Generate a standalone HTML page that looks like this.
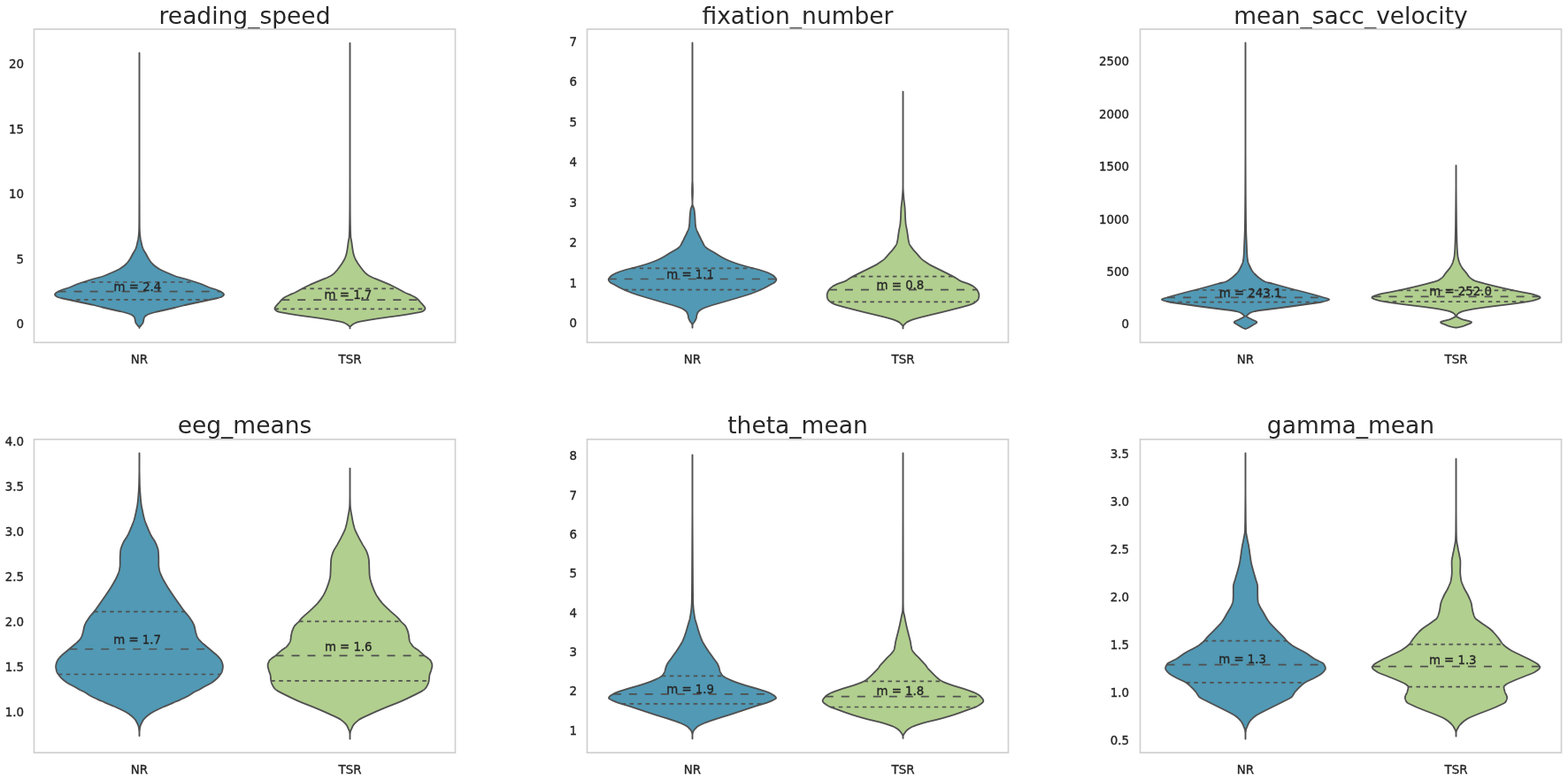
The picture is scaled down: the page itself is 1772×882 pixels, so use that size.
<!DOCTYPE html><html><head><meta charset="utf-8"><title>violins</title><style>html,body{margin:0;padding:0;background:#fff;overflow:hidden;}svg{display:block;}text{font-family:"DejaVu Sans","Liberation Sans",sans-serif;fill:#262626;}text.s{stroke:#262626;stroke-width:0.35px;}</style></head><body>
<svg width="1772" height="882" viewBox="0 0 1772 882">
<rect width="1772" height="882" fill="#fff"/>
<g>
<text x="276.5" y="26.9" text-anchor="middle" font-size="26.5">reading_speed</text>
<text x="27.1" y="371.2" class="s" text-anchor="end" font-size="13.4">0</text>
<text x="27.1" y="297.6" class="s" text-anchor="end" font-size="13.4">5</text>
<text x="27.1" y="224.0" class="s" text-anchor="end" font-size="13.4">10</text>
<text x="27.1" y="150.5" class="s" text-anchor="end" font-size="13.4">15</text>
<text x="27.1" y="76.9" class="s" text-anchor="end" font-size="13.4">20</text>
<text x="157.5" y="411.3" class="s" text-anchor="middle" font-size="13.4">NR</text>
<text x="395.5" y="411.3" class="s" text-anchor="middle" font-size="13.4">TSR</text>
<path d="M157.55,60.00 157.55,60.50 157.55,61.00 157.55,61.50 157.55,62.00 157.55,62.50 157.55,63.00 157.55,63.50 157.55,64.00 157.55,64.50 157.55,65.00 157.55,65.50 157.55,66.00 157.55,66.50 157.55,67.00 157.55,67.50 157.55,68.00 157.55,68.50 157.55,69.00 157.55,69.50 157.55,70.00 157.55,70.50 157.55,71.00 157.55,71.50 157.55,72.00 157.55,72.50 157.55,73.00 157.55,73.50 157.55,74.00 157.55,74.50 157.55,75.00 157.55,75.50 157.55,76.00 157.55,76.50 157.55,77.00 157.55,77.50 157.55,78.00 157.55,78.50 157.55,79.00 157.55,79.50 157.55,80.00 157.55,80.50 157.55,81.00 157.55,81.50 157.55,82.00 157.55,82.50 157.55,83.00 157.55,83.50 157.55,84.00 157.55,84.50 157.55,85.00 157.55,85.50 157.55,86.00 157.55,86.50 157.55,87.00 157.55,87.50 157.55,88.00 157.55,88.50 157.55,89.00 157.55,89.50 157.55,90.00 157.55,90.50 157.55,91.00 157.55,91.50 157.55,92.00 157.55,92.50 157.55,93.00 157.55,93.50 157.55,94.00 157.55,94.50 157.55,95.00 157.55,95.50 157.55,96.00 157.55,96.50 157.55,97.00 157.55,97.50 157.55,98.00 157.55,98.50 157.55,99.00 157.55,99.50 157.55,100.00 157.55,100.50 157.55,101.00 157.55,101.50 157.55,102.00 157.55,102.50 157.55,103.00 157.55,103.50 157.55,104.00 157.55,104.50 157.55,105.00 157.55,105.50 157.55,106.00 157.55,106.50 157.55,107.00 157.55,107.50 157.55,108.00 157.55,108.50 157.55,109.00 157.55,109.50 157.55,110.00 157.55,110.50 157.55,111.00 157.55,111.50 157.55,112.00 157.55,112.50 157.55,113.00 157.55,113.50 157.55,114.00 157.55,114.50 157.55,115.00 157.55,115.50 157.55,116.00 157.55,116.50 157.55,117.00 157.55,117.50 157.55,118.00 157.55,118.50 157.55,119.00 157.55,119.50 157.55,120.00 157.55,120.50 157.55,121.00 157.55,121.50 157.55,122.00 157.55,122.50 157.55,123.00 157.55,123.50 157.55,124.00 157.55,124.50 157.55,125.00 157.55,125.50 157.55,126.00 157.55,126.50 157.55,127.00 157.55,127.50 157.55,128.00 157.55,128.50 157.55,129.00 157.55,129.50 157.55,130.00 157.55,130.50 157.55,131.00 157.55,131.50 157.55,132.00 157.55,132.50 157.55,133.00 157.55,133.50 157.55,134.00 157.55,134.50 157.55,135.00 157.55,135.50 157.55,136.00 157.55,136.50 157.55,137.00 157.55,137.50 157.55,138.00 157.55,138.50 157.55,139.00 157.55,139.50 157.55,140.00 157.55,140.50 157.55,141.00 157.55,141.50 157.55,142.00 157.55,142.50 157.55,143.00 157.55,143.50 157.55,144.00 157.55,144.50 157.55,145.00 157.55,145.50 157.55,146.00 157.55,146.50 157.55,147.00 157.55,147.50 157.55,148.00 157.55,148.50 157.55,149.00 157.55,149.50 157.55,150.00 157.55,150.50 157.55,151.00 157.55,151.50 157.55,152.00 157.55,152.50 157.55,153.00 157.55,153.50 157.55,154.00 157.55,154.50 157.55,155.00 157.55,155.50 157.55,156.00 157.55,156.50 157.55,157.00 157.55,157.50 157.55,158.00 157.55,158.50 157.55,159.00 157.55,159.50 157.55,160.00 157.55,160.50 157.55,161.00 157.55,161.50 157.55,162.00 157.55,162.50 157.55,163.00 157.55,163.50 157.55,164.00 157.55,164.50 157.55,165.00 157.55,165.50 157.55,166.00 157.55,166.50 157.55,167.00 157.55,167.50 157.55,168.00 157.55,168.50 157.55,169.00 157.55,169.50 157.55,170.00 157.55,170.50 157.55,171.00 157.55,171.50 157.55,172.00 157.55,172.50 157.55,173.00 157.55,173.50 157.55,174.00 157.55,174.50 157.55,175.00 157.55,175.50 157.55,176.00 157.55,176.50 157.55,177.00 157.55,177.50 157.55,178.00 157.55,178.50 157.55,179.00 157.55,179.50 157.55,180.00 157.55,180.50 157.55,181.00 157.55,181.50 157.55,182.00 157.55,182.50 157.55,183.00 157.55,183.50 157.55,184.00 157.55,184.50 157.55,185.00 157.55,185.50 157.55,186.00 157.55,186.50 157.55,187.00 157.55,187.50 157.55,188.00 157.55,188.50 157.55,189.00 157.55,189.50 157.55,190.00 157.55,190.50 157.55,191.00 157.55,191.50 157.55,192.00 157.55,192.50 157.55,193.00 157.55,193.50 157.55,194.00 157.55,194.50 157.55,195.00 157.55,195.50 157.55,196.00 157.55,196.50 157.55,197.00 157.55,197.50 157.55,198.00 157.55,198.50 157.55,199.00 157.55,199.50 157.55,200.00 157.55,200.50 157.55,201.00 157.55,201.50 157.55,202.00 157.55,202.50 157.55,203.00 157.55,203.50 157.55,204.00 157.55,204.50 157.55,205.00 157.55,205.50 157.55,206.00 157.55,206.50 157.56,207.00 157.56,207.50 157.56,208.00 157.56,208.50 157.56,209.00 157.56,209.50 157.56,210.00 157.57,210.50 157.57,211.00 157.57,211.50 157.57,212.00 157.57,212.50 157.57,213.00 157.57,213.50 157.57,214.00 157.58,214.50 157.58,215.00 157.58,215.50 157.58,216.00 157.58,216.50 157.58,217.00 157.58,217.50 157.59,218.00 157.59,218.50 157.59,219.00 157.59,219.50 157.59,220.00 157.59,220.50 157.59,221.00 157.60,221.50 157.60,222.00 157.60,222.50 157.60,223.00 157.60,223.50 157.60,224.00 157.60,224.50 157.61,225.00 157.61,225.50 157.61,226.00 157.61,226.50 157.61,227.00 157.61,227.50 157.61,228.00 157.62,228.50 157.62,229.00 157.62,229.50 157.62,230.00 157.62,230.50 157.62,231.00 157.62,231.50 157.63,232.00 157.63,232.50 157.63,233.00 157.63,233.50 157.63,234.00 157.63,234.50 157.63,235.00 157.64,235.50 157.64,236.00 157.64,236.50 157.64,237.00 157.64,237.50 157.64,238.00 157.65,238.50 157.65,239.00 157.65,239.50 157.65,240.00 157.65,240.50 157.65,241.00 157.65,241.50 157.66,242.00 157.66,242.50 157.66,243.00 157.66,243.50 157.66,244.00 157.66,244.50 157.67,245.00 157.67,245.50 157.67,246.00 157.67,246.50 157.67,247.00 157.68,247.50 157.68,248.00 157.68,248.50 157.68,249.00 157.69,249.50 157.69,250.00 157.69,250.50 157.70,251.00 157.70,251.50 157.70,252.00 157.71,252.50 157.71,253.00 157.72,253.50 157.72,254.00 157.72,254.50 157.73,255.00 157.73,255.50 157.74,256.00 157.74,256.50 157.75,257.00 157.76,257.50 157.77,258.00 157.78,258.50 157.80,259.00 157.82,259.50 157.84,260.00 157.86,260.50 157.89,261.00 157.92,261.50 157.95,262.00 157.98,262.50 158.01,263.00 158.04,263.50 158.09,264.00 158.14,264.50 158.19,265.00 158.24,265.50 158.29,266.00 158.34,266.50 158.39,267.00 158.44,267.50 158.50,268.00 158.56,268.50 158.63,269.00 158.70,269.50 158.78,270.00 158.86,270.50 158.96,271.00 159.06,271.50 159.18,272.00 159.30,272.50 159.43,273.00 159.54,273.50 159.64,274.00 159.74,274.50 159.85,275.00 159.96,275.50 160.07,276.00 160.19,276.50 160.31,277.00 160.44,277.50 160.58,278.00 160.73,278.50 160.88,279.00 161.05,279.50 161.22,280.00 161.40,280.50 161.58,281.00 161.78,281.50 162.00,282.00 162.25,282.50 162.52,283.00 162.80,283.50 163.10,284.00 163.40,284.50 163.71,285.00 164.02,285.50 164.32,286.00 164.62,286.50 164.90,287.00 165.17,287.50 165.44,288.00 165.70,288.50 165.95,289.00 166.21,289.50 166.47,290.00 166.73,290.50 167.00,291.00 167.28,291.50 167.57,292.00 167.87,292.50 168.19,293.00 168.52,293.50 168.85,294.00 169.19,294.50 169.55,295.00 169.92,295.50 170.30,296.00 170.70,296.50 171.12,297.00 171.55,297.50 172.01,298.00 172.50,298.50 173.01,299.00 173.56,299.50 174.13,300.00 174.74,300.50 175.38,301.00 176.05,301.50 176.75,302.00 177.47,302.50 178.22,303.00 179.00,303.50 179.80,304.00 180.65,304.50 181.57,305.00 182.54,305.50 183.57,306.00 184.63,306.50 185.74,307.00 186.87,307.50 188.03,308.00 189.19,308.50 190.36,309.00 191.53,309.50 192.69,310.00 193.85,310.50 195.02,311.00 196.24,311.50 197.52,312.00 198.91,312.50 200.45,313.00 202.23,313.50 204.15,314.00 206.13,314.50 208.06,315.00 209.84,315.50 211.52,316.00 213.15,316.50 214.75,317.00 216.32,317.50 217.88,318.00 219.44,318.50 221.02,319.00 222.59,319.50 224.13,320.00 225.61,320.50 227.00,321.00 228.29,321.50 229.49,322.00 230.63,322.50 231.75,323.00 232.87,323.50 234.01,324.00 235.21,324.50 236.50,325.00 237.94,325.50 239.52,326.00 241.14,326.50 242.74,327.00 244.21,327.50 245.50,328.00 246.73,328.50 247.90,329.00 248.98,329.50 249.90,330.00 250.63,330.50 251.31,331.00 251.95,331.50 252.49,332.00 252.86,332.50 253.00,333.00 252.87,333.50 252.53,334.00 252.01,334.50 251.37,335.00 250.65,335.50 249.70,336.00 248.20,336.50 246.28,337.00 244.06,337.50 241.67,338.00 239.23,338.50 236.89,339.00 234.68,339.50 232.41,340.00 230.08,340.50 227.72,341.00 225.34,341.50 223.00,342.00 220.65,342.50 218.27,343.00 215.90,343.50 213.57,344.00 211.31,344.50 209.15,345.00 207.12,345.50 205.17,346.00 203.24,346.50 201.31,347.00 199.32,347.50 197.24,348.00 195.09,348.50 192.90,349.00 190.69,349.50 188.48,350.00 186.30,350.50 184.08,351.00 181.80,351.50 179.54,352.00 177.38,352.50 175.38,353.00 173.61,353.50 171.90,354.00 170.25,354.50 168.73,355.00 167.40,355.50 166.34,356.00 165.54,356.50 164.84,357.00 164.21,357.50 163.69,358.00 163.28,358.50 163.00,359.00 162.82,359.50 162.68,360.00 162.57,360.50 162.47,361.00 162.36,361.50 162.26,362.00 162.16,362.50 162.08,363.00 161.99,363.50 161.89,364.00 161.76,364.50 161.58,365.00 161.31,365.50 160.96,366.00 160.56,366.50 160.17,367.00 159.80,367.50 159.44,368.00 158.93,368.50 158.43,369.00 157.96,369.50 157.61,370.00 157.55,370.50 157.55,370.80 L157.45,370.80 157.45,370.50 157.39,370.00 157.04,369.50 156.57,369.00 156.07,368.50 155.56,368.00 155.20,367.50 154.83,367.00 154.44,366.50 154.04,366.00 153.69,365.50 153.42,365.00 153.24,364.50 153.11,364.00 153.01,363.50 152.92,363.00 152.84,362.50 152.74,362.00 152.64,361.50 152.53,361.00 152.43,360.50 152.32,360.00 152.18,359.50 152.00,359.00 151.72,358.50 151.31,358.00 150.79,357.50 150.16,357.00 149.46,356.50 148.66,356.00 147.60,355.50 146.27,355.00 144.75,354.50 143.10,354.00 141.39,353.50 139.62,353.00 137.62,352.50 135.46,352.00 133.20,351.50 130.92,351.00 128.70,350.50 126.52,350.00 124.31,349.50 122.10,349.00 119.91,348.50 117.76,348.00 115.68,347.50 113.69,347.00 111.76,346.50 109.83,346.00 107.88,345.50 105.85,345.00 103.69,344.50 101.43,344.00 99.10,343.50 96.73,343.00 94.35,342.50 92.00,342.00 89.66,341.50 87.28,341.00 84.92,340.50 82.59,340.00 80.32,339.50 78.11,339.00 75.77,338.50 73.33,338.00 70.94,337.50 68.72,337.00 66.80,336.50 65.30,336.00 64.35,335.50 63.63,335.00 62.99,334.50 62.47,334.00 62.13,333.50 62.00,333.00 62.14,332.50 62.51,332.00 63.05,331.50 63.69,331.00 64.37,330.50 65.10,330.00 66.02,329.50 67.10,329.00 68.27,328.50 69.50,328.00 70.79,327.50 72.26,327.00 73.86,326.50 75.48,326.00 77.06,325.50 78.50,325.00 79.79,324.50 80.99,324.00 82.13,323.50 83.25,323.00 84.37,322.50 85.51,322.00 86.71,321.50 88.00,321.00 89.39,320.50 90.87,320.00 92.41,319.50 93.98,319.00 95.56,318.50 97.12,318.00 98.68,317.50 100.25,317.00 101.85,316.50 103.48,316.00 105.16,315.50 106.94,315.00 108.87,314.50 110.85,314.00 112.77,313.50 114.55,313.00 116.09,312.50 117.48,312.00 118.76,311.50 119.98,311.00 121.15,310.50 122.31,310.00 123.47,309.50 124.64,309.00 125.81,308.50 126.97,308.00 128.13,307.50 129.26,307.00 130.37,306.50 131.43,306.00 132.46,305.50 133.43,305.00 134.35,304.50 135.20,304.00 136.00,303.50 136.78,303.00 137.53,302.50 138.25,302.00 138.95,301.50 139.62,301.00 140.26,300.50 140.87,300.00 141.44,299.50 141.99,299.00 142.50,298.50 142.99,298.00 143.45,297.50 143.88,297.00 144.30,296.50 144.70,296.00 145.08,295.50 145.45,295.00 145.81,294.50 146.15,294.00 146.48,293.50 146.81,293.00 147.13,292.50 147.43,292.00 147.72,291.50 148.00,291.00 148.27,290.50 148.53,290.00 148.79,289.50 149.05,289.00 149.30,288.50 149.56,288.00 149.83,287.50 150.10,287.00 150.38,286.50 150.68,286.00 150.98,285.50 151.29,285.00 151.60,284.50 151.90,284.00 152.20,283.50 152.48,283.00 152.75,282.50 153.00,282.00 153.22,281.50 153.42,281.00 153.60,280.50 153.78,280.00 153.95,279.50 154.12,279.00 154.27,278.50 154.42,278.00 154.56,277.50 154.69,277.00 154.81,276.50 154.93,276.00 155.04,275.50 155.15,275.00 155.26,274.50 155.36,274.00 155.46,273.50 155.57,273.00 155.70,272.50 155.82,272.00 155.94,271.50 156.04,271.00 156.14,270.50 156.22,270.00 156.30,269.50 156.37,269.00 156.44,268.50 156.50,268.00 156.56,267.50 156.61,267.00 156.66,266.50 156.71,266.00 156.76,265.50 156.81,265.00 156.86,264.50 156.91,264.00 156.96,263.50 156.99,263.00 157.02,262.50 157.05,262.00 157.08,261.50 157.11,261.00 157.14,260.50 157.16,260.00 157.18,259.50 157.20,259.00 157.22,258.50 157.23,258.00 157.24,257.50 157.25,257.00 157.26,256.50 157.26,256.00 157.27,255.50 157.27,255.00 157.28,254.50 157.28,254.00 157.28,253.50 157.29,253.00 157.29,252.50 157.30,252.00 157.30,251.50 157.30,251.00 157.31,250.50 157.31,250.00 157.31,249.50 157.32,249.00 157.32,248.50 157.32,248.00 157.32,247.50 157.33,247.00 157.33,246.50 157.33,246.00 157.33,245.50 157.33,245.00 157.34,244.50 157.34,244.00 157.34,243.50 157.34,243.00 157.34,242.50 157.34,242.00 157.35,241.50 157.35,241.00 157.35,240.50 157.35,240.00 157.35,239.50 157.35,239.00 157.35,238.50 157.36,238.00 157.36,237.50 157.36,237.00 157.36,236.50 157.36,236.00 157.36,235.50 157.37,235.00 157.37,234.50 157.37,234.00 157.37,233.50 157.37,233.00 157.37,232.50 157.37,232.00 157.38,231.50 157.38,231.00 157.38,230.50 157.38,230.00 157.38,229.50 157.38,229.00 157.38,228.50 157.39,228.00 157.39,227.50 157.39,227.00 157.39,226.50 157.39,226.00 157.39,225.50 157.39,225.00 157.40,224.50 157.40,224.00 157.40,223.50 157.40,223.00 157.40,222.50 157.40,222.00 157.40,221.50 157.41,221.00 157.41,220.50 157.41,220.00 157.41,219.50 157.41,219.00 157.41,218.50 157.41,218.00 157.42,217.50 157.42,217.00 157.42,216.50 157.42,216.00 157.42,215.50 157.42,215.00 157.42,214.50 157.43,214.00 157.43,213.50 157.43,213.00 157.43,212.50 157.43,212.00 157.43,211.50 157.43,211.00 157.43,210.50 157.44,210.00 157.44,209.50 157.44,209.00 157.44,208.50 157.44,208.00 157.44,207.50 157.44,207.00 157.45,206.50 157.45,206.00 157.45,205.50 157.45,205.00 157.45,204.50 157.45,204.00 157.45,203.50 157.45,203.00 157.45,202.50 157.45,202.00 157.45,201.50 157.45,201.00 157.45,200.50 157.45,200.00 157.45,199.50 157.45,199.00 157.45,198.50 157.45,198.00 157.45,197.50 157.45,197.00 157.45,196.50 157.45,196.00 157.45,195.50 157.45,195.00 157.45,194.50 157.45,194.00 157.45,193.50 157.45,193.00 157.45,192.50 157.45,192.00 157.45,191.50 157.45,191.00 157.45,190.50 157.45,190.00 157.45,189.50 157.45,189.00 157.45,188.50 157.45,188.00 157.45,187.50 157.45,187.00 157.45,186.50 157.45,186.00 157.45,185.50 157.45,185.00 157.45,184.50 157.45,184.00 157.45,183.50 157.45,183.00 157.45,182.50 157.45,182.00 157.45,181.50 157.45,181.00 157.45,180.50 157.45,180.00 157.45,179.50 157.45,179.00 157.45,178.50 157.45,178.00 157.45,177.50 157.45,177.00 157.45,176.50 157.45,176.00 157.45,175.50 157.45,175.00 157.45,174.50 157.45,174.00 157.45,173.50 157.45,173.00 157.45,172.50 157.45,172.00 157.45,171.50 157.45,171.00 157.45,170.50 157.45,170.00 157.45,169.50 157.45,169.00 157.45,168.50 157.45,168.00 157.45,167.50 157.45,167.00 157.45,166.50 157.45,166.00 157.45,165.50 157.45,165.00 157.45,164.50 157.45,164.00 157.45,163.50 157.45,163.00 157.45,162.50 157.45,162.00 157.45,161.50 157.45,161.00 157.45,160.50 157.45,160.00 157.45,159.50 157.45,159.00 157.45,158.50 157.45,158.00 157.45,157.50 157.45,157.00 157.45,156.50 157.45,156.00 157.45,155.50 157.45,155.00 157.45,154.50 157.45,154.00 157.45,153.50 157.45,153.00 157.45,152.50 157.45,152.00 157.45,151.50 157.45,151.00 157.45,150.50 157.45,150.00 157.45,149.50 157.45,149.00 157.45,148.50 157.45,148.00 157.45,147.50 157.45,147.00 157.45,146.50 157.45,146.00 157.45,145.50 157.45,145.00 157.45,144.50 157.45,144.00 157.45,143.50 157.45,143.00 157.45,142.50 157.45,142.00 157.45,141.50 157.45,141.00 157.45,140.50 157.45,140.00 157.45,139.50 157.45,139.00 157.45,138.50 157.45,138.00 157.45,137.50 157.45,137.00 157.45,136.50 157.45,136.00 157.45,135.50 157.45,135.00 157.45,134.50 157.45,134.00 157.45,133.50 157.45,133.00 157.45,132.50 157.45,132.00 157.45,131.50 157.45,131.00 157.45,130.50 157.45,130.00 157.45,129.50 157.45,129.00 157.45,128.50 157.45,128.00 157.45,127.50 157.45,127.00 157.45,126.50 157.45,126.00 157.45,125.50 157.45,125.00 157.45,124.50 157.45,124.00 157.45,123.50 157.45,123.00 157.45,122.50 157.45,122.00 157.45,121.50 157.45,121.00 157.45,120.50 157.45,120.00 157.45,119.50 157.45,119.00 157.45,118.50 157.45,118.00 157.45,117.50 157.45,117.00 157.45,116.50 157.45,116.00 157.45,115.50 157.45,115.00 157.45,114.50 157.45,114.00 157.45,113.50 157.45,113.00 157.45,112.50 157.45,112.00 157.45,111.50 157.45,111.00 157.45,110.50 157.45,110.00 157.45,109.50 157.45,109.00 157.45,108.50 157.45,108.00 157.45,107.50 157.45,107.00 157.45,106.50 157.45,106.00 157.45,105.50 157.45,105.00 157.45,104.50 157.45,104.00 157.45,103.50 157.45,103.00 157.45,102.50 157.45,102.00 157.45,101.50 157.45,101.00 157.45,100.50 157.45,100.00 157.45,99.50 157.45,99.00 157.45,98.50 157.45,98.00 157.45,97.50 157.45,97.00 157.45,96.50 157.45,96.00 157.45,95.50 157.45,95.00 157.45,94.50 157.45,94.00 157.45,93.50 157.45,93.00 157.45,92.50 157.45,92.00 157.45,91.50 157.45,91.00 157.45,90.50 157.45,90.00 157.45,89.50 157.45,89.00 157.45,88.50 157.45,88.00 157.45,87.50 157.45,87.00 157.45,86.50 157.45,86.00 157.45,85.50 157.45,85.00 157.45,84.50 157.45,84.00 157.45,83.50 157.45,83.00 157.45,82.50 157.45,82.00 157.45,81.50 157.45,81.00 157.45,80.50 157.45,80.00 157.45,79.50 157.45,79.00 157.45,78.50 157.45,78.00 157.45,77.50 157.45,77.00 157.45,76.50 157.45,76.00 157.45,75.50 157.45,75.00 157.45,74.50 157.45,74.00 157.45,73.50 157.45,73.00 157.45,72.50 157.45,72.00 157.45,71.50 157.45,71.00 157.45,70.50 157.45,70.00 157.45,69.50 157.45,69.00 157.45,68.50 157.45,68.00 157.45,67.50 157.45,67.00 157.45,66.50 157.45,66.00 157.45,65.50 157.45,65.00 157.45,64.50 157.45,64.00 157.45,63.50 157.45,63.00 157.45,62.50 157.45,62.00 157.45,61.50 157.45,61.00 157.45,60.50 157.45,60.00 Z" fill="#5199b5" stroke="#505050" stroke-width="1.8" stroke-linejoin="round"/>
<line x1="93.98" y1="319.00" x2="221.02" y2="319.00" stroke="#505050" stroke-width="1.7" stroke-dasharray="4.5 4.5"/>
<line x1="65.63" y1="329.70" x2="249.37" y2="329.70" stroke="#505050" stroke-width="1.7" stroke-dasharray="9 9"/>
<line x1="77.19" y1="338.80" x2="237.81" y2="338.80" stroke="#505050" stroke-width="1.7" stroke-dasharray="4.5 4.5"/>
<text x="128.6" y="329.3" class="s" font-size="13.3">m = 2.4</text>
<path d="M395.55,48.70 395.55,49.20 395.55,49.70 395.55,50.20 395.55,50.70 395.55,51.20 395.55,51.70 395.55,52.20 395.55,52.70 395.55,53.20 395.55,53.70 395.55,54.20 395.55,54.70 395.55,55.20 395.55,55.70 395.55,56.20 395.55,56.70 395.55,57.20 395.55,57.70 395.55,58.20 395.55,58.70 395.55,59.20 395.55,59.70 395.55,60.20 395.55,60.70 395.55,61.20 395.55,61.70 395.55,62.20 395.55,62.70 395.55,63.20 395.55,63.70 395.55,64.20 395.55,64.70 395.55,65.20 395.55,65.70 395.55,66.20 395.55,66.70 395.55,67.20 395.55,67.70 395.55,68.20 395.55,68.70 395.55,69.20 395.55,69.70 395.55,70.20 395.55,70.70 395.55,71.20 395.55,71.70 395.55,72.20 395.55,72.70 395.55,73.20 395.55,73.70 395.55,74.20 395.55,74.70 395.55,75.20 395.55,75.70 395.55,76.20 395.55,76.70 395.55,77.20 395.55,77.70 395.55,78.20 395.55,78.70 395.55,79.20 395.55,79.70 395.55,80.20 395.55,80.70 395.55,81.20 395.55,81.70 395.55,82.20 395.55,82.70 395.55,83.20 395.55,83.70 395.55,84.20 395.55,84.70 395.55,85.20 395.55,85.70 395.55,86.20 395.55,86.70 395.55,87.20 395.55,87.70 395.55,88.20 395.55,88.70 395.55,89.20 395.55,89.70 395.55,90.20 395.55,90.70 395.55,91.20 395.55,91.70 395.55,92.20 395.55,92.70 395.55,93.20 395.55,93.70 395.55,94.20 395.55,94.70 395.55,95.20 395.55,95.70 395.55,96.20 395.55,96.70 395.55,97.20 395.55,97.70 395.55,98.20 395.55,98.70 395.55,99.20 395.55,99.70 395.55,100.20 395.55,100.70 395.55,101.20 395.55,101.70 395.55,102.20 395.55,102.70 395.55,103.20 395.55,103.70 395.55,104.20 395.55,104.70 395.55,105.20 395.55,105.70 395.55,106.20 395.55,106.70 395.55,107.20 395.55,107.70 395.55,108.20 395.55,108.70 395.55,109.20 395.55,109.70 395.55,110.20 395.55,110.70 395.55,111.20 395.55,111.70 395.55,112.20 395.55,112.70 395.55,113.20 395.55,113.70 395.55,114.20 395.55,114.70 395.55,115.20 395.55,115.70 395.55,116.20 395.55,116.70 395.55,117.20 395.55,117.70 395.55,118.20 395.55,118.70 395.55,119.20 395.55,119.70 395.55,120.20 395.55,120.70 395.55,121.20 395.55,121.70 395.55,122.20 395.55,122.70 395.55,123.20 395.55,123.70 395.55,124.20 395.55,124.70 395.55,125.20 395.55,125.70 395.55,126.20 395.55,126.70 395.55,127.20 395.55,127.70 395.55,128.20 395.55,128.70 395.55,129.20 395.55,129.70 395.55,130.20 395.55,130.70 395.55,131.20 395.55,131.70 395.55,132.20 395.55,132.70 395.55,133.20 395.55,133.70 395.55,134.20 395.55,134.70 395.55,135.20 395.55,135.70 395.55,136.20 395.55,136.70 395.55,137.20 395.55,137.70 395.55,138.20 395.55,138.70 395.55,139.20 395.55,139.70 395.55,140.20 395.55,140.70 395.55,141.20 395.55,141.70 395.55,142.20 395.55,142.70 395.55,143.20 395.55,143.70 395.55,144.20 395.55,144.70 395.55,145.20 395.55,145.70 395.55,146.20 395.55,146.70 395.55,147.20 395.55,147.70 395.55,148.20 395.55,148.70 395.55,149.20 395.55,149.70 395.55,150.20 395.55,150.70 395.55,151.20 395.55,151.70 395.55,152.20 395.55,152.70 395.55,153.20 395.55,153.70 395.55,154.20 395.55,154.70 395.55,155.20 395.55,155.70 395.55,156.20 395.55,156.70 395.55,157.20 395.55,157.70 395.55,158.20 395.55,158.70 395.55,159.20 395.55,159.70 395.55,160.20 395.55,160.70 395.55,161.20 395.55,161.70 395.55,162.20 395.55,162.70 395.55,163.20 395.55,163.70 395.55,164.20 395.55,164.70 395.55,165.20 395.55,165.70 395.55,166.20 395.55,166.70 395.55,167.20 395.55,167.70 395.55,168.20 395.55,168.70 395.55,169.20 395.55,169.70 395.55,170.20 395.55,170.70 395.55,171.20 395.55,171.70 395.55,172.20 395.55,172.70 395.55,173.20 395.55,173.70 395.55,174.20 395.55,174.70 395.55,175.20 395.55,175.70 395.55,176.20 395.55,176.70 395.55,177.20 395.55,177.70 395.55,178.20 395.55,178.70 395.55,179.20 395.55,179.70 395.55,180.20 395.55,180.70 395.55,181.20 395.55,181.70 395.55,182.20 395.55,182.70 395.55,183.20 395.55,183.70 395.55,184.20 395.55,184.70 395.55,185.20 395.55,185.70 395.55,186.20 395.55,186.70 395.55,187.20 395.55,187.70 395.55,188.20 395.55,188.70 395.55,189.20 395.55,189.70 395.55,190.20 395.55,190.70 395.55,191.20 395.55,191.70 395.55,192.20 395.55,192.70 395.55,193.20 395.55,193.70 395.55,194.20 395.55,194.70 395.55,195.20 395.55,195.70 395.55,196.20 395.55,196.70 395.55,197.20 395.55,197.70 395.55,198.20 395.55,198.70 395.55,199.20 395.55,199.70 395.55,200.20 395.55,200.70 395.56,201.20 395.56,201.70 395.56,202.20 395.56,202.70 395.56,203.20 395.56,203.70 395.56,204.20 395.57,204.70 395.57,205.20 395.57,205.70 395.57,206.20 395.57,206.70 395.57,207.20 395.57,207.70 395.58,208.20 395.58,208.70 395.58,209.20 395.58,209.70 395.58,210.20 395.58,210.70 395.59,211.20 395.59,211.70 395.59,212.20 395.59,212.70 395.59,213.20 395.59,213.70 395.60,214.20 395.60,214.70 395.60,215.20 395.60,215.70 395.60,216.20 395.60,216.70 395.61,217.20 395.61,217.70 395.61,218.20 395.61,218.70 395.61,219.20 395.61,219.70 395.62,220.20 395.62,220.70 395.62,221.20 395.62,221.70 395.62,222.20 395.62,222.70 395.63,223.20 395.63,223.70 395.63,224.20 395.63,224.70 395.63,225.20 395.63,225.70 395.64,226.20 395.64,226.70 395.64,227.20 395.64,227.70 395.64,228.20 395.65,228.70 395.65,229.20 395.65,229.70 395.65,230.20 395.65,230.70 395.65,231.20 395.66,231.70 395.66,232.20 395.66,232.70 395.66,233.20 395.67,233.70 395.67,234.20 395.67,234.70 395.67,235.20 395.68,235.70 395.68,236.20 395.68,236.70 395.69,237.20 395.69,237.70 395.69,238.20 395.70,238.70 395.70,239.20 395.70,239.70 395.71,240.20 395.71,240.70 395.72,241.20 395.72,241.70 395.73,242.20 395.73,242.70 395.74,243.20 395.74,243.70 395.75,244.20 395.75,244.70 395.76,245.20 395.76,245.70 395.77,246.20 395.78,246.70 395.78,247.20 395.79,247.70 395.80,248.20 395.80,248.70 395.81,249.20 395.82,249.70 395.83,250.20 395.83,250.70 395.84,251.20 395.85,251.70 395.86,252.20 395.87,252.70 395.88,253.20 395.89,253.70 395.90,254.20 395.91,254.70 395.92,255.20 395.93,255.70 395.94,256.20 395.95,256.70 395.96,257.20 395.97,257.70 395.98,258.20 395.99,258.70 396.00,259.20 396.02,259.70 396.03,260.20 396.04,260.70 396.06,261.20 396.08,261.70 396.10,262.20 396.12,262.70 396.14,263.20 396.16,263.70 396.18,264.20 396.21,264.70 396.23,265.20 396.25,265.70 396.28,266.20 396.30,266.70 396.32,267.20 396.35,267.70 396.40,268.20 396.46,268.70 396.54,269.20 396.63,269.70 396.72,270.20 396.82,270.70 396.92,271.20 397.01,271.70 397.10,272.20 397.19,272.70 397.27,273.20 397.36,273.70 397.45,274.20 397.52,274.70 397.58,275.20 397.65,275.70 397.71,276.20 397.77,276.70 397.84,277.20 397.91,277.70 397.97,278.20 398.04,278.70 398.11,279.20 398.19,279.70 398.26,280.20 398.33,280.70 398.41,281.20 398.48,281.70 398.56,282.20 398.64,282.70 398.72,283.20 398.81,283.70 398.90,284.20 398.99,284.70 399.09,285.20 399.20,285.70 399.31,286.20 399.43,286.70 399.56,287.20 399.70,287.70 399.84,288.20 399.99,288.70 400.15,289.20 400.32,289.70 400.49,290.20 400.67,290.70 400.86,291.20 401.06,291.70 401.28,292.20 401.52,292.70 401.77,293.20 402.04,293.70 402.32,294.20 402.61,294.70 402.90,295.20 403.20,295.70 403.51,296.20 403.82,296.70 404.12,297.20 404.44,297.70 404.76,298.20 405.10,298.70 405.44,299.20 405.79,299.70 406.15,300.20 406.51,300.70 406.88,301.20 407.25,301.70 407.62,302.20 408.00,302.70 408.38,303.20 408.75,303.70 409.12,304.20 409.50,304.70 409.88,305.20 410.28,305.70 410.68,306.20 411.10,306.70 411.54,307.20 412.01,307.70 412.50,308.20 413.02,308.70 413.59,309.20 414.21,309.70 414.86,310.20 415.56,310.70 416.30,311.20 417.11,311.70 417.98,312.20 418.90,312.70 419.87,313.20 420.88,313.70 421.93,314.20 423.07,314.70 424.28,315.20 425.52,315.70 426.77,316.20 427.98,316.70 429.19,317.20 430.39,317.70 431.60,318.20 432.81,318.70 434.01,319.20 435.20,319.70 436.40,320.20 437.60,320.70 438.80,321.20 439.97,321.70 441.12,322.20 442.22,322.70 443.27,323.20 444.30,323.70 445.31,324.20 446.29,324.70 447.27,325.20 448.23,325.70 449.19,326.20 450.13,326.70 451.05,327.20 451.96,327.70 452.86,328.20 453.76,328.70 454.66,329.20 455.58,329.70 456.53,330.20 457.50,330.70 458.53,331.20 459.63,331.70 460.77,332.20 461.95,332.70 463.13,333.20 464.31,333.70 465.45,334.20 466.55,334.70 467.57,335.20 468.51,335.70 469.35,336.20 470.07,336.70 470.73,337.20 471.33,337.70 471.88,338.20 472.40,338.70 472.89,339.20 473.34,339.70 473.77,340.20 474.19,340.70 474.61,341.20 475.03,341.70 475.48,342.20 475.96,342.70 476.45,343.20 476.94,343.70 477.40,344.20 477.82,344.70 478.22,345.20 478.65,345.70 479.09,346.20 479.51,346.70 479.88,347.20 480.19,347.70 480.40,348.20 480.50,348.70 480.45,349.20 480.24,349.70 479.90,350.20 479.43,350.70 478.84,351.20 478.16,351.70 477.40,352.20 476.05,352.70 473.85,353.20 471.13,353.70 468.25,354.20 465.52,354.70 462.68,355.20 459.66,355.70 456.49,356.20 453.20,356.70 449.67,357.20 445.89,357.70 442.03,358.20 438.25,358.70 434.70,359.20 431.22,359.70 427.80,360.20 424.48,360.70 421.29,361.20 418.28,361.70 415.36,362.20 412.40,362.70 409.53,363.20 406.91,363.70 404.68,364.20 403.00,364.70 401.72,365.20 400.58,365.70 399.59,366.20 398.77,366.70 398.11,367.20 397.61,367.70 397.00,368.20 396.38,368.70 395.89,369.20 395.56,369.70 395.55,370.20 395.55,370.70 395.55,371.20 395.55,371.30 L395.45,371.30 395.45,371.20 395.45,370.70 395.45,370.20 395.44,369.70 395.11,369.20 394.62,368.70 394.00,368.20 393.39,367.70 392.89,367.20 392.23,366.70 391.41,366.20 390.42,365.70 389.28,365.20 388.00,364.70 386.32,364.20 384.09,363.70 381.47,363.20 378.60,362.70 375.64,362.20 372.72,361.70 369.71,361.20 366.52,360.70 363.20,360.20 359.78,359.70 356.30,359.20 352.75,358.70 348.97,358.20 345.11,357.70 341.33,357.20 337.80,356.70 334.51,356.20 331.34,355.70 328.32,355.20 325.48,354.70 322.75,354.20 319.87,353.70 317.15,353.20 314.95,352.70 313.60,352.20 312.84,351.70 312.16,351.20 311.57,350.70 311.10,350.20 310.76,349.70 310.55,349.20 310.50,348.70 310.60,348.20 310.81,347.70 311.12,347.20 311.49,346.70 311.91,346.20 312.35,345.70 312.78,345.20 313.18,344.70 313.60,344.20 314.06,343.70 314.55,343.20 315.04,342.70 315.52,342.20 315.97,341.70 316.39,341.20 316.81,340.70 317.23,340.20 317.66,339.70 318.11,339.20 318.60,338.70 319.12,338.20 319.67,337.70 320.27,337.20 320.93,336.70 321.65,336.20 322.49,335.70 323.43,335.20 324.45,334.70 325.55,334.20 326.69,333.70 327.87,333.20 329.05,332.70 330.23,332.20 331.37,331.70 332.47,331.20 333.50,330.70 334.47,330.20 335.42,329.70 336.34,329.20 337.24,328.70 338.14,328.20 339.04,327.70 339.95,327.20 340.87,326.70 341.81,326.20 342.77,325.70 343.73,325.20 344.71,324.70 345.69,324.20 346.70,323.70 347.73,323.20 348.78,322.70 349.88,322.20 351.03,321.70 352.20,321.20 353.40,320.70 354.60,320.20 355.80,319.70 356.99,319.20 358.19,318.70 359.40,318.20 360.61,317.70 361.81,317.20 363.02,316.70 364.23,316.20 365.48,315.70 366.72,315.20 367.93,314.70 369.07,314.20 370.12,313.70 371.13,313.20 372.10,312.70 373.02,312.20 373.89,311.70 374.70,311.20 375.44,310.70 376.14,310.20 376.79,309.70 377.41,309.20 377.98,308.70 378.50,308.20 378.99,307.70 379.46,307.20 379.90,306.70 380.32,306.20 380.72,305.70 381.12,305.20 381.50,304.70 381.88,304.20 382.25,303.70 382.62,303.20 383.00,302.70 383.38,302.20 383.75,301.70 384.12,301.20 384.49,300.70 384.85,300.20 385.21,299.70 385.56,299.20 385.90,298.70 386.24,298.20 386.56,297.70 386.88,297.20 387.18,296.70 387.49,296.20 387.80,295.70 388.10,295.20 388.39,294.70 388.68,294.20 388.96,293.70 389.23,293.20 389.48,292.70 389.72,292.20 389.94,291.70 390.14,291.20 390.33,290.70 390.51,290.20 390.68,289.70 390.85,289.20 391.01,288.70 391.16,288.20 391.30,287.70 391.44,287.20 391.57,286.70 391.69,286.20 391.80,285.70 391.91,285.20 392.01,284.70 392.10,284.20 392.19,283.70 392.28,283.20 392.36,282.70 392.44,282.20 392.52,281.70 392.59,281.20 392.67,280.70 392.74,280.20 392.81,279.70 392.89,279.20 392.96,278.70 393.03,278.20 393.09,277.70 393.16,277.20 393.23,276.70 393.29,276.20 393.35,275.70 393.42,275.20 393.48,274.70 393.55,274.20 393.64,273.70 393.73,273.20 393.81,272.70 393.90,272.20 393.99,271.70 394.08,271.20 394.18,270.70 394.28,270.20 394.37,269.70 394.46,269.20 394.54,268.70 394.60,268.20 394.65,267.70 394.68,267.20 394.70,266.70 394.72,266.20 394.75,265.70 394.77,265.20 394.79,264.70 394.82,264.20 394.84,263.70 394.86,263.20 394.88,262.70 394.90,262.20 394.92,261.70 394.94,261.20 394.96,260.70 394.97,260.20 394.98,259.70 395.00,259.20 395.01,258.70 395.02,258.20 395.03,257.70 395.04,257.20 395.05,256.70 395.06,256.20 395.07,255.70 395.08,255.20 395.09,254.70 395.10,254.20 395.11,253.70 395.12,253.20 395.13,252.70 395.14,252.20 395.15,251.70 395.16,251.20 395.17,250.70 395.17,250.20 395.18,249.70 395.19,249.20 395.20,248.70 395.20,248.20 395.21,247.70 395.22,247.20 395.22,246.70 395.23,246.20 395.24,245.70 395.24,245.20 395.25,244.70 395.25,244.20 395.26,243.70 395.26,243.20 395.27,242.70 395.27,242.20 395.28,241.70 395.28,241.20 395.29,240.70 395.29,240.20 395.30,239.70 395.30,239.20 395.30,238.70 395.31,238.20 395.31,237.70 395.31,237.20 395.32,236.70 395.32,236.20 395.32,235.70 395.33,235.20 395.33,234.70 395.33,234.20 395.33,233.70 395.34,233.20 395.34,232.70 395.34,232.20 395.34,231.70 395.35,231.20 395.35,230.70 395.35,230.20 395.35,229.70 395.35,229.20 395.35,228.70 395.36,228.20 395.36,227.70 395.36,227.20 395.36,226.70 395.36,226.20 395.37,225.70 395.37,225.20 395.37,224.70 395.37,224.20 395.37,223.70 395.37,223.20 395.38,222.70 395.38,222.20 395.38,221.70 395.38,221.20 395.38,220.70 395.38,220.20 395.39,219.70 395.39,219.20 395.39,218.70 395.39,218.20 395.39,217.70 395.39,217.20 395.40,216.70 395.40,216.20 395.40,215.70 395.40,215.20 395.40,214.70 395.40,214.20 395.41,213.70 395.41,213.20 395.41,212.70 395.41,212.20 395.41,211.70 395.41,211.20 395.42,210.70 395.42,210.20 395.42,209.70 395.42,209.20 395.42,208.70 395.42,208.20 395.43,207.70 395.43,207.20 395.43,206.70 395.43,206.20 395.43,205.70 395.43,205.20 395.43,204.70 395.44,204.20 395.44,203.70 395.44,203.20 395.44,202.70 395.44,202.20 395.44,201.70 395.44,201.20 395.45,200.70 395.45,200.20 395.45,199.70 395.45,199.20 395.45,198.70 395.45,198.20 395.45,197.70 395.45,197.20 395.45,196.70 395.45,196.20 395.45,195.70 395.45,195.20 395.45,194.70 395.45,194.20 395.45,193.70 395.45,193.20 395.45,192.70 395.45,192.20 395.45,191.70 395.45,191.20 395.45,190.70 395.45,190.20 395.45,189.70 395.45,189.20 395.45,188.70 395.45,188.20 395.45,187.70 395.45,187.20 395.45,186.70 395.45,186.20 395.45,185.70 395.45,185.20 395.45,184.70 395.45,184.20 395.45,183.70 395.45,183.20 395.45,182.70 395.45,182.20 395.45,181.70 395.45,181.20 395.45,180.70 395.45,180.20 395.45,179.70 395.45,179.20 395.45,178.70 395.45,178.20 395.45,177.70 395.45,177.20 395.45,176.70 395.45,176.20 395.45,175.70 395.45,175.20 395.45,174.70 395.45,174.20 395.45,173.70 395.45,173.20 395.45,172.70 395.45,172.20 395.45,171.70 395.45,171.20 395.45,170.70 395.45,170.20 395.45,169.70 395.45,169.20 395.45,168.70 395.45,168.20 395.45,167.70 395.45,167.20 395.45,166.70 395.45,166.20 395.45,165.70 395.45,165.20 395.45,164.70 395.45,164.20 395.45,163.70 395.45,163.20 395.45,162.70 395.45,162.20 395.45,161.70 395.45,161.20 395.45,160.70 395.45,160.20 395.45,159.70 395.45,159.20 395.45,158.70 395.45,158.20 395.45,157.70 395.45,157.20 395.45,156.70 395.45,156.20 395.45,155.70 395.45,155.20 395.45,154.70 395.45,154.20 395.45,153.70 395.45,153.20 395.45,152.70 395.45,152.20 395.45,151.70 395.45,151.20 395.45,150.70 395.45,150.20 395.45,149.70 395.45,149.20 395.45,148.70 395.45,148.20 395.45,147.70 395.45,147.20 395.45,146.70 395.45,146.20 395.45,145.70 395.45,145.20 395.45,144.70 395.45,144.20 395.45,143.70 395.45,143.20 395.45,142.70 395.45,142.20 395.45,141.70 395.45,141.20 395.45,140.70 395.45,140.20 395.45,139.70 395.45,139.20 395.45,138.70 395.45,138.20 395.45,137.70 395.45,137.20 395.45,136.70 395.45,136.20 395.45,135.70 395.45,135.20 395.45,134.70 395.45,134.20 395.45,133.70 395.45,133.20 395.45,132.70 395.45,132.20 395.45,131.70 395.45,131.20 395.45,130.70 395.45,130.20 395.45,129.70 395.45,129.20 395.45,128.70 395.45,128.20 395.45,127.70 395.45,127.20 395.45,126.70 395.45,126.20 395.45,125.70 395.45,125.20 395.45,124.70 395.45,124.20 395.45,123.70 395.45,123.20 395.45,122.70 395.45,122.20 395.45,121.70 395.45,121.20 395.45,120.70 395.45,120.20 395.45,119.70 395.45,119.20 395.45,118.70 395.45,118.20 395.45,117.70 395.45,117.20 395.45,116.70 395.45,116.20 395.45,115.70 395.45,115.20 395.45,114.70 395.45,114.20 395.45,113.70 395.45,113.20 395.45,112.70 395.45,112.20 395.45,111.70 395.45,111.20 395.45,110.70 395.45,110.20 395.45,109.70 395.45,109.20 395.45,108.70 395.45,108.20 395.45,107.70 395.45,107.20 395.45,106.70 395.45,106.20 395.45,105.70 395.45,105.20 395.45,104.70 395.45,104.20 395.45,103.70 395.45,103.20 395.45,102.70 395.45,102.20 395.45,101.70 395.45,101.20 395.45,100.70 395.45,100.20 395.45,99.70 395.45,99.20 395.45,98.70 395.45,98.20 395.45,97.70 395.45,97.20 395.45,96.70 395.45,96.20 395.45,95.70 395.45,95.20 395.45,94.70 395.45,94.20 395.45,93.70 395.45,93.20 395.45,92.70 395.45,92.20 395.45,91.70 395.45,91.20 395.45,90.70 395.45,90.20 395.45,89.70 395.45,89.20 395.45,88.70 395.45,88.20 395.45,87.70 395.45,87.20 395.45,86.70 395.45,86.20 395.45,85.70 395.45,85.20 395.45,84.70 395.45,84.20 395.45,83.70 395.45,83.20 395.45,82.70 395.45,82.20 395.45,81.70 395.45,81.20 395.45,80.70 395.45,80.20 395.45,79.70 395.45,79.20 395.45,78.70 395.45,78.20 395.45,77.70 395.45,77.20 395.45,76.70 395.45,76.20 395.45,75.70 395.45,75.20 395.45,74.70 395.45,74.20 395.45,73.70 395.45,73.20 395.45,72.70 395.45,72.20 395.45,71.70 395.45,71.20 395.45,70.70 395.45,70.20 395.45,69.70 395.45,69.20 395.45,68.70 395.45,68.20 395.45,67.70 395.45,67.20 395.45,66.70 395.45,66.20 395.45,65.70 395.45,65.20 395.45,64.70 395.45,64.20 395.45,63.70 395.45,63.20 395.45,62.70 395.45,62.20 395.45,61.70 395.45,61.20 395.45,60.70 395.45,60.20 395.45,59.70 395.45,59.20 395.45,58.70 395.45,58.20 395.45,57.70 395.45,57.20 395.45,56.70 395.45,56.20 395.45,55.70 395.45,55.20 395.45,54.70 395.45,54.20 395.45,53.70 395.45,53.20 395.45,52.70 395.45,52.20 395.45,51.70 395.45,51.20 395.45,50.70 395.45,50.20 395.45,49.70 395.45,49.20 395.45,48.70 Z" fill="#b1cf8e" stroke="#505050" stroke-width="1.8" stroke-linejoin="round"/>
<line x1="341.43" y1="326.40" x2="449.57" y2="326.40" stroke="#505050" stroke-width="1.7" stroke-dasharray="4.5 4.5"/>
<line x1="318.21" y1="339.10" x2="472.79" y2="339.10" stroke="#505050" stroke-width="1.7" stroke-dasharray="9 9"/>
<line x1="310.62" y1="349.40" x2="480.38" y2="349.40" stroke="#505050" stroke-width="1.7" stroke-dasharray="4.5 4.5"/>
<text x="366.6" y="337.9" class="s" font-size="13.3">m = 1.7</text>
<rect x="38.5" y="33.0" width="476.0" height="354.3" fill="none" stroke="#d0d0d0" stroke-width="1.7"/>
</g>
<g>
<text x="901.5" y="26.9" text-anchor="middle" font-size="26.5">fixation_number</text>
<text x="652.1" y="370.1" class="s" text-anchor="end" font-size="13.4">0</text>
<text x="652.1" y="324.7" class="s" text-anchor="end" font-size="13.4">1</text>
<text x="652.1" y="279.2" class="s" text-anchor="end" font-size="13.4">2</text>
<text x="652.1" y="233.8" class="s" text-anchor="end" font-size="13.4">3</text>
<text x="652.1" y="188.3" class="s" text-anchor="end" font-size="13.4">4</text>
<text x="652.1" y="142.9" class="s" text-anchor="end" font-size="13.4">5</text>
<text x="652.1" y="97.4" class="s" text-anchor="end" font-size="13.4">6</text>
<text x="652.1" y="52.0" class="s" text-anchor="end" font-size="13.4">7</text>
<text x="782.5" y="411.3" class="s" text-anchor="middle" font-size="13.4">NR</text>
<text x="1020.5" y="411.3" class="s" text-anchor="middle" font-size="13.4">TSR</text>
<path d="M782.55,48.50 782.55,49.00 782.55,49.50 782.55,50.00 782.55,50.50 782.55,51.00 782.55,51.50 782.55,52.00 782.55,52.50 782.55,53.00 782.55,53.50 782.55,54.00 782.55,54.50 782.55,55.00 782.55,55.50 782.55,56.00 782.55,56.50 782.55,57.00 782.55,57.50 782.55,58.00 782.55,58.50 782.55,59.00 782.55,59.50 782.55,60.00 782.55,60.50 782.55,61.00 782.55,61.50 782.55,62.00 782.55,62.50 782.55,63.00 782.55,63.50 782.55,64.00 782.55,64.50 782.55,65.00 782.55,65.50 782.55,66.00 782.55,66.50 782.55,67.00 782.55,67.50 782.55,68.00 782.55,68.50 782.55,69.00 782.55,69.50 782.55,70.00 782.55,70.50 782.55,71.00 782.55,71.50 782.55,72.00 782.55,72.50 782.55,73.00 782.55,73.50 782.55,74.00 782.55,74.50 782.55,75.00 782.55,75.50 782.55,76.00 782.55,76.50 782.55,77.00 782.55,77.50 782.55,78.00 782.55,78.50 782.55,79.00 782.55,79.50 782.55,80.00 782.55,80.50 782.55,81.00 782.55,81.50 782.55,82.00 782.55,82.50 782.55,83.00 782.55,83.50 782.55,84.00 782.55,84.50 782.55,85.00 782.55,85.50 782.55,86.00 782.55,86.50 782.55,87.00 782.55,87.50 782.55,88.00 782.55,88.50 782.55,89.00 782.55,89.50 782.55,90.00 782.55,90.50 782.55,91.00 782.55,91.50 782.55,92.00 782.55,92.50 782.55,93.00 782.55,93.50 782.55,94.00 782.55,94.50 782.55,95.00 782.55,95.50 782.55,96.00 782.55,96.50 782.55,97.00 782.55,97.50 782.55,98.00 782.55,98.50 782.55,99.00 782.55,99.50 782.55,100.00 782.55,100.50 782.55,101.00 782.55,101.50 782.55,102.00 782.55,102.50 782.55,103.00 782.55,103.50 782.55,104.00 782.55,104.50 782.55,105.00 782.55,105.50 782.55,106.00 782.55,106.50 782.55,107.00 782.55,107.50 782.55,108.00 782.55,108.50 782.55,109.00 782.55,109.50 782.55,110.00 782.55,110.50 782.55,111.00 782.55,111.50 782.55,112.00 782.55,112.50 782.55,113.00 782.55,113.50 782.55,114.00 782.55,114.50 782.55,115.00 782.55,115.50 782.55,116.00 782.55,116.50 782.55,117.00 782.55,117.50 782.55,118.00 782.55,118.50 782.55,119.00 782.55,119.50 782.55,120.00 782.55,120.50 782.55,121.00 782.55,121.50 782.55,122.00 782.55,122.50 782.55,123.00 782.55,123.50 782.55,124.00 782.55,124.50 782.55,125.00 782.55,125.50 782.55,126.00 782.55,126.50 782.55,127.00 782.55,127.50 782.55,128.00 782.55,128.50 782.55,129.00 782.55,129.50 782.55,130.00 782.55,130.50 782.55,131.00 782.55,131.50 782.55,132.00 782.55,132.50 782.55,133.00 782.55,133.50 782.55,134.00 782.55,134.50 782.55,135.00 782.55,135.50 782.55,136.00 782.55,136.50 782.55,137.00 782.55,137.50 782.55,138.00 782.55,138.50 782.55,139.00 782.55,139.50 782.55,140.00 782.55,140.50 782.55,141.00 782.55,141.50 782.55,142.00 782.55,142.50 782.55,143.00 782.55,143.50 782.55,144.00 782.55,144.50 782.55,145.00 782.55,145.50 782.55,146.00 782.55,146.50 782.55,147.00 782.55,147.50 782.55,148.00 782.55,148.50 782.55,149.00 782.55,149.50 782.55,150.00 782.55,150.50 782.55,151.00 782.55,151.50 782.55,152.00 782.55,152.50 782.55,153.00 782.55,153.50 782.55,154.00 782.55,154.50 782.55,155.00 782.55,155.50 782.55,156.00 782.55,156.50 782.55,157.00 782.55,157.50 782.55,158.00 782.55,158.50 782.55,159.00 782.55,159.50 782.55,160.00 782.55,160.50 782.55,161.00 782.55,161.50 782.55,162.00 782.55,162.50 782.55,163.00 782.55,163.50 782.55,164.00 782.55,164.50 782.55,165.00 782.55,165.50 782.55,166.00 782.55,166.50 782.55,167.00 782.55,167.50 782.55,168.00 782.55,168.50 782.55,169.00 782.55,169.50 782.55,170.00 782.55,170.50 782.55,171.00 782.55,171.50 782.55,172.00 782.55,172.50 782.55,173.00 782.55,173.50 782.55,174.00 782.55,174.50 782.55,175.00 782.55,175.50 782.55,176.00 782.55,176.50 782.55,177.00 782.55,177.50 782.55,178.00 782.55,178.50 782.55,179.00 782.55,179.50 782.55,180.00 782.55,180.50 782.55,181.00 782.55,181.50 782.55,182.00 782.55,182.50 782.55,183.00 782.55,183.50 782.55,184.00 782.55,184.50 782.55,185.00 782.55,185.50 782.55,186.00 782.55,186.50 782.55,187.00 782.55,187.50 782.55,188.00 782.55,188.50 782.55,189.00 782.55,189.50 782.55,190.00 782.55,190.50 782.55,191.00 782.55,191.50 782.55,192.00 782.55,192.50 782.55,193.00 782.55,193.50 782.55,194.00 782.55,194.50 782.55,195.00 782.55,195.50 782.55,196.00 782.55,196.50 782.55,197.00 782.55,197.50 782.55,198.00 782.55,198.50 782.55,199.00 782.55,199.50 782.55,200.00 782.55,200.50 782.55,201.00 782.55,201.50 782.55,202.00 782.55,202.50 782.55,203.00 782.55,203.50 782.55,204.00 782.55,204.50 782.58,205.00 782.62,205.50 782.65,206.00 782.68,206.50 782.71,207.00 782.73,207.50 782.75,208.00 782.77,208.50 782.78,209.00 782.80,209.50 782.82,210.00 782.84,210.50 782.85,211.00 782.87,211.50 782.88,212.00 782.90,212.50 782.91,213.00 782.92,213.50 782.93,214.00 782.94,214.50 782.95,215.00 782.95,215.50 782.95,216.00 782.95,216.50 782.95,217.00 782.94,217.50 782.93,218.00 782.92,218.50 782.91,219.00 782.90,219.50 782.88,220.00 782.87,220.50 782.85,221.00 782.84,221.50 782.82,222.00 782.80,222.50 782.78,223.00 782.77,223.50 782.75,224.00 782.73,224.50 782.70,225.00 782.67,225.50 782.64,226.00 782.61,226.50 782.57,227.00 782.55,227.50 782.55,228.00 782.55,228.50 782.55,229.00 782.55,229.50 782.55,230.00 782.55,230.50 782.55,231.00 782.62,231.50 782.74,232.00 782.88,232.50 783.03,233.00 783.26,233.50 783.49,234.00 783.72,234.50 783.93,235.00 784.12,235.50 784.28,236.00 784.40,236.50 784.50,237.00 784.58,237.50 784.65,238.00 784.71,238.50 784.78,239.00 784.84,239.50 784.90,240.00 784.95,240.50 785.01,241.00 785.06,241.50 785.11,242.00 785.16,242.50 785.20,243.00 785.25,243.50 785.29,244.00 785.33,244.50 785.37,245.00 785.41,245.50 785.44,246.00 785.47,246.50 785.50,247.00 785.52,247.50 785.55,248.00 785.57,248.50 785.59,249.00 785.61,249.50 785.63,250.00 785.65,250.50 785.67,251.00 785.70,251.50 785.72,252.00 785.75,252.50 785.79,253.00 785.82,253.50 785.86,254.00 785.91,254.50 785.97,255.00 786.05,255.50 786.14,256.00 786.24,256.50 786.36,257.00 786.49,257.50 786.62,258.00 786.76,258.50 786.90,259.00 787.06,259.50 787.24,260.00 787.43,260.50 787.65,261.00 787.87,261.50 788.10,262.00 788.34,262.50 788.57,263.00 788.80,263.50 789.03,264.00 789.27,264.50 789.51,265.00 789.75,265.50 790.00,266.00 790.25,266.50 790.50,267.00 790.75,267.50 791.00,268.00 791.25,268.50 791.49,269.00 791.73,269.50 791.98,270.00 792.23,270.50 792.47,271.00 792.73,271.50 792.98,272.00 793.25,272.50 793.51,273.00 793.76,273.50 794.01,274.00 794.25,274.50 794.50,275.00 794.75,275.50 795.01,276.00 795.29,276.50 795.58,277.00 795.89,277.50 796.23,278.00 796.60,278.50 797.00,279.00 797.48,279.50 798.07,280.00 798.73,280.50 799.43,281.00 800.14,281.50 800.91,282.00 801.73,282.50 802.59,283.00 803.48,283.50 804.39,284.00 805.30,284.50 806.19,285.00 807.06,285.50 807.89,286.00 808.70,286.50 809.49,287.00 810.26,287.50 811.04,288.00 811.82,288.50 812.61,289.00 813.42,289.50 814.25,290.00 815.12,290.50 816.02,291.00 816.95,291.50 817.90,292.00 818.88,292.50 819.89,293.00 820.93,293.50 822.02,294.00 823.16,294.50 824.35,295.00 825.59,295.50 826.88,296.00 828.22,296.50 829.60,297.00 831.03,297.50 832.50,298.00 834.03,298.50 835.63,299.00 837.30,299.50 839.02,300.00 840.77,300.50 842.55,301.00 844.34,301.50 846.18,302.00 848.11,302.50 850.10,303.00 852.11,303.50 854.09,304.00 856.00,304.50 857.80,305.00 859.45,305.50 861.04,306.00 862.60,306.50 864.10,307.00 865.53,307.50 866.87,308.00 868.10,308.50 869.20,309.00 870.22,309.50 871.19,310.00 872.10,310.50 872.93,311.00 873.66,311.50 874.29,312.00 874.81,312.50 875.32,313.00 875.81,313.50 876.27,314.00 876.67,314.50 876.98,315.00 877.20,315.50 877.30,316.00 877.26,316.50 877.09,317.00 876.83,317.50 876.50,318.00 876.13,318.50 875.72,319.00 875.13,319.50 874.36,320.00 873.46,320.50 872.49,321.00 871.51,321.50 870.56,322.00 869.68,322.50 868.80,323.00 867.92,323.50 867.02,324.00 866.11,324.50 865.17,325.00 864.20,325.50 863.20,326.00 862.17,326.50 861.11,327.00 860.03,327.50 858.92,328.00 857.77,328.50 856.60,329.00 855.40,329.50 854.16,330.00 852.88,330.50 851.57,331.00 850.23,331.50 848.84,332.00 847.41,332.50 845.92,333.00 844.36,333.50 842.75,334.00 841.11,334.50 839.45,335.00 837.79,335.50 836.14,336.00 834.47,336.50 832.79,337.00 831.09,337.50 829.39,338.00 827.68,338.50 825.98,339.00 824.28,339.50 822.58,340.00 820.87,340.50 819.16,341.00 817.46,341.50 815.75,342.00 814.04,342.50 812.32,343.00 810.55,343.50 808.76,344.00 807.00,344.50 805.28,345.00 803.64,345.50 802.10,346.00 800.62,346.50 799.15,347.00 797.72,347.50 796.37,348.00 795.13,348.50 794.04,349.00 793.13,349.50 792.31,350.00 791.54,350.50 790.84,351.00 790.21,351.50 789.66,352.00 789.22,352.50 788.87,353.00 788.58,353.50 788.31,354.00 788.08,354.50 787.88,355.00 787.70,355.50 787.55,356.00 787.43,356.50 787.33,357.00 787.26,357.50 787.19,358.00 787.12,358.50 787.03,359.00 786.92,359.50 786.78,360.00 786.59,360.50 786.36,361.00 786.10,361.50 785.84,362.00 785.56,362.50 785.30,363.00 785.02,363.50 784.72,364.00 784.35,364.50 783.89,365.00 783.48,365.50 783.12,366.00 782.92,366.50 782.76,367.00 782.61,367.50 782.55,368.00 782.55,368.50 782.55,369.00 782.55,369.50 782.55,370.00 782.55,370.50 L782.45,370.50 782.45,370.00 782.45,369.50 782.45,369.00 782.45,368.50 782.45,368.00 782.39,367.50 782.24,367.00 782.08,366.50 781.88,366.00 781.52,365.50 781.11,365.00 780.65,364.50 780.28,364.00 779.98,363.50 779.70,363.00 779.44,362.50 779.16,362.00 778.90,361.50 778.64,361.00 778.41,360.50 778.22,360.00 778.08,359.50 777.97,359.00 777.88,358.50 777.81,358.00 777.74,357.50 777.67,357.00 777.57,356.50 777.45,356.00 777.30,355.50 777.12,355.00 776.92,354.50 776.69,354.00 776.42,353.50 776.13,353.00 775.78,352.50 775.34,352.00 774.79,351.50 774.16,351.00 773.46,350.50 772.69,350.00 771.87,349.50 770.96,349.00 769.87,348.50 768.63,348.00 767.28,347.50 765.85,347.00 764.38,346.50 762.90,346.00 761.36,345.50 759.72,345.00 758.00,344.50 756.24,344.00 754.45,343.50 752.68,343.00 750.96,342.50 749.25,342.00 747.54,341.50 745.84,341.00 744.13,340.50 742.42,340.00 740.72,339.50 739.02,339.00 737.32,338.50 735.61,338.00 733.91,337.50 732.21,337.00 730.53,336.50 728.86,336.00 727.21,335.50 725.55,335.00 723.89,334.50 722.25,334.00 720.64,333.50 719.08,333.00 717.59,332.50 716.16,332.00 714.77,331.50 713.43,331.00 712.12,330.50 710.84,330.00 709.60,329.50 708.40,329.00 707.23,328.50 706.08,328.00 704.97,327.50 703.89,327.00 702.83,326.50 701.80,326.00 700.80,325.50 699.83,325.00 698.89,324.50 697.98,324.00 697.08,323.50 696.20,323.00 695.32,322.50 694.44,322.00 693.49,321.50 692.51,321.00 691.54,320.50 690.64,320.00 689.87,319.50 689.28,319.00 688.87,318.50 688.50,318.00 688.17,317.50 687.91,317.00 687.74,316.50 687.70,316.00 687.80,315.50 688.02,315.00 688.33,314.50 688.73,314.00 689.19,313.50 689.68,313.00 690.19,312.50 690.71,312.00 691.34,311.50 692.07,311.00 692.90,310.50 693.81,310.00 694.78,309.50 695.80,309.00 696.90,308.50 698.13,308.00 699.47,307.50 700.90,307.00 702.40,306.50 703.96,306.00 705.55,305.50 707.20,305.00 709.00,304.50 710.91,304.00 712.89,303.50 714.90,303.00 716.89,302.50 718.82,302.00 720.66,301.50 722.45,301.00 724.23,300.50 725.98,300.00 727.70,299.50 729.37,299.00 730.97,298.50 732.50,298.00 733.97,297.50 735.40,297.00 736.78,296.50 738.12,296.00 739.41,295.50 740.65,295.00 741.84,294.50 742.98,294.00 744.07,293.50 745.11,293.00 746.12,292.50 747.10,292.00 748.05,291.50 748.98,291.00 749.88,290.50 750.75,290.00 751.58,289.50 752.39,289.00 753.18,288.50 753.96,288.00 754.74,287.50 755.51,287.00 756.30,286.50 757.11,286.00 757.94,285.50 758.81,285.00 759.70,284.50 760.61,284.00 761.52,283.50 762.41,283.00 763.27,282.50 764.09,282.00 764.86,281.50 765.57,281.00 766.27,280.50 766.93,280.00 767.52,279.50 768.00,279.00 768.40,278.50 768.77,278.00 769.11,277.50 769.42,277.00 769.71,276.50 769.99,276.00 770.25,275.50 770.50,275.00 770.75,274.50 770.99,274.00 771.24,273.50 771.49,273.00 771.75,272.50 772.02,272.00 772.27,271.50 772.53,271.00 772.77,270.50 773.02,270.00 773.27,269.50 773.51,269.00 773.75,268.50 774.00,268.00 774.25,267.50 774.50,267.00 774.75,266.50 775.00,266.00 775.25,265.50 775.49,265.00 775.73,264.50 775.97,264.00 776.20,263.50 776.43,263.00 776.66,262.50 776.90,262.00 777.13,261.50 777.35,261.00 777.57,260.50 777.76,260.00 777.94,259.50 778.10,259.00 778.24,258.50 778.38,258.00 778.51,257.50 778.64,257.00 778.76,256.50 778.86,256.00 778.95,255.50 779.03,255.00 779.09,254.50 779.14,254.00 779.18,253.50 779.21,253.00 779.25,252.50 779.28,252.00 779.30,251.50 779.33,251.00 779.35,250.50 779.37,250.00 779.39,249.50 779.41,249.00 779.43,248.50 779.45,248.00 779.48,247.50 779.50,247.00 779.53,246.50 779.56,246.00 779.59,245.50 779.63,245.00 779.67,244.50 779.71,244.00 779.75,243.50 779.80,243.00 779.84,242.50 779.89,242.00 779.94,241.50 779.99,241.00 780.05,240.50 780.10,240.00 780.16,239.50 780.22,239.00 780.29,238.50 780.35,238.00 780.42,237.50 780.50,237.00 780.60,236.50 780.72,236.00 780.88,235.50 781.07,235.00 781.28,234.50 781.51,234.00 781.74,233.50 781.97,233.00 782.12,232.50 782.26,232.00 782.38,231.50 782.45,231.00 782.45,230.50 782.45,230.00 782.45,229.50 782.45,229.00 782.45,228.50 782.45,228.00 782.45,227.50 782.43,227.00 782.39,226.50 782.36,226.00 782.33,225.50 782.30,225.00 782.27,224.50 782.25,224.00 782.23,223.50 782.22,223.00 782.20,222.50 782.18,222.00 782.16,221.50 782.15,221.00 782.13,220.50 782.12,220.00 782.10,219.50 782.09,219.00 782.08,218.50 782.07,218.00 782.06,217.50 782.05,217.00 782.05,216.50 782.05,216.00 782.05,215.50 782.05,215.00 782.06,214.50 782.07,214.00 782.08,213.50 782.09,213.00 782.10,212.50 782.12,212.00 782.13,211.50 782.15,211.00 782.16,210.50 782.18,210.00 782.20,209.50 782.22,209.00 782.23,208.50 782.25,208.00 782.27,207.50 782.29,207.00 782.32,206.50 782.35,206.00 782.38,205.50 782.42,205.00 782.45,204.50 782.45,204.00 782.45,203.50 782.45,203.00 782.45,202.50 782.45,202.00 782.45,201.50 782.45,201.00 782.45,200.50 782.45,200.00 782.45,199.50 782.45,199.00 782.45,198.50 782.45,198.00 782.45,197.50 782.45,197.00 782.45,196.50 782.45,196.00 782.45,195.50 782.45,195.00 782.45,194.50 782.45,194.00 782.45,193.50 782.45,193.00 782.45,192.50 782.45,192.00 782.45,191.50 782.45,191.00 782.45,190.50 782.45,190.00 782.45,189.50 782.45,189.00 782.45,188.50 782.45,188.00 782.45,187.50 782.45,187.00 782.45,186.50 782.45,186.00 782.45,185.50 782.45,185.00 782.45,184.50 782.45,184.00 782.45,183.50 782.45,183.00 782.45,182.50 782.45,182.00 782.45,181.50 782.45,181.00 782.45,180.50 782.45,180.00 782.45,179.50 782.45,179.00 782.45,178.50 782.45,178.00 782.45,177.50 782.45,177.00 782.45,176.50 782.45,176.00 782.45,175.50 782.45,175.00 782.45,174.50 782.45,174.00 782.45,173.50 782.45,173.00 782.45,172.50 782.45,172.00 782.45,171.50 782.45,171.00 782.45,170.50 782.45,170.00 782.45,169.50 782.45,169.00 782.45,168.50 782.45,168.00 782.45,167.50 782.45,167.00 782.45,166.50 782.45,166.00 782.45,165.50 782.45,165.00 782.45,164.50 782.45,164.00 782.45,163.50 782.45,163.00 782.45,162.50 782.45,162.00 782.45,161.50 782.45,161.00 782.45,160.50 782.45,160.00 782.45,159.50 782.45,159.00 782.45,158.50 782.45,158.00 782.45,157.50 782.45,157.00 782.45,156.50 782.45,156.00 782.45,155.50 782.45,155.00 782.45,154.50 782.45,154.00 782.45,153.50 782.45,153.00 782.45,152.50 782.45,152.00 782.45,151.50 782.45,151.00 782.45,150.50 782.45,150.00 782.45,149.50 782.45,149.00 782.45,148.50 782.45,148.00 782.45,147.50 782.45,147.00 782.45,146.50 782.45,146.00 782.45,145.50 782.45,145.00 782.45,144.50 782.45,144.00 782.45,143.50 782.45,143.00 782.45,142.50 782.45,142.00 782.45,141.50 782.45,141.00 782.45,140.50 782.45,140.00 782.45,139.50 782.45,139.00 782.45,138.50 782.45,138.00 782.45,137.50 782.45,137.00 782.45,136.50 782.45,136.00 782.45,135.50 782.45,135.00 782.45,134.50 782.45,134.00 782.45,133.50 782.45,133.00 782.45,132.50 782.45,132.00 782.45,131.50 782.45,131.00 782.45,130.50 782.45,130.00 782.45,129.50 782.45,129.00 782.45,128.50 782.45,128.00 782.45,127.50 782.45,127.00 782.45,126.50 782.45,126.00 782.45,125.50 782.45,125.00 782.45,124.50 782.45,124.00 782.45,123.50 782.45,123.00 782.45,122.50 782.45,122.00 782.45,121.50 782.45,121.00 782.45,120.50 782.45,120.00 782.45,119.50 782.45,119.00 782.45,118.50 782.45,118.00 782.45,117.50 782.45,117.00 782.45,116.50 782.45,116.00 782.45,115.50 782.45,115.00 782.45,114.50 782.45,114.00 782.45,113.50 782.45,113.00 782.45,112.50 782.45,112.00 782.45,111.50 782.45,111.00 782.45,110.50 782.45,110.00 782.45,109.50 782.45,109.00 782.45,108.50 782.45,108.00 782.45,107.50 782.45,107.00 782.45,106.50 782.45,106.00 782.45,105.50 782.45,105.00 782.45,104.50 782.45,104.00 782.45,103.50 782.45,103.00 782.45,102.50 782.45,102.00 782.45,101.50 782.45,101.00 782.45,100.50 782.45,100.00 782.45,99.50 782.45,99.00 782.45,98.50 782.45,98.00 782.45,97.50 782.45,97.00 782.45,96.50 782.45,96.00 782.45,95.50 782.45,95.00 782.45,94.50 782.45,94.00 782.45,93.50 782.45,93.00 782.45,92.50 782.45,92.00 782.45,91.50 782.45,91.00 782.45,90.50 782.45,90.00 782.45,89.50 782.45,89.00 782.45,88.50 782.45,88.00 782.45,87.50 782.45,87.00 782.45,86.50 782.45,86.00 782.45,85.50 782.45,85.00 782.45,84.50 782.45,84.00 782.45,83.50 782.45,83.00 782.45,82.50 782.45,82.00 782.45,81.50 782.45,81.00 782.45,80.50 782.45,80.00 782.45,79.50 782.45,79.00 782.45,78.50 782.45,78.00 782.45,77.50 782.45,77.00 782.45,76.50 782.45,76.00 782.45,75.50 782.45,75.00 782.45,74.50 782.45,74.00 782.45,73.50 782.45,73.00 782.45,72.50 782.45,72.00 782.45,71.50 782.45,71.00 782.45,70.50 782.45,70.00 782.45,69.50 782.45,69.00 782.45,68.50 782.45,68.00 782.45,67.50 782.45,67.00 782.45,66.50 782.45,66.00 782.45,65.50 782.45,65.00 782.45,64.50 782.45,64.00 782.45,63.50 782.45,63.00 782.45,62.50 782.45,62.00 782.45,61.50 782.45,61.00 782.45,60.50 782.45,60.00 782.45,59.50 782.45,59.00 782.45,58.50 782.45,58.00 782.45,57.50 782.45,57.00 782.45,56.50 782.45,56.00 782.45,55.50 782.45,55.00 782.45,54.50 782.45,54.00 782.45,53.50 782.45,53.00 782.45,52.50 782.45,52.00 782.45,51.50 782.45,51.00 782.45,50.50 782.45,50.00 782.45,49.50 782.45,49.00 782.45,48.50 Z" fill="#5199b5" stroke="#505050" stroke-width="1.8" stroke-linejoin="round"/>
<line x1="713.69" y1="303.30" x2="851.31" y2="303.30" stroke="#505050" stroke-width="1.7" stroke-dasharray="4.5 4.5"/>
<line x1="687.80" y1="315.50" x2="877.20" y2="315.50" stroke="#505050" stroke-width="1.7" stroke-dasharray="9 9"/>
<line x1="705.41" y1="327.70" x2="859.59" y2="327.70" stroke="#505050" stroke-width="1.7" stroke-dasharray="4.5 4.5"/>
<text x="753.3" y="314.6" class="s" font-size="13.3">m = 1.1</text>
<path d="M1020.55,103.60 1020.55,104.10 1020.55,104.60 1020.55,105.10 1020.55,105.60 1020.55,106.10 1020.55,106.60 1020.55,107.10 1020.55,107.60 1020.55,108.10 1020.55,108.60 1020.55,109.10 1020.55,109.60 1020.55,110.10 1020.55,110.60 1020.55,111.10 1020.55,111.60 1020.55,112.10 1020.55,112.60 1020.55,113.10 1020.55,113.60 1020.55,114.10 1020.55,114.60 1020.55,115.10 1020.55,115.60 1020.55,116.10 1020.55,116.60 1020.55,117.10 1020.55,117.60 1020.55,118.10 1020.55,118.60 1020.55,119.10 1020.55,119.60 1020.55,120.10 1020.55,120.60 1020.55,121.10 1020.55,121.60 1020.55,122.10 1020.55,122.60 1020.55,123.10 1020.55,123.60 1020.55,124.10 1020.55,124.60 1020.55,125.10 1020.55,125.60 1020.55,126.10 1020.55,126.60 1020.55,127.10 1020.55,127.60 1020.55,128.10 1020.55,128.60 1020.55,129.10 1020.55,129.60 1020.55,130.10 1020.55,130.60 1020.55,131.10 1020.55,131.60 1020.55,132.10 1020.55,132.60 1020.55,133.10 1020.55,133.60 1020.55,134.10 1020.55,134.60 1020.55,135.10 1020.55,135.60 1020.55,136.10 1020.55,136.60 1020.55,137.10 1020.55,137.60 1020.55,138.10 1020.55,138.60 1020.55,139.10 1020.55,139.60 1020.55,140.10 1020.55,140.60 1020.55,141.10 1020.55,141.60 1020.55,142.10 1020.55,142.60 1020.55,143.10 1020.55,143.60 1020.55,144.10 1020.55,144.60 1020.55,145.10 1020.55,145.60 1020.55,146.10 1020.55,146.60 1020.55,147.10 1020.55,147.60 1020.55,148.10 1020.55,148.60 1020.55,149.10 1020.55,149.60 1020.55,150.10 1020.55,150.60 1020.55,151.10 1020.55,151.60 1020.55,152.10 1020.55,152.60 1020.55,153.10 1020.55,153.60 1020.55,154.10 1020.55,154.60 1020.55,155.10 1020.55,155.60 1020.55,156.10 1020.55,156.60 1020.55,157.10 1020.55,157.60 1020.55,158.10 1020.55,158.60 1020.55,159.10 1020.55,159.60 1020.55,160.10 1020.55,160.60 1020.55,161.10 1020.55,161.60 1020.55,162.10 1020.55,162.60 1020.55,163.10 1020.55,163.60 1020.55,164.10 1020.55,164.60 1020.55,165.10 1020.55,165.60 1020.55,166.10 1020.55,166.60 1020.55,167.10 1020.55,167.60 1020.55,168.10 1020.55,168.60 1020.55,169.10 1020.55,169.60 1020.55,170.10 1020.55,170.60 1020.55,171.10 1020.55,171.60 1020.55,172.10 1020.55,172.60 1020.55,173.10 1020.55,173.60 1020.55,174.10 1020.55,174.60 1020.55,175.10 1020.55,175.60 1020.55,176.10 1020.55,176.60 1020.55,177.10 1020.55,177.60 1020.55,178.10 1020.55,178.60 1020.55,179.10 1020.55,179.60 1020.55,180.10 1020.55,180.60 1020.55,181.10 1020.55,181.60 1020.55,182.10 1020.55,182.60 1020.55,183.10 1020.55,183.60 1020.55,184.10 1020.55,184.60 1020.55,185.10 1020.55,185.60 1020.55,186.10 1020.55,186.60 1020.55,187.10 1020.55,187.60 1020.55,188.10 1020.55,188.60 1020.55,189.10 1020.55,189.60 1020.55,190.10 1020.55,190.60 1020.55,191.10 1020.55,191.60 1020.55,192.10 1020.55,192.60 1020.55,193.10 1020.55,193.60 1020.55,194.10 1020.55,194.60 1020.55,195.10 1020.55,195.60 1020.55,196.10 1020.55,196.60 1020.55,197.10 1020.55,197.60 1020.55,198.10 1020.55,198.60 1020.55,199.10 1020.55,199.60 1020.55,200.10 1020.55,200.60 1020.55,201.10 1020.55,201.60 1020.55,202.10 1020.55,202.60 1020.55,203.10 1020.55,203.60 1020.55,204.10 1020.55,204.60 1020.55,205.10 1020.55,205.60 1020.55,206.10 1020.55,206.60 1020.55,207.10 1020.55,207.60 1020.55,208.10 1020.55,208.60 1020.55,209.10 1020.55,209.60 1020.55,210.10 1020.55,210.60 1020.55,211.10 1020.57,211.60 1020.59,212.10 1020.60,212.60 1020.62,213.10 1020.64,213.60 1020.65,214.10 1020.67,214.60 1020.70,215.10 1020.73,215.60 1020.76,216.10 1020.80,216.60 1020.84,217.10 1020.88,217.60 1020.92,218.10 1020.95,218.60 1020.99,219.10 1021.02,219.60 1021.06,220.10 1021.10,220.60 1021.14,221.10 1021.18,221.60 1021.22,222.10 1021.26,222.60 1021.29,223.10 1021.33,223.60 1021.37,224.10 1021.41,224.60 1021.46,225.10 1021.50,225.60 1021.55,226.10 1021.61,226.60 1021.66,227.10 1021.72,227.60 1021.78,228.10 1021.84,228.60 1021.90,229.10 1021.97,229.60 1022.03,230.10 1022.09,230.60 1022.16,231.10 1022.22,231.60 1022.29,232.10 1022.35,232.60 1022.41,233.10 1022.47,233.60 1022.52,234.10 1022.56,234.60 1022.60,235.10 1022.63,235.60 1022.66,236.10 1022.69,236.60 1022.72,237.10 1022.75,237.60 1022.77,238.10 1022.80,238.60 1022.82,239.10 1022.84,239.60 1022.86,240.10 1022.88,240.60 1022.90,241.10 1022.92,241.60 1022.93,242.10 1022.95,242.60 1022.97,243.10 1022.99,243.60 1023.01,244.10 1023.03,244.60 1023.05,245.10 1023.07,245.60 1023.10,246.10 1023.12,246.60 1023.15,247.10 1023.18,247.60 1023.21,248.10 1023.24,248.60 1023.27,249.10 1023.31,249.60 1023.35,250.10 1023.39,250.60 1023.43,251.10 1023.48,251.60 1023.52,252.10 1023.58,252.60 1023.63,253.10 1023.69,253.60 1023.75,254.10 1023.83,254.60 1023.92,255.10 1024.01,255.60 1024.12,256.10 1024.22,256.60 1024.33,257.10 1024.44,257.60 1024.55,258.10 1024.65,258.60 1024.75,259.10 1024.83,259.60 1024.92,260.10 1025.01,260.60 1025.09,261.10 1025.17,261.60 1025.25,262.10 1025.33,262.60 1025.41,263.10 1025.49,263.60 1025.56,264.10 1025.64,264.60 1025.71,265.10 1025.79,265.60 1025.85,266.10 1025.92,266.60 1025.98,267.10 1026.05,267.60 1026.11,268.10 1026.18,268.60 1026.25,269.10 1026.32,269.60 1026.40,270.10 1026.48,270.60 1026.57,271.10 1026.66,271.60 1026.76,272.10 1026.86,272.60 1026.97,273.10 1027.09,273.60 1027.22,274.10 1027.35,274.60 1027.50,275.10 1027.67,275.60 1027.85,276.10 1028.08,276.60 1028.34,277.10 1028.63,277.60 1028.95,278.10 1029.29,278.60 1029.65,279.10 1030.02,279.60 1030.40,280.10 1030.77,280.60 1031.15,281.10 1031.53,281.60 1031.92,282.10 1032.33,282.60 1032.76,283.10 1033.20,283.60 1033.65,284.10 1034.11,284.60 1034.57,285.10 1035.03,285.60 1035.49,286.10 1035.94,286.60 1036.39,287.10 1036.82,287.60 1037.25,288.10 1037.66,288.60 1038.08,289.10 1038.50,289.60 1038.93,290.10 1039.36,290.60 1039.81,291.10 1040.28,291.60 1040.77,292.10 1041.29,292.60 1041.84,293.10 1042.42,293.60 1043.02,294.10 1043.65,294.60 1044.30,295.10 1044.98,295.60 1045.68,296.10 1046.40,296.60 1047.14,297.10 1047.90,297.60 1048.68,298.10 1049.49,298.60 1050.34,299.10 1051.24,299.60 1052.17,300.10 1053.14,300.60 1054.13,301.10 1055.14,301.60 1056.15,302.10 1057.18,302.60 1058.20,303.10 1059.20,303.60 1060.20,304.10 1061.19,304.60 1062.20,305.10 1063.21,305.60 1064.23,306.10 1065.25,306.60 1066.27,307.10 1067.29,307.60 1068.31,308.10 1069.32,308.60 1070.32,309.10 1071.30,309.60 1072.28,310.10 1073.26,310.60 1074.24,311.10 1075.21,311.60 1076.16,312.10 1077.09,312.60 1078.00,313.10 1078.86,313.60 1079.67,314.10 1080.45,314.60 1081.21,315.10 1081.97,315.60 1082.75,316.10 1083.57,316.60 1084.44,317.10 1085.38,317.60 1086.42,318.10 1087.67,318.60 1089.10,319.10 1090.62,319.60 1092.15,320.10 1093.57,320.60 1094.80,321.10 1095.88,321.60 1096.90,322.10 1097.86,322.60 1098.75,323.10 1099.57,323.60 1100.30,324.10 1100.97,324.60 1101.59,325.10 1102.18,325.60 1102.71,326.10 1103.19,326.60 1103.62,327.10 1104.00,327.60 1104.36,328.10 1104.70,328.60 1104.99,329.10 1105.25,329.60 1105.46,330.10 1105.64,330.60 1105.81,331.10 1105.98,331.60 1106.13,332.10 1106.25,332.60 1106.34,333.10 1106.39,333.60 1106.40,334.10 1106.37,334.60 1106.32,335.10 1106.25,335.60 1106.16,336.10 1106.05,336.60 1105.93,337.10 1105.80,337.60 1105.61,338.10 1105.32,338.60 1104.94,339.10 1104.51,339.60 1104.02,340.10 1103.51,340.60 1102.95,341.10 1102.28,341.60 1101.52,342.10 1100.67,342.60 1099.73,343.10 1098.71,343.60 1097.56,344.10 1096.17,344.60 1094.62,345.10 1092.93,345.60 1091.18,346.10 1089.40,346.60 1087.63,347.10 1085.76,347.60 1083.81,348.10 1081.80,348.60 1079.79,349.10 1077.79,349.60 1075.83,350.10 1073.88,350.60 1071.93,351.10 1069.97,351.60 1068.00,352.10 1066.01,352.60 1063.99,353.10 1061.93,353.60 1059.85,354.10 1057.75,354.60 1055.64,355.10 1053.56,355.60 1051.49,356.10 1049.40,356.60 1047.30,357.10 1045.21,357.60 1043.16,358.10 1041.20,358.60 1039.34,359.10 1037.50,359.60 1035.69,360.10 1033.93,360.60 1032.29,361.10 1030.79,361.60 1029.50,362.10 1028.35,362.60 1027.26,363.10 1026.26,363.60 1025.36,364.10 1024.57,364.60 1023.91,365.10 1023.37,365.60 1022.87,366.10 1022.39,366.60 1021.83,367.10 1021.35,367.60 1020.99,368.10 1020.78,368.60 1020.58,369.10 1020.55,369.60 1020.55,370.10 1020.55,370.60 1020.55,371.10 1020.55,371.30 L1020.45,371.30 1020.45,371.10 1020.45,370.60 1020.45,370.10 1020.45,369.60 1020.42,369.10 1020.22,368.60 1020.01,368.10 1019.65,367.60 1019.17,367.10 1018.61,366.60 1018.13,366.10 1017.63,365.60 1017.09,365.10 1016.43,364.60 1015.64,364.10 1014.74,363.60 1013.74,363.10 1012.65,362.60 1011.50,362.10 1010.21,361.60 1008.71,361.10 1007.07,360.60 1005.31,360.10 1003.50,359.60 1001.66,359.10 999.80,358.60 997.84,358.10 995.79,357.60 993.70,357.10 991.60,356.60 989.51,356.10 987.44,355.60 985.36,355.10 983.25,354.60 981.15,354.10 979.07,353.60 977.01,353.10 974.99,352.60 973.00,352.10 971.03,351.60 969.07,351.10 967.12,350.60 965.17,350.10 963.21,349.60 961.21,349.10 959.20,348.60 957.19,348.10 955.24,347.60 953.37,347.10 951.60,346.60 949.82,346.10 948.07,345.60 946.38,345.10 944.83,344.60 943.44,344.10 942.29,343.60 941.27,343.10 940.33,342.60 939.48,342.10 938.72,341.60 938.05,341.10 937.49,340.60 936.98,340.10 936.49,339.60 936.06,339.10 935.68,338.60 935.39,338.10 935.20,337.60 935.07,337.10 934.95,336.60 934.84,336.10 934.75,335.60 934.68,335.10 934.63,334.60 934.60,334.10 934.61,333.60 934.66,333.10 934.75,332.60 934.87,332.10 935.02,331.60 935.19,331.10 935.36,330.60 935.54,330.10 935.75,329.60 936.01,329.10 936.30,328.60 936.64,328.10 937.00,327.60 937.38,327.10 937.81,326.60 938.29,326.10 938.82,325.60 939.41,325.10 940.03,324.60 940.70,324.10 941.43,323.60 942.25,323.10 943.14,322.60 944.10,322.10 945.12,321.60 946.20,321.10 947.43,320.60 948.85,320.10 950.38,319.60 951.90,319.10 953.33,318.60 954.58,318.10 955.62,317.60 956.56,317.10 957.43,316.60 958.25,316.10 959.03,315.60 959.79,315.10 960.55,314.60 961.33,314.10 962.14,313.60 963.00,313.10 963.91,312.60 964.84,312.10 965.79,311.60 966.76,311.10 967.74,310.60 968.72,310.10 969.70,309.60 970.68,309.10 971.68,308.60 972.69,308.10 973.71,307.60 974.73,307.10 975.75,306.60 976.77,306.10 977.79,305.60 978.80,305.10 979.81,304.60 980.80,304.10 981.80,303.60 982.80,303.10 983.82,302.60 984.85,302.10 985.86,301.60 986.87,301.10 987.86,300.60 988.83,300.10 989.76,299.60 990.66,299.10 991.51,298.60 992.32,298.10 993.10,297.60 993.86,297.10 994.60,296.60 995.32,296.10 996.02,295.60 996.70,295.10 997.35,294.60 997.98,294.10 998.58,293.60 999.16,293.10 999.71,292.60 1000.23,292.10 1000.72,291.60 1001.19,291.10 1001.64,290.60 1002.07,290.10 1002.50,289.60 1002.92,289.10 1003.34,288.60 1003.75,288.10 1004.18,287.60 1004.61,287.10 1005.06,286.60 1005.51,286.10 1005.97,285.60 1006.43,285.10 1006.89,284.60 1007.35,284.10 1007.80,283.60 1008.24,283.10 1008.67,282.60 1009.08,282.10 1009.47,281.60 1009.85,281.10 1010.23,280.60 1010.60,280.10 1010.98,279.60 1011.35,279.10 1011.71,278.60 1012.05,278.10 1012.37,277.60 1012.66,277.10 1012.92,276.60 1013.15,276.10 1013.33,275.60 1013.50,275.10 1013.65,274.60 1013.78,274.10 1013.91,273.60 1014.03,273.10 1014.14,272.60 1014.24,272.10 1014.34,271.60 1014.43,271.10 1014.52,270.60 1014.60,270.10 1014.68,269.60 1014.75,269.10 1014.82,268.60 1014.89,268.10 1014.95,267.60 1015.02,267.10 1015.08,266.60 1015.15,266.10 1015.21,265.60 1015.29,265.10 1015.36,264.60 1015.44,264.10 1015.51,263.60 1015.59,263.10 1015.67,262.60 1015.75,262.10 1015.83,261.60 1015.91,261.10 1015.99,260.60 1016.08,260.10 1016.17,259.60 1016.25,259.10 1016.35,258.60 1016.45,258.10 1016.56,257.60 1016.67,257.10 1016.78,256.60 1016.88,256.10 1016.99,255.60 1017.08,255.10 1017.17,254.60 1017.25,254.10 1017.31,253.60 1017.37,253.10 1017.42,252.60 1017.48,252.10 1017.52,251.60 1017.57,251.10 1017.61,250.60 1017.65,250.10 1017.69,249.60 1017.73,249.10 1017.76,248.60 1017.79,248.10 1017.82,247.60 1017.85,247.10 1017.88,246.60 1017.90,246.10 1017.93,245.60 1017.95,245.10 1017.97,244.60 1017.99,244.10 1018.01,243.60 1018.03,243.10 1018.05,242.60 1018.07,242.10 1018.08,241.60 1018.10,241.10 1018.12,240.60 1018.14,240.10 1018.16,239.60 1018.18,239.10 1018.20,238.60 1018.23,238.10 1018.25,237.60 1018.28,237.10 1018.31,236.60 1018.34,236.10 1018.37,235.60 1018.40,235.10 1018.44,234.60 1018.48,234.10 1018.53,233.60 1018.59,233.10 1018.65,232.60 1018.71,232.10 1018.78,231.60 1018.84,231.10 1018.91,230.60 1018.97,230.10 1019.03,229.60 1019.10,229.10 1019.16,228.60 1019.22,228.10 1019.28,227.60 1019.34,227.10 1019.39,226.60 1019.45,226.10 1019.50,225.60 1019.54,225.10 1019.59,224.60 1019.63,224.10 1019.67,223.60 1019.71,223.10 1019.74,222.60 1019.78,222.10 1019.82,221.60 1019.86,221.10 1019.90,220.60 1019.94,220.10 1019.98,219.60 1020.01,219.10 1020.05,218.60 1020.08,218.10 1020.12,217.60 1020.16,217.10 1020.20,216.60 1020.24,216.10 1020.27,215.60 1020.30,215.10 1020.33,214.60 1020.35,214.10 1020.36,213.60 1020.38,213.10 1020.40,212.60 1020.41,212.10 1020.43,211.60 1020.45,211.10 1020.45,210.60 1020.45,210.10 1020.45,209.60 1020.45,209.10 1020.45,208.60 1020.45,208.10 1020.45,207.60 1020.45,207.10 1020.45,206.60 1020.45,206.10 1020.45,205.60 1020.45,205.10 1020.45,204.60 1020.45,204.10 1020.45,203.60 1020.45,203.10 1020.45,202.60 1020.45,202.10 1020.45,201.60 1020.45,201.10 1020.45,200.60 1020.45,200.10 1020.45,199.60 1020.45,199.10 1020.45,198.60 1020.45,198.10 1020.45,197.60 1020.45,197.10 1020.45,196.60 1020.45,196.10 1020.45,195.60 1020.45,195.10 1020.45,194.60 1020.45,194.10 1020.45,193.60 1020.45,193.10 1020.45,192.60 1020.45,192.10 1020.45,191.60 1020.45,191.10 1020.45,190.60 1020.45,190.10 1020.45,189.60 1020.45,189.10 1020.45,188.60 1020.45,188.10 1020.45,187.60 1020.45,187.10 1020.45,186.60 1020.45,186.10 1020.45,185.60 1020.45,185.10 1020.45,184.60 1020.45,184.10 1020.45,183.60 1020.45,183.10 1020.45,182.60 1020.45,182.10 1020.45,181.60 1020.45,181.10 1020.45,180.60 1020.45,180.10 1020.45,179.60 1020.45,179.10 1020.45,178.60 1020.45,178.10 1020.45,177.60 1020.45,177.10 1020.45,176.60 1020.45,176.10 1020.45,175.60 1020.45,175.10 1020.45,174.60 1020.45,174.10 1020.45,173.60 1020.45,173.10 1020.45,172.60 1020.45,172.10 1020.45,171.60 1020.45,171.10 1020.45,170.60 1020.45,170.10 1020.45,169.60 1020.45,169.10 1020.45,168.60 1020.45,168.10 1020.45,167.60 1020.45,167.10 1020.45,166.60 1020.45,166.10 1020.45,165.60 1020.45,165.10 1020.45,164.60 1020.45,164.10 1020.45,163.60 1020.45,163.10 1020.45,162.60 1020.45,162.10 1020.45,161.60 1020.45,161.10 1020.45,160.60 1020.45,160.10 1020.45,159.60 1020.45,159.10 1020.45,158.60 1020.45,158.10 1020.45,157.60 1020.45,157.10 1020.45,156.60 1020.45,156.10 1020.45,155.60 1020.45,155.10 1020.45,154.60 1020.45,154.10 1020.45,153.60 1020.45,153.10 1020.45,152.60 1020.45,152.10 1020.45,151.60 1020.45,151.10 1020.45,150.60 1020.45,150.10 1020.45,149.60 1020.45,149.10 1020.45,148.60 1020.45,148.10 1020.45,147.60 1020.45,147.10 1020.45,146.60 1020.45,146.10 1020.45,145.60 1020.45,145.10 1020.45,144.60 1020.45,144.10 1020.45,143.60 1020.45,143.10 1020.45,142.60 1020.45,142.10 1020.45,141.60 1020.45,141.10 1020.45,140.60 1020.45,140.10 1020.45,139.60 1020.45,139.10 1020.45,138.60 1020.45,138.10 1020.45,137.60 1020.45,137.10 1020.45,136.60 1020.45,136.10 1020.45,135.60 1020.45,135.10 1020.45,134.60 1020.45,134.10 1020.45,133.60 1020.45,133.10 1020.45,132.60 1020.45,132.10 1020.45,131.60 1020.45,131.10 1020.45,130.60 1020.45,130.10 1020.45,129.60 1020.45,129.10 1020.45,128.60 1020.45,128.10 1020.45,127.60 1020.45,127.10 1020.45,126.60 1020.45,126.10 1020.45,125.60 1020.45,125.10 1020.45,124.60 1020.45,124.10 1020.45,123.60 1020.45,123.10 1020.45,122.60 1020.45,122.10 1020.45,121.60 1020.45,121.10 1020.45,120.60 1020.45,120.10 1020.45,119.60 1020.45,119.10 1020.45,118.60 1020.45,118.10 1020.45,117.60 1020.45,117.10 1020.45,116.60 1020.45,116.10 1020.45,115.60 1020.45,115.10 1020.45,114.60 1020.45,114.10 1020.45,113.60 1020.45,113.10 1020.45,112.60 1020.45,112.10 1020.45,111.60 1020.45,111.10 1020.45,110.60 1020.45,110.10 1020.45,109.60 1020.45,109.10 1020.45,108.60 1020.45,108.10 1020.45,107.60 1020.45,107.10 1020.45,106.60 1020.45,106.10 1020.45,105.60 1020.45,105.10 1020.45,104.60 1020.45,104.10 1020.45,103.60 Z" fill="#b1cf8e" stroke="#505050" stroke-width="1.8" stroke-linejoin="round"/>
<line x1="963.91" y1="312.60" x2="1077.09" y2="312.60" stroke="#505050" stroke-width="1.7" stroke-dasharray="4.5 4.5"/>
<line x1="936.92" y1="327.70" x2="1104.08" y2="327.70" stroke="#505050" stroke-width="1.7" stroke-dasharray="9 9"/>
<line x1="938.44" y1="341.40" x2="1102.56" y2="341.40" stroke="#505050" stroke-width="1.7" stroke-dasharray="4.5 4.5"/>
<text x="990.6" y="326.8" class="s" font-size="13.3">m = 0.8</text>
<rect x="663.5" y="33.0" width="476.0" height="354.3" fill="none" stroke="#d0d0d0" stroke-width="1.7"/>
</g>
<g>
<text x="1526.5" y="26.9" text-anchor="middle" font-size="26.5">mean_sacc_velocity</text>
<text x="1276.1" y="371.4" class="s" text-anchor="end" font-size="13.4">0</text>
<text x="1276.1" y="312.0" class="s" text-anchor="end" font-size="13.4">500</text>
<text x="1276.1" y="252.6" class="s" text-anchor="end" font-size="13.4">1000</text>
<text x="1276.1" y="193.1" class="s" text-anchor="end" font-size="13.4">1500</text>
<text x="1276.1" y="133.7" class="s" text-anchor="end" font-size="13.4">2000</text>
<text x="1276.1" y="74.3" class="s" text-anchor="end" font-size="13.4">2500</text>
<text x="1407.5" y="411.3" class="s" text-anchor="middle" font-size="13.4">NR</text>
<text x="1645.5" y="411.3" class="s" text-anchor="middle" font-size="13.4">TSR</text>
<path d="M1407.55,48.50 1407.55,49.00 1407.55,49.50 1407.55,50.00 1407.55,50.50 1407.55,51.00 1407.55,51.50 1407.55,52.00 1407.55,52.50 1407.55,53.00 1407.55,53.50 1407.55,54.00 1407.55,54.50 1407.55,55.00 1407.55,55.50 1407.55,56.00 1407.55,56.50 1407.55,57.00 1407.55,57.50 1407.55,58.00 1407.55,58.50 1407.55,59.00 1407.55,59.50 1407.55,60.00 1407.55,60.50 1407.55,61.00 1407.55,61.50 1407.55,62.00 1407.55,62.50 1407.55,63.00 1407.55,63.50 1407.55,64.00 1407.55,64.50 1407.55,65.00 1407.55,65.50 1407.55,66.00 1407.55,66.50 1407.55,67.00 1407.55,67.50 1407.55,68.00 1407.55,68.50 1407.55,69.00 1407.55,69.50 1407.55,70.00 1407.55,70.50 1407.55,71.00 1407.55,71.50 1407.55,72.00 1407.55,72.50 1407.55,73.00 1407.55,73.50 1407.55,74.00 1407.55,74.50 1407.55,75.00 1407.55,75.50 1407.55,76.00 1407.55,76.50 1407.55,77.00 1407.55,77.50 1407.55,78.00 1407.55,78.50 1407.55,79.00 1407.55,79.50 1407.55,80.00 1407.55,80.50 1407.55,81.00 1407.55,81.50 1407.55,82.00 1407.55,82.50 1407.55,83.00 1407.55,83.50 1407.55,84.00 1407.55,84.50 1407.55,85.00 1407.55,85.50 1407.55,86.00 1407.55,86.50 1407.55,87.00 1407.55,87.50 1407.55,88.00 1407.55,88.50 1407.55,89.00 1407.55,89.50 1407.55,90.00 1407.55,90.50 1407.55,91.00 1407.55,91.50 1407.55,92.00 1407.55,92.50 1407.55,93.00 1407.55,93.50 1407.55,94.00 1407.55,94.50 1407.55,95.00 1407.55,95.50 1407.55,96.00 1407.55,96.50 1407.55,97.00 1407.55,97.50 1407.55,98.00 1407.55,98.50 1407.55,99.00 1407.55,99.50 1407.55,100.00 1407.55,100.50 1407.55,101.00 1407.55,101.50 1407.55,102.00 1407.55,102.50 1407.55,103.00 1407.55,103.50 1407.55,104.00 1407.55,104.50 1407.55,105.00 1407.55,105.50 1407.55,106.00 1407.55,106.50 1407.55,107.00 1407.55,107.50 1407.55,108.00 1407.55,108.50 1407.55,109.00 1407.55,109.50 1407.55,110.00 1407.55,110.50 1407.55,111.00 1407.55,111.50 1407.55,112.00 1407.55,112.50 1407.55,113.00 1407.55,113.50 1407.55,114.00 1407.55,114.50 1407.55,115.00 1407.55,115.50 1407.55,116.00 1407.55,116.50 1407.55,117.00 1407.55,117.50 1407.55,118.00 1407.55,118.50 1407.55,119.00 1407.55,119.50 1407.55,120.00 1407.55,120.50 1407.55,121.00 1407.55,121.50 1407.55,122.00 1407.55,122.50 1407.55,123.00 1407.55,123.50 1407.55,124.00 1407.55,124.50 1407.55,125.00 1407.55,125.50 1407.55,126.00 1407.55,126.50 1407.55,127.00 1407.55,127.50 1407.55,128.00 1407.55,128.50 1407.55,129.00 1407.55,129.50 1407.55,130.00 1407.55,130.50 1407.55,131.00 1407.55,131.50 1407.55,132.00 1407.55,132.50 1407.55,133.00 1407.55,133.50 1407.55,134.00 1407.55,134.50 1407.55,135.00 1407.55,135.50 1407.55,136.00 1407.55,136.50 1407.55,137.00 1407.55,137.50 1407.55,138.00 1407.55,138.50 1407.55,139.00 1407.55,139.50 1407.55,140.00 1407.55,140.50 1407.55,141.00 1407.55,141.50 1407.55,142.00 1407.55,142.50 1407.55,143.00 1407.55,143.50 1407.55,144.00 1407.55,144.50 1407.55,145.00 1407.55,145.50 1407.55,146.00 1407.55,146.50 1407.55,147.00 1407.55,147.50 1407.55,148.00 1407.55,148.50 1407.55,149.00 1407.55,149.50 1407.55,150.00 1407.55,150.50 1407.55,151.00 1407.55,151.50 1407.55,152.00 1407.55,152.50 1407.55,153.00 1407.55,153.50 1407.55,154.00 1407.55,154.50 1407.55,155.00 1407.55,155.50 1407.55,156.00 1407.55,156.50 1407.55,157.00 1407.55,157.50 1407.55,158.00 1407.55,158.50 1407.55,159.00 1407.55,159.50 1407.55,160.00 1407.55,160.50 1407.55,161.00 1407.55,161.50 1407.55,162.00 1407.55,162.50 1407.55,163.00 1407.55,163.50 1407.55,164.00 1407.55,164.50 1407.55,165.00 1407.55,165.50 1407.55,166.00 1407.55,166.50 1407.55,167.00 1407.55,167.50 1407.55,168.00 1407.55,168.50 1407.55,169.00 1407.55,169.50 1407.55,170.00 1407.55,170.50 1407.55,171.00 1407.56,171.50 1407.56,172.00 1407.56,172.50 1407.56,173.00 1407.56,173.50 1407.56,174.00 1407.57,174.50 1407.57,175.00 1407.57,175.50 1407.57,176.00 1407.57,176.50 1407.57,177.00 1407.57,177.50 1407.58,178.00 1407.58,178.50 1407.58,179.00 1407.58,179.50 1407.58,180.00 1407.58,180.50 1407.59,181.00 1407.59,181.50 1407.59,182.00 1407.59,182.50 1407.59,183.00 1407.59,183.50 1407.60,184.00 1407.60,184.50 1407.60,185.00 1407.60,185.50 1407.60,186.00 1407.60,186.50 1407.61,187.00 1407.61,187.50 1407.61,188.00 1407.61,188.50 1407.61,189.00 1407.61,189.50 1407.62,190.00 1407.62,190.50 1407.62,191.00 1407.62,191.50 1407.62,192.00 1407.62,192.50 1407.63,193.00 1407.63,193.50 1407.63,194.00 1407.63,194.50 1407.63,195.00 1407.63,195.50 1407.64,196.00 1407.64,196.50 1407.64,197.00 1407.64,197.50 1407.64,198.00 1407.64,198.50 1407.65,199.00 1407.65,199.50 1407.65,200.00 1407.65,200.50 1407.65,201.00 1407.66,201.50 1407.66,202.00 1407.66,202.50 1407.66,203.00 1407.66,203.50 1407.67,204.00 1407.67,204.50 1407.67,205.00 1407.67,205.50 1407.67,206.00 1407.68,206.50 1407.68,207.00 1407.68,207.50 1407.68,208.00 1407.68,208.50 1407.69,209.00 1407.69,209.50 1407.69,210.00 1407.69,210.50 1407.70,211.00 1407.70,211.50 1407.70,212.00 1407.70,212.50 1407.71,213.00 1407.71,213.50 1407.71,214.00 1407.72,214.50 1407.72,215.00 1407.72,215.50 1407.72,216.00 1407.73,216.50 1407.73,217.00 1407.73,217.50 1407.74,218.00 1407.74,218.50 1407.74,219.00 1407.74,219.50 1407.75,220.00 1407.75,220.50 1407.75,221.00 1407.76,221.50 1407.76,222.00 1407.76,222.50 1407.77,223.00 1407.77,223.50 1407.77,224.00 1407.78,224.50 1407.78,225.00 1407.79,225.50 1407.79,226.00 1407.79,226.50 1407.80,227.00 1407.80,227.50 1407.80,228.00 1407.81,228.50 1407.81,229.00 1407.82,229.50 1407.82,230.00 1407.82,230.50 1407.83,231.00 1407.83,231.50 1407.84,232.00 1407.84,232.50 1407.84,233.00 1407.85,233.50 1407.85,234.00 1407.86,234.50 1407.86,235.00 1407.87,235.50 1407.87,236.00 1407.88,236.50 1407.88,237.00 1407.89,237.50 1407.89,238.00 1407.90,238.50 1407.90,239.00 1407.90,239.50 1407.91,240.00 1407.91,240.50 1407.92,241.00 1407.93,241.50 1407.93,242.00 1407.94,242.50 1407.94,243.00 1407.95,243.50 1407.95,244.00 1407.96,244.50 1407.96,245.00 1407.97,245.50 1407.97,246.00 1407.98,246.50 1407.98,247.00 1407.99,247.50 1408.00,248.00 1408.00,248.50 1408.01,249.00 1408.01,249.50 1408.02,250.00 1408.03,250.50 1408.03,251.00 1408.04,251.50 1408.04,252.00 1408.05,252.50 1408.06,253.00 1408.07,253.50 1408.08,254.00 1408.09,254.50 1408.10,255.00 1408.11,255.50 1408.12,256.00 1408.13,256.50 1408.13,257.00 1408.14,257.50 1408.15,258.00 1408.16,258.50 1408.17,259.00 1408.18,259.50 1408.19,260.00 1408.21,260.50 1408.22,261.00 1408.23,261.50 1408.24,262.00 1408.26,262.50 1408.27,263.00 1408.29,263.50 1408.31,264.00 1408.33,264.50 1408.34,265.00 1408.36,265.50 1408.38,266.00 1408.40,266.50 1408.42,267.00 1408.44,267.50 1408.46,268.00 1408.49,268.50 1408.51,269.00 1408.53,269.50 1408.55,270.00 1408.57,270.50 1408.60,271.00 1408.62,271.50 1408.64,272.00 1408.66,272.50 1408.69,273.00 1408.71,273.50 1408.73,274.00 1408.75,274.50 1408.78,275.00 1408.80,275.50 1408.82,276.00 1408.84,276.50 1408.85,277.00 1408.87,277.50 1408.89,278.00 1408.91,278.50 1408.93,279.00 1408.94,279.50 1408.96,280.00 1408.98,280.50 1409.00,281.00 1409.02,281.50 1409.04,282.00 1409.06,282.50 1409.08,283.00 1409.10,283.50 1409.12,284.00 1409.14,284.50 1409.17,285.00 1409.19,285.50 1409.22,286.00 1409.25,286.50 1409.28,287.00 1409.31,287.50 1409.34,288.00 1409.38,288.50 1409.42,289.00 1409.46,289.50 1409.50,290.00 1409.53,290.50 1409.58,291.00 1409.63,291.50 1409.69,292.00 1409.75,292.50 1409.82,293.00 1409.90,293.50 1409.99,294.00 1410.08,294.50 1410.17,295.00 1410.27,295.50 1410.38,296.00 1410.49,296.50 1410.63,297.00 1410.80,297.50 1410.98,298.00 1411.17,298.50 1411.38,299.00 1411.61,299.50 1411.84,300.00 1412.08,300.50 1412.32,301.00 1412.56,301.50 1412.80,302.00 1413.04,302.50 1413.29,303.00 1413.54,303.50 1413.80,304.00 1414.07,304.50 1414.36,305.00 1414.65,305.50 1414.96,306.00 1415.29,306.50 1415.63,307.00 1416.00,307.50 1416.39,308.00 1416.82,308.50 1417.28,309.00 1417.75,309.50 1418.25,310.00 1418.76,310.50 1419.28,311.00 1419.81,311.50 1420.35,312.00 1420.90,312.50 1421.48,313.00 1422.07,313.50 1422.69,314.00 1423.33,314.50 1424.00,315.00 1424.71,315.50 1425.44,316.00 1426.16,316.50 1426.92,317.00 1427.75,317.50 1428.68,318.00 1429.77,318.50 1431.08,319.00 1433.02,319.50 1435.30,320.00 1437.51,320.50 1439.40,321.00 1441.21,321.50 1442.97,322.00 1444.70,322.50 1446.43,323.00 1448.18,323.50 1449.98,324.00 1451.79,324.50 1453.60,325.00 1455.42,325.50 1457.27,326.00 1459.14,326.50 1461.05,327.00 1463.02,327.50 1465.03,328.00 1467.04,328.50 1469.05,329.00 1471.03,329.50 1472.97,330.00 1474.88,330.50 1476.77,331.00 1478.65,331.50 1480.51,332.00 1482.34,332.50 1484.16,333.00 1485.99,333.50 1487.82,334.00 1489.63,334.50 1491.38,335.00 1493.05,335.50 1494.64,336.00 1496.42,336.50 1498.25,337.00 1499.92,337.50 1501.22,338.00 1501.93,338.50 1501.85,339.00 1500.99,339.50 1499.55,340.00 1497.73,340.50 1495.72,341.00 1493.63,341.50 1490.90,342.00 1487.59,342.50 1483.92,343.00 1480.15,343.50 1476.49,344.00 1473.05,344.50 1469.58,345.00 1466.08,345.50 1462.54,346.00 1458.93,346.50 1455.26,347.00 1451.48,347.50 1447.63,348.00 1443.71,348.50 1439.78,349.00 1435.84,349.50 1431.88,350.00 1427.54,350.50 1423.48,351.00 1420.51,351.50 1418.25,352.00 1416.30,352.50 1414.67,353.00 1413.40,353.50 1412.47,354.00 1411.69,354.50 1411.03,355.00 1410.46,355.50 1409.96,356.00 1409.50,356.50 1408.81,357.00 1408.36,357.50 1408.68,358.00 1409.66,358.50 1410.50,359.00 1411.35,359.50 1412.32,360.00 1413.33,360.50 1414.30,361.00 1415.32,361.50 1416.47,362.00 1417.63,362.50 1418.71,363.00 1419.58,363.50 1420.15,364.00 1420.29,364.50 1420.00,365.00 1419.39,365.50 1418.58,366.00 1417.68,366.50 1416.81,367.00 1416.05,367.50 1415.27,368.00 1414.46,368.50 1413.62,369.00 1412.76,369.50 1411.88,370.00 1411.00,370.50 1410.08,371.00 1408.78,371.50 1407.55,372.00 L1407.45,372.00 1406.22,371.50 1404.92,371.00 1404.00,370.50 1403.12,370.00 1402.24,369.50 1401.38,369.00 1400.54,368.50 1399.73,368.00 1398.95,367.50 1398.19,367.00 1397.32,366.50 1396.42,366.00 1395.61,365.50 1395.00,365.00 1394.71,364.50 1394.85,364.00 1395.42,363.50 1396.29,363.00 1397.37,362.50 1398.53,362.00 1399.68,361.50 1400.70,361.00 1401.67,360.50 1402.68,360.00 1403.65,359.50 1404.50,359.00 1405.34,358.50 1406.32,358.00 1406.64,357.50 1406.19,357.00 1405.50,356.50 1405.04,356.00 1404.54,355.50 1403.97,355.00 1403.31,354.50 1402.53,354.00 1401.60,353.50 1400.33,353.00 1398.70,352.50 1396.75,352.00 1394.49,351.50 1391.52,351.00 1387.46,350.50 1383.12,350.00 1379.16,349.50 1375.22,349.00 1371.29,348.50 1367.37,348.00 1363.52,347.50 1359.74,347.00 1356.07,346.50 1352.46,346.00 1348.92,345.50 1345.42,345.00 1341.95,344.50 1338.51,344.00 1334.85,343.50 1331.08,343.00 1327.41,342.50 1324.10,342.00 1321.37,341.50 1319.28,341.00 1317.27,340.50 1315.45,340.00 1314.01,339.50 1313.15,339.00 1313.07,338.50 1313.78,338.00 1315.08,337.50 1316.75,337.00 1318.58,336.50 1320.36,336.00 1321.95,335.50 1323.62,335.00 1325.37,334.50 1327.18,334.00 1329.01,333.50 1330.84,333.00 1332.66,332.50 1334.49,332.00 1336.35,331.50 1338.23,331.00 1340.12,330.50 1342.03,330.00 1343.97,329.50 1345.95,329.00 1347.96,328.50 1349.97,328.00 1351.98,327.50 1353.95,327.00 1355.86,326.50 1357.73,326.00 1359.58,325.50 1361.40,325.00 1363.21,324.50 1365.02,324.00 1366.82,323.50 1368.57,323.00 1370.30,322.50 1372.03,322.00 1373.79,321.50 1375.60,321.00 1377.49,320.50 1379.70,320.00 1381.98,319.50 1383.92,319.00 1385.23,318.50 1386.32,318.00 1387.25,317.50 1388.08,317.00 1388.84,316.50 1389.56,316.00 1390.29,315.50 1391.00,315.00 1391.67,314.50 1392.31,314.00 1392.93,313.50 1393.52,313.00 1394.10,312.50 1394.65,312.00 1395.19,311.50 1395.72,311.00 1396.24,310.50 1396.75,310.00 1397.25,309.50 1397.72,309.00 1398.18,308.50 1398.61,308.00 1399.00,307.50 1399.37,307.00 1399.71,306.50 1400.04,306.00 1400.35,305.50 1400.64,305.00 1400.93,304.50 1401.20,304.00 1401.46,303.50 1401.71,303.00 1401.96,302.50 1402.20,302.00 1402.44,301.50 1402.68,301.00 1402.92,300.50 1403.16,300.00 1403.39,299.50 1403.62,299.00 1403.83,298.50 1404.02,298.00 1404.20,297.50 1404.37,297.00 1404.51,296.50 1404.62,296.00 1404.73,295.50 1404.83,295.00 1404.92,294.50 1405.01,294.00 1405.10,293.50 1405.18,293.00 1405.25,292.50 1405.31,292.00 1405.37,291.50 1405.42,291.00 1405.47,290.50 1405.50,290.00 1405.54,289.50 1405.58,289.00 1405.62,288.50 1405.66,288.00 1405.69,287.50 1405.72,287.00 1405.75,286.50 1405.78,286.00 1405.81,285.50 1405.83,285.00 1405.86,284.50 1405.88,284.00 1405.90,283.50 1405.92,283.00 1405.94,282.50 1405.96,282.00 1405.98,281.50 1406.00,281.00 1406.02,280.50 1406.04,280.00 1406.06,279.50 1406.07,279.00 1406.09,278.50 1406.11,278.00 1406.13,277.50 1406.15,277.00 1406.16,276.50 1406.18,276.00 1406.20,275.50 1406.22,275.00 1406.25,274.50 1406.27,274.00 1406.29,273.50 1406.31,273.00 1406.34,272.50 1406.36,272.00 1406.38,271.50 1406.40,271.00 1406.43,270.50 1406.45,270.00 1406.47,269.50 1406.49,269.00 1406.51,268.50 1406.54,268.00 1406.56,267.50 1406.58,267.00 1406.60,266.50 1406.62,266.00 1406.64,265.50 1406.66,265.00 1406.67,264.50 1406.69,264.00 1406.71,263.50 1406.73,263.00 1406.74,262.50 1406.76,262.00 1406.77,261.50 1406.78,261.00 1406.79,260.50 1406.81,260.00 1406.82,259.50 1406.83,259.00 1406.84,258.50 1406.85,258.00 1406.86,257.50 1406.87,257.00 1406.87,256.50 1406.88,256.00 1406.89,255.50 1406.90,255.00 1406.91,254.50 1406.92,254.00 1406.93,253.50 1406.94,253.00 1406.95,252.50 1406.96,252.00 1406.96,251.50 1406.97,251.00 1406.97,250.50 1406.98,250.00 1406.99,249.50 1406.99,249.00 1407.00,248.50 1407.00,248.00 1407.01,247.50 1407.02,247.00 1407.02,246.50 1407.03,246.00 1407.03,245.50 1407.04,245.00 1407.04,244.50 1407.05,244.00 1407.05,243.50 1407.06,243.00 1407.06,242.50 1407.07,242.00 1407.07,241.50 1407.08,241.00 1407.09,240.50 1407.09,240.00 1407.10,239.50 1407.10,239.00 1407.10,238.50 1407.11,238.00 1407.11,237.50 1407.12,237.00 1407.12,236.50 1407.13,236.00 1407.13,235.50 1407.14,235.00 1407.14,234.50 1407.15,234.00 1407.15,233.50 1407.16,233.00 1407.16,232.50 1407.16,232.00 1407.17,231.50 1407.17,231.00 1407.18,230.50 1407.18,230.00 1407.18,229.50 1407.19,229.00 1407.19,228.50 1407.20,228.00 1407.20,227.50 1407.20,227.00 1407.21,226.50 1407.21,226.00 1407.21,225.50 1407.22,225.00 1407.22,224.50 1407.23,224.00 1407.23,223.50 1407.23,223.00 1407.24,222.50 1407.24,222.00 1407.24,221.50 1407.25,221.00 1407.25,220.50 1407.25,220.00 1407.26,219.50 1407.26,219.00 1407.26,218.50 1407.26,218.00 1407.27,217.50 1407.27,217.00 1407.27,216.50 1407.28,216.00 1407.28,215.50 1407.28,215.00 1407.28,214.50 1407.29,214.00 1407.29,213.50 1407.29,213.00 1407.30,212.50 1407.30,212.00 1407.30,211.50 1407.30,211.00 1407.31,210.50 1407.31,210.00 1407.31,209.50 1407.31,209.00 1407.32,208.50 1407.32,208.00 1407.32,207.50 1407.32,207.00 1407.32,206.50 1407.33,206.00 1407.33,205.50 1407.33,205.00 1407.33,204.50 1407.33,204.00 1407.34,203.50 1407.34,203.00 1407.34,202.50 1407.34,202.00 1407.34,201.50 1407.35,201.00 1407.35,200.50 1407.35,200.00 1407.35,199.50 1407.35,199.00 1407.36,198.50 1407.36,198.00 1407.36,197.50 1407.36,197.00 1407.36,196.50 1407.36,196.00 1407.37,195.50 1407.37,195.00 1407.37,194.50 1407.37,194.00 1407.37,193.50 1407.37,193.00 1407.38,192.50 1407.38,192.00 1407.38,191.50 1407.38,191.00 1407.38,190.50 1407.38,190.00 1407.39,189.50 1407.39,189.00 1407.39,188.50 1407.39,188.00 1407.39,187.50 1407.39,187.00 1407.40,186.50 1407.40,186.00 1407.40,185.50 1407.40,185.00 1407.40,184.50 1407.40,184.00 1407.41,183.50 1407.41,183.00 1407.41,182.50 1407.41,182.00 1407.41,181.50 1407.41,181.00 1407.42,180.50 1407.42,180.00 1407.42,179.50 1407.42,179.00 1407.42,178.50 1407.42,178.00 1407.43,177.50 1407.43,177.00 1407.43,176.50 1407.43,176.00 1407.43,175.50 1407.43,175.00 1407.43,174.50 1407.44,174.00 1407.44,173.50 1407.44,173.00 1407.44,172.50 1407.44,172.00 1407.44,171.50 1407.45,171.00 1407.45,170.50 1407.45,170.00 1407.45,169.50 1407.45,169.00 1407.45,168.50 1407.45,168.00 1407.45,167.50 1407.45,167.00 1407.45,166.50 1407.45,166.00 1407.45,165.50 1407.45,165.00 1407.45,164.50 1407.45,164.00 1407.45,163.50 1407.45,163.00 1407.45,162.50 1407.45,162.00 1407.45,161.50 1407.45,161.00 1407.45,160.50 1407.45,160.00 1407.45,159.50 1407.45,159.00 1407.45,158.50 1407.45,158.00 1407.45,157.50 1407.45,157.00 1407.45,156.50 1407.45,156.00 1407.45,155.50 1407.45,155.00 1407.45,154.50 1407.45,154.00 1407.45,153.50 1407.45,153.00 1407.45,152.50 1407.45,152.00 1407.45,151.50 1407.45,151.00 1407.45,150.50 1407.45,150.00 1407.45,149.50 1407.45,149.00 1407.45,148.50 1407.45,148.00 1407.45,147.50 1407.45,147.00 1407.45,146.50 1407.45,146.00 1407.45,145.50 1407.45,145.00 1407.45,144.50 1407.45,144.00 1407.45,143.50 1407.45,143.00 1407.45,142.50 1407.45,142.00 1407.45,141.50 1407.45,141.00 1407.45,140.50 1407.45,140.00 1407.45,139.50 1407.45,139.00 1407.45,138.50 1407.45,138.00 1407.45,137.50 1407.45,137.00 1407.45,136.50 1407.45,136.00 1407.45,135.50 1407.45,135.00 1407.45,134.50 1407.45,134.00 1407.45,133.50 1407.45,133.00 1407.45,132.50 1407.45,132.00 1407.45,131.50 1407.45,131.00 1407.45,130.50 1407.45,130.00 1407.45,129.50 1407.45,129.00 1407.45,128.50 1407.45,128.00 1407.45,127.50 1407.45,127.00 1407.45,126.50 1407.45,126.00 1407.45,125.50 1407.45,125.00 1407.45,124.50 1407.45,124.00 1407.45,123.50 1407.45,123.00 1407.45,122.50 1407.45,122.00 1407.45,121.50 1407.45,121.00 1407.45,120.50 1407.45,120.00 1407.45,119.50 1407.45,119.00 1407.45,118.50 1407.45,118.00 1407.45,117.50 1407.45,117.00 1407.45,116.50 1407.45,116.00 1407.45,115.50 1407.45,115.00 1407.45,114.50 1407.45,114.00 1407.45,113.50 1407.45,113.00 1407.45,112.50 1407.45,112.00 1407.45,111.50 1407.45,111.00 1407.45,110.50 1407.45,110.00 1407.45,109.50 1407.45,109.00 1407.45,108.50 1407.45,108.00 1407.45,107.50 1407.45,107.00 1407.45,106.50 1407.45,106.00 1407.45,105.50 1407.45,105.00 1407.45,104.50 1407.45,104.00 1407.45,103.50 1407.45,103.00 1407.45,102.50 1407.45,102.00 1407.45,101.50 1407.45,101.00 1407.45,100.50 1407.45,100.00 1407.45,99.50 1407.45,99.00 1407.45,98.50 1407.45,98.00 1407.45,97.50 1407.45,97.00 1407.45,96.50 1407.45,96.00 1407.45,95.50 1407.45,95.00 1407.45,94.50 1407.45,94.00 1407.45,93.50 1407.45,93.00 1407.45,92.50 1407.45,92.00 1407.45,91.50 1407.45,91.00 1407.45,90.50 1407.45,90.00 1407.45,89.50 1407.45,89.00 1407.45,88.50 1407.45,88.00 1407.45,87.50 1407.45,87.00 1407.45,86.50 1407.45,86.00 1407.45,85.50 1407.45,85.00 1407.45,84.50 1407.45,84.00 1407.45,83.50 1407.45,83.00 1407.45,82.50 1407.45,82.00 1407.45,81.50 1407.45,81.00 1407.45,80.50 1407.45,80.00 1407.45,79.50 1407.45,79.00 1407.45,78.50 1407.45,78.00 1407.45,77.50 1407.45,77.00 1407.45,76.50 1407.45,76.00 1407.45,75.50 1407.45,75.00 1407.45,74.50 1407.45,74.00 1407.45,73.50 1407.45,73.00 1407.45,72.50 1407.45,72.00 1407.45,71.50 1407.45,71.00 1407.45,70.50 1407.45,70.00 1407.45,69.50 1407.45,69.00 1407.45,68.50 1407.45,68.00 1407.45,67.50 1407.45,67.00 1407.45,66.50 1407.45,66.00 1407.45,65.50 1407.45,65.00 1407.45,64.50 1407.45,64.00 1407.45,63.50 1407.45,63.00 1407.45,62.50 1407.45,62.00 1407.45,61.50 1407.45,61.00 1407.45,60.50 1407.45,60.00 1407.45,59.50 1407.45,59.00 1407.45,58.50 1407.45,58.00 1407.45,57.50 1407.45,57.00 1407.45,56.50 1407.45,56.00 1407.45,55.50 1407.45,55.00 1407.45,54.50 1407.45,54.00 1407.45,53.50 1407.45,53.00 1407.45,52.50 1407.45,52.00 1407.45,51.50 1407.45,51.00 1407.45,50.50 1407.45,50.00 1407.45,49.50 1407.45,49.00 1407.45,48.50 Z" fill="#5199b5" stroke="#505050" stroke-width="1.8" stroke-linejoin="round"/>
<line x1="1349.97" y1="328.00" x2="1465.03" y2="328.00" stroke="#505050" stroke-width="1.7" stroke-dasharray="4.5 4.5"/>
<line x1="1318.95" y1="336.40" x2="1496.05" y2="336.40" stroke="#505050" stroke-width="1.7" stroke-dasharray="9 9"/>
<line x1="1322.38" y1="341.70" x2="1492.62" y2="341.70" stroke="#505050" stroke-width="1.7" stroke-dasharray="4.5 4.5"/>
<text x="1377.8" y="335.9" class="s" font-size="13.3">m = 243.1</text>
<path d="M1645.55,187.10 1645.55,187.60 1645.55,188.10 1645.55,188.60 1645.55,189.10 1645.55,189.60 1645.55,190.10 1645.55,190.60 1645.55,191.10 1645.55,191.60 1645.55,192.10 1645.55,192.60 1645.55,193.10 1645.55,193.60 1645.55,194.10 1645.55,194.60 1645.55,195.10 1645.55,195.60 1645.55,196.10 1645.55,196.60 1645.55,197.10 1645.55,197.60 1645.55,198.10 1645.55,198.60 1645.55,199.10 1645.55,199.60 1645.55,200.10 1645.55,200.60 1645.55,201.10 1645.55,201.60 1645.55,202.10 1645.55,202.60 1645.55,203.10 1645.55,203.60 1645.55,204.10 1645.55,204.60 1645.55,205.10 1645.55,205.60 1645.55,206.10 1645.55,206.60 1645.55,207.10 1645.55,207.60 1645.55,208.10 1645.55,208.60 1645.55,209.10 1645.55,209.60 1645.55,210.10 1645.55,210.60 1645.55,211.10 1645.55,211.60 1645.55,212.10 1645.55,212.60 1645.55,213.10 1645.56,213.60 1645.56,214.10 1645.57,214.60 1645.57,215.10 1645.58,215.60 1645.58,216.10 1645.59,216.60 1645.59,217.10 1645.60,217.60 1645.60,218.10 1645.61,218.60 1645.61,219.10 1645.62,219.60 1645.62,220.10 1645.63,220.60 1645.63,221.10 1645.64,221.60 1645.64,222.10 1645.65,222.60 1645.65,223.10 1645.66,223.60 1645.66,224.10 1645.67,224.60 1645.67,225.10 1645.68,225.60 1645.68,226.10 1645.69,226.60 1645.69,227.10 1645.70,227.60 1645.70,228.10 1645.71,228.60 1645.71,229.10 1645.72,229.60 1645.72,230.10 1645.73,230.60 1645.74,231.10 1645.74,231.60 1645.75,232.10 1645.75,232.60 1645.76,233.10 1645.76,233.60 1645.77,234.10 1645.77,234.60 1645.78,235.10 1645.78,235.60 1645.79,236.10 1645.80,236.60 1645.80,237.10 1645.81,237.60 1645.81,238.10 1645.82,238.60 1645.82,239.10 1645.83,239.60 1645.84,240.10 1645.84,240.60 1645.85,241.10 1645.85,241.60 1645.86,242.10 1645.86,242.60 1645.87,243.10 1645.87,243.60 1645.88,244.10 1645.89,244.60 1645.89,245.10 1645.90,245.60 1645.90,246.10 1645.91,246.60 1645.92,247.10 1645.92,247.60 1645.93,248.10 1645.93,248.60 1645.94,249.10 1645.94,249.60 1645.95,250.10 1645.96,250.60 1645.96,251.10 1645.97,251.60 1645.98,252.10 1645.98,252.60 1645.99,253.10 1645.99,253.60 1646.00,254.10 1646.01,254.60 1646.01,255.10 1646.02,255.60 1646.03,256.10 1646.03,256.60 1646.04,257.10 1646.05,257.60 1646.06,258.10 1646.07,258.60 1646.08,259.10 1646.09,259.60 1646.10,260.10 1646.11,260.60 1646.12,261.10 1646.13,261.60 1646.14,262.10 1646.15,262.60 1646.16,263.10 1646.18,263.60 1646.19,264.10 1646.20,264.60 1646.21,265.10 1646.22,265.60 1646.24,266.10 1646.25,266.60 1646.26,267.10 1646.27,267.60 1646.29,268.10 1646.30,268.60 1646.32,269.10 1646.33,269.60 1646.34,270.10 1646.36,270.60 1646.37,271.10 1646.39,271.60 1646.40,272.10 1646.42,272.60 1646.43,273.10 1646.45,273.60 1646.46,274.10 1646.48,274.60 1646.50,275.10 1646.51,275.60 1646.53,276.10 1646.55,276.60 1646.57,277.10 1646.59,277.60 1646.61,278.10 1646.63,278.60 1646.65,279.10 1646.67,279.60 1646.69,280.10 1646.72,280.60 1646.74,281.10 1646.77,281.60 1646.79,282.10 1646.82,282.60 1646.85,283.10 1646.88,283.60 1646.91,284.10 1646.94,284.60 1646.97,285.10 1647.01,285.60 1647.05,286.10 1647.09,286.60 1647.14,287.10 1647.19,287.60 1647.24,288.10 1647.30,288.60 1647.37,289.10 1647.44,289.60 1647.51,290.10 1647.58,290.60 1647.66,291.10 1647.75,291.60 1647.85,292.10 1647.97,292.60 1648.10,293.10 1648.23,293.60 1648.37,294.10 1648.52,294.60 1648.68,295.10 1648.84,295.60 1649.00,296.10 1649.17,296.60 1649.36,297.10 1649.57,297.60 1649.79,298.10 1650.02,298.60 1650.26,299.10 1650.52,299.60 1650.79,300.10 1651.06,300.60 1651.35,301.10 1651.64,301.60 1651.94,302.10 1652.25,302.60 1652.59,303.10 1652.96,303.60 1653.34,304.10 1653.74,304.60 1654.15,305.10 1654.57,305.60 1655.00,306.10 1655.43,306.60 1655.85,307.10 1656.26,307.60 1656.67,308.10 1657.05,308.60 1657.42,309.10 1657.77,309.60 1658.11,310.10 1658.45,310.60 1658.79,311.10 1659.16,311.60 1659.54,312.10 1659.95,312.60 1660.41,313.10 1660.90,313.60 1661.43,314.10 1662.00,314.60 1662.63,315.10 1663.32,315.60 1664.09,316.10 1664.94,316.60 1665.91,317.10 1667.14,317.60 1668.62,318.10 1670.29,318.60 1672.09,319.10 1673.96,319.60 1675.85,320.10 1677.70,320.60 1679.55,321.10 1681.47,321.60 1683.45,322.10 1685.48,322.60 1687.53,323.10 1689.59,323.60 1691.65,324.10 1693.73,324.60 1695.83,325.10 1697.97,325.60 1700.14,326.10 1702.35,326.60 1704.61,327.10 1706.93,327.60 1709.29,328.10 1711.68,328.60 1714.10,329.10 1716.53,329.60 1719.02,330.10 1721.74,330.60 1724.56,331.10 1727.29,331.60 1729.77,332.10 1731.83,332.60 1733.43,333.10 1734.99,333.60 1736.49,334.10 1737.85,334.60 1739.02,335.10 1739.91,335.60 1740.46,336.10 1740.59,336.60 1740.21,337.10 1739.37,337.60 1738.18,338.10 1736.73,338.60 1735.14,339.10 1733.50,339.60 1731.53,340.10 1729.04,340.60 1726.25,341.10 1723.31,341.60 1720.06,342.10 1716.56,342.60 1712.87,343.10 1709.09,343.60 1705.30,344.10 1701.39,344.60 1697.29,345.10 1693.11,345.60 1688.96,346.10 1684.97,346.60 1681.22,347.10 1677.50,347.60 1673.83,348.10 1670.31,348.60 1667.02,349.10 1664.07,349.60 1661.45,350.10 1658.93,350.60 1656.56,351.10 1654.44,351.60 1652.65,352.10 1651.30,352.60 1650.23,353.10 1649.26,353.60 1648.42,354.10 1647.75,354.60 1647.17,355.10 1646.80,355.60 1646.51,356.10 1646.28,356.60 1646.12,357.10 1646.05,357.60 1646.34,358.10 1647.30,358.60 1648.27,359.10 1649.18,359.60 1650.17,360.10 1651.31,360.60 1652.57,361.10 1654.21,361.60 1656.21,362.10 1658.31,362.60 1660.28,363.10 1661.87,363.60 1662.83,364.10 1662.95,364.60 1662.45,365.10 1661.52,365.60 1660.32,366.10 1659.01,366.60 1657.74,367.10 1656.57,367.60 1655.35,368.10 1654.01,368.60 1652.45,369.10 1650.59,369.60 1647.97,370.10 1645.55,370.50 L1645.45,370.50 1643.03,370.10 1640.41,369.60 1638.55,369.10 1636.99,368.60 1635.65,368.10 1634.43,367.60 1633.26,367.10 1631.99,366.60 1630.68,366.10 1629.48,365.60 1628.55,365.10 1628.05,364.60 1628.17,364.10 1629.13,363.60 1630.72,363.10 1632.69,362.60 1634.79,362.10 1636.79,361.60 1638.43,361.10 1639.69,360.60 1640.83,360.10 1641.82,359.60 1642.73,359.10 1643.70,358.60 1644.66,358.10 1644.95,357.60 1644.88,357.10 1644.72,356.60 1644.49,356.10 1644.20,355.60 1643.83,355.10 1643.25,354.60 1642.58,354.10 1641.74,353.60 1640.77,353.10 1639.70,352.60 1638.35,352.10 1636.56,351.60 1634.44,351.10 1632.07,350.60 1629.55,350.10 1626.93,349.60 1623.98,349.10 1620.69,348.60 1617.17,348.10 1613.50,347.60 1609.78,347.10 1606.03,346.60 1602.04,346.10 1597.89,345.60 1593.71,345.10 1589.61,344.60 1585.70,344.10 1581.91,343.60 1578.13,343.10 1574.44,342.60 1570.94,342.10 1567.69,341.60 1564.75,341.10 1561.96,340.60 1559.47,340.10 1557.50,339.60 1555.86,339.10 1554.27,338.60 1552.82,338.10 1551.63,337.60 1550.79,337.10 1550.41,336.60 1550.54,336.10 1551.09,335.60 1551.98,335.10 1553.15,334.60 1554.51,334.10 1556.01,333.60 1557.57,333.10 1559.17,332.60 1561.23,332.10 1563.71,331.60 1566.44,331.10 1569.26,330.60 1571.98,330.10 1574.47,329.60 1576.90,329.10 1579.32,328.60 1581.71,328.10 1584.07,327.60 1586.39,327.10 1588.65,326.60 1590.86,326.10 1593.03,325.60 1595.17,325.10 1597.27,324.60 1599.35,324.10 1601.41,323.60 1603.47,323.10 1605.52,322.60 1607.55,322.10 1609.53,321.60 1611.45,321.10 1613.30,320.60 1615.15,320.10 1617.04,319.60 1618.91,319.10 1620.71,318.60 1622.38,318.10 1623.86,317.60 1625.09,317.10 1626.06,316.60 1626.91,316.10 1627.68,315.60 1628.37,315.10 1629.00,314.60 1629.57,314.10 1630.10,313.60 1630.59,313.10 1631.05,312.60 1631.46,312.10 1631.84,311.60 1632.21,311.10 1632.55,310.60 1632.89,310.10 1633.23,309.60 1633.58,309.10 1633.95,308.60 1634.33,308.10 1634.74,307.60 1635.15,307.10 1635.57,306.60 1636.00,306.10 1636.43,305.60 1636.85,305.10 1637.26,304.60 1637.66,304.10 1638.04,303.60 1638.41,303.10 1638.75,302.60 1639.06,302.10 1639.36,301.60 1639.65,301.10 1639.94,300.60 1640.21,300.10 1640.48,299.60 1640.74,299.10 1640.98,298.60 1641.21,298.10 1641.43,297.60 1641.64,297.10 1641.83,296.60 1642.00,296.10 1642.16,295.60 1642.32,295.10 1642.48,294.60 1642.63,294.10 1642.77,293.60 1642.90,293.10 1643.03,292.60 1643.15,292.10 1643.25,291.60 1643.34,291.10 1643.42,290.60 1643.49,290.10 1643.56,289.60 1643.63,289.10 1643.70,288.60 1643.76,288.10 1643.81,287.60 1643.86,287.10 1643.91,286.60 1643.95,286.10 1643.99,285.60 1644.03,285.10 1644.06,284.60 1644.09,284.10 1644.12,283.60 1644.15,283.10 1644.18,282.60 1644.21,282.10 1644.23,281.60 1644.26,281.10 1644.28,280.60 1644.31,280.10 1644.33,279.60 1644.35,279.10 1644.37,278.60 1644.39,278.10 1644.41,277.60 1644.43,277.10 1644.45,276.60 1644.47,276.10 1644.49,275.60 1644.50,275.10 1644.52,274.60 1644.54,274.10 1644.55,273.60 1644.57,273.10 1644.58,272.60 1644.60,272.10 1644.61,271.60 1644.63,271.10 1644.64,270.60 1644.66,270.10 1644.67,269.60 1644.68,269.10 1644.70,268.60 1644.71,268.10 1644.73,267.60 1644.74,267.10 1644.75,266.60 1644.76,266.10 1644.78,265.60 1644.79,265.10 1644.80,264.60 1644.81,264.10 1644.82,263.60 1644.84,263.10 1644.85,262.60 1644.86,262.10 1644.87,261.60 1644.88,261.10 1644.89,260.60 1644.90,260.10 1644.91,259.60 1644.92,259.10 1644.93,258.60 1644.94,258.10 1644.95,257.60 1644.96,257.10 1644.97,256.60 1644.97,256.10 1644.98,255.60 1644.99,255.10 1644.99,254.60 1645.00,254.10 1645.01,253.60 1645.01,253.10 1645.02,252.60 1645.02,252.10 1645.03,251.60 1645.04,251.10 1645.04,250.60 1645.05,250.10 1645.06,249.60 1645.06,249.10 1645.07,248.60 1645.07,248.10 1645.08,247.60 1645.08,247.10 1645.09,246.60 1645.10,246.10 1645.10,245.60 1645.11,245.10 1645.11,244.60 1645.12,244.10 1645.13,243.60 1645.13,243.10 1645.14,242.60 1645.14,242.10 1645.15,241.60 1645.15,241.10 1645.16,240.60 1645.16,240.10 1645.17,239.60 1645.18,239.10 1645.18,238.60 1645.19,238.10 1645.19,237.60 1645.20,237.10 1645.20,236.60 1645.21,236.10 1645.22,235.60 1645.22,235.10 1645.23,234.60 1645.23,234.10 1645.24,233.60 1645.24,233.10 1645.25,232.60 1645.25,232.10 1645.26,231.60 1645.26,231.10 1645.27,230.60 1645.28,230.10 1645.28,229.60 1645.29,229.10 1645.29,228.60 1645.30,228.10 1645.30,227.60 1645.31,227.10 1645.31,226.60 1645.32,226.10 1645.32,225.60 1645.33,225.10 1645.33,224.60 1645.34,224.10 1645.34,223.60 1645.35,223.10 1645.35,222.60 1645.36,222.10 1645.36,221.60 1645.37,221.10 1645.37,220.60 1645.38,220.10 1645.38,219.60 1645.39,219.10 1645.39,218.60 1645.40,218.10 1645.40,217.60 1645.41,217.10 1645.41,216.60 1645.42,216.10 1645.42,215.60 1645.43,215.10 1645.43,214.60 1645.44,214.10 1645.44,213.60 1645.45,213.10 1645.45,212.60 1645.45,212.10 1645.45,211.60 1645.45,211.10 1645.45,210.60 1645.45,210.10 1645.45,209.60 1645.45,209.10 1645.45,208.60 1645.45,208.10 1645.45,207.60 1645.45,207.10 1645.45,206.60 1645.45,206.10 1645.45,205.60 1645.45,205.10 1645.45,204.60 1645.45,204.10 1645.45,203.60 1645.45,203.10 1645.45,202.60 1645.45,202.10 1645.45,201.60 1645.45,201.10 1645.45,200.60 1645.45,200.10 1645.45,199.60 1645.45,199.10 1645.45,198.60 1645.45,198.10 1645.45,197.60 1645.45,197.10 1645.45,196.60 1645.45,196.10 1645.45,195.60 1645.45,195.10 1645.45,194.60 1645.45,194.10 1645.45,193.60 1645.45,193.10 1645.45,192.60 1645.45,192.10 1645.45,191.60 1645.45,191.10 1645.45,190.60 1645.45,190.10 1645.45,189.60 1645.45,189.10 1645.45,188.60 1645.45,188.10 1645.45,187.60 1645.45,187.10 Z" fill="#b1cf8e" stroke="#505050" stroke-width="1.8" stroke-linejoin="round"/>
<line x1="1580.76" y1="328.30" x2="1710.24" y2="328.30" stroke="#505050" stroke-width="1.7" stroke-dasharray="4.5 4.5"/>
<line x1="1551.59" y1="335.30" x2="1739.41" y2="335.30" stroke="#505050" stroke-width="1.7" stroke-dasharray="9 9"/>
<line x1="1564.75" y1="341.10" x2="1726.25" y2="341.10" stroke="#505050" stroke-width="1.7" stroke-dasharray="4.5 4.5"/>
<text x="1615.3" y="334.4" class="s" font-size="13.3">m = 252.0</text>
<rect x="1288.5" y="33.0" width="476.0" height="354.3" fill="none" stroke="#d0d0d0" stroke-width="1.7"/>
</g>
<g>
<text x="276.5" y="489.5" text-anchor="middle" font-size="26.5">eeg_means</text>
<text x="27.1" y="809.5" class="s" text-anchor="end" font-size="13.4">1.0</text>
<text x="27.1" y="758.6" class="s" text-anchor="end" font-size="13.4">1.5</text>
<text x="27.1" y="707.7" class="s" text-anchor="end" font-size="13.4">2.0</text>
<text x="27.1" y="656.8" class="s" text-anchor="end" font-size="13.4">2.5</text>
<text x="27.1" y="605.9" class="s" text-anchor="end" font-size="13.4">3.0</text>
<text x="27.1" y="555.0" class="s" text-anchor="end" font-size="13.4">3.5</text>
<text x="27.1" y="504.1" class="s" text-anchor="end" font-size="13.4">4.0</text>
<text x="157.5" y="875.1" class="s" text-anchor="middle" font-size="13.4">NR</text>
<text x="395.5" y="875.1" class="s" text-anchor="middle" font-size="13.4">TSR</text>
<path d="M157.55,512.30 157.55,512.80 157.55,513.30 157.55,513.80 157.55,514.30 157.55,514.80 157.55,515.30 157.55,515.80 157.55,516.30 157.55,516.80 157.55,517.30 157.55,517.80 157.55,518.30 157.55,518.80 157.55,519.30 157.55,519.80 157.55,520.30 157.55,520.80 157.55,521.30 157.55,521.80 157.55,522.30 157.55,522.80 157.55,523.30 157.55,523.80 157.55,524.30 157.55,524.80 157.55,525.30 157.55,525.80 157.55,526.30 157.55,526.80 157.55,527.30 157.55,527.80 157.55,528.30 157.55,528.80 157.55,529.30 157.55,529.80 157.55,530.30 157.55,530.80 157.55,531.30 157.55,531.80 157.55,532.30 157.56,532.80 157.57,533.30 157.58,533.80 157.59,534.30 157.60,534.80 157.61,535.30 157.62,535.80 157.63,536.30 157.64,536.80 157.65,537.30 157.66,537.80 157.67,538.30 157.68,538.80 157.69,539.30 157.70,539.80 157.71,540.30 157.72,540.80 157.73,541.30 157.75,541.80 157.76,542.30 157.77,542.80 157.78,543.30 157.79,543.80 157.80,544.30 157.81,544.80 157.83,545.30 157.84,545.80 157.85,546.30 157.86,546.80 157.88,547.30 157.89,547.80 157.91,548.30 157.92,548.80 157.94,549.30 157.96,549.80 157.98,550.30 158.00,550.80 158.02,551.30 158.04,551.80 158.07,552.30 158.10,552.80 158.13,553.30 158.17,553.80 158.20,554.30 158.24,554.80 158.27,555.30 158.31,555.80 158.35,556.30 158.38,556.80 158.42,557.30 158.46,557.80 158.50,558.30 158.54,558.80 158.58,559.30 158.61,559.80 158.65,560.30 158.69,560.80 158.73,561.30 158.77,561.80 158.81,562.30 158.85,562.80 158.89,563.30 158.93,563.80 158.97,564.30 159.02,564.80 159.06,565.30 159.11,565.80 159.16,566.30 159.22,566.80 159.27,567.30 159.33,567.80 159.39,568.30 159.46,568.80 159.52,569.30 159.57,569.80 159.64,570.30 159.71,570.80 159.78,571.30 159.86,571.80 159.94,572.30 160.03,572.80 160.13,573.30 160.22,573.80 160.32,574.30 160.42,574.80 160.52,575.30 160.63,575.80 160.73,576.30 160.83,576.80 160.94,577.30 161.04,577.80 161.14,578.30 161.24,578.80 161.34,579.30 161.44,579.80 161.55,580.30 161.65,580.80 161.76,581.30 161.86,581.80 161.97,582.30 162.08,582.80 162.20,583.30 162.31,583.80 162.43,584.30 162.56,584.80 162.68,585.30 162.81,585.80 162.95,586.30 163.09,586.80 163.23,587.30 163.38,587.80 163.54,588.30 163.70,588.80 163.88,589.30 164.06,589.80 164.24,590.30 164.44,590.80 164.63,591.30 164.83,591.80 165.03,592.30 165.24,592.80 165.45,593.30 165.66,593.80 165.87,594.30 166.08,594.80 166.29,595.30 166.49,595.80 166.70,596.30 166.90,596.80 167.11,597.30 167.31,597.80 167.52,598.30 167.73,598.80 167.93,599.30 168.14,599.80 168.35,600.30 168.57,600.80 168.78,601.30 169.00,601.80 169.23,602.30 169.45,602.80 169.68,603.30 169.92,603.80 170.16,604.30 170.40,604.80 170.65,605.30 170.91,605.80 171.19,606.30 171.48,606.80 171.79,607.30 172.11,607.80 172.44,608.30 172.77,608.80 173.11,609.30 173.45,609.80 173.78,610.30 174.11,610.80 174.43,611.30 174.74,611.80 175.04,612.30 175.33,612.80 175.59,613.30 175.84,613.80 176.06,614.30 176.26,614.80 176.47,615.30 176.67,615.80 176.88,616.30 177.08,616.80 177.27,617.30 177.46,617.80 177.65,618.30 177.82,618.80 177.99,619.30 178.15,619.80 178.30,620.30 178.43,620.80 178.56,621.30 178.66,621.80 178.75,622.30 178.83,622.80 178.88,623.30 178.92,623.80 178.96,624.30 179.00,624.80 179.03,625.30 179.06,625.80 179.09,626.30 179.12,626.80 179.15,627.30 179.18,627.80 179.20,628.30 179.22,628.80 179.24,629.30 179.26,629.80 179.27,630.30 179.28,630.80 179.29,631.30 179.30,631.80 179.30,632.30 179.30,632.80 179.30,633.30 179.30,633.80 179.30,634.30 179.30,634.80 179.30,635.30 179.30,635.80 179.30,636.30 179.30,636.80 179.30,637.30 179.30,637.80 179.30,638.30 179.32,638.80 179.34,639.30 179.38,639.80 179.43,640.30 179.49,640.80 179.55,641.30 179.62,641.80 179.70,642.30 179.78,642.80 179.86,643.30 179.95,643.80 180.04,644.30 180.14,644.80 180.26,645.30 180.39,645.80 180.54,646.30 180.71,646.80 180.88,647.30 181.07,647.80 181.27,648.30 181.47,648.80 181.68,649.30 181.90,649.80 182.12,650.30 182.35,650.80 182.58,651.30 182.81,651.80 183.04,652.30 183.27,652.80 183.49,653.30 183.72,653.80 183.96,654.30 184.21,654.80 184.46,655.30 184.72,655.80 184.99,656.30 185.26,656.80 185.54,657.30 185.82,657.80 186.10,658.30 186.39,658.80 186.68,659.30 186.97,659.80 187.27,660.30 187.57,660.80 187.86,661.30 188.16,661.80 188.46,662.30 188.76,662.80 189.07,663.30 189.37,663.80 189.69,664.30 190.00,664.80 190.32,665.30 190.65,665.80 190.97,666.30 191.30,666.80 191.63,667.30 191.96,667.80 192.29,668.30 192.62,668.80 192.96,669.30 193.29,669.80 193.63,670.30 193.96,670.80 194.30,671.30 194.64,671.80 194.97,672.30 195.31,672.80 195.65,673.30 196.00,673.80 196.34,674.30 196.69,674.80 197.03,675.30 197.38,675.80 197.73,676.30 198.08,676.80 198.43,677.30 198.78,677.80 199.13,678.30 199.48,678.80 199.83,679.30 200.18,679.80 200.53,680.30 200.88,680.80 201.23,681.30 201.58,681.80 201.93,682.30 202.27,682.80 202.62,683.30 202.97,683.80 203.32,684.30 203.67,684.80 204.02,685.30 204.38,685.80 204.73,686.30 205.09,686.80 205.45,687.30 205.81,687.80 206.18,688.30 206.55,688.80 206.92,689.30 207.31,689.80 207.70,690.30 208.10,690.80 208.51,691.30 208.93,691.80 209.35,692.30 209.77,692.80 210.20,693.30 210.62,693.80 211.04,694.30 211.46,694.80 211.88,695.30 212.29,695.80 212.69,696.30 213.08,696.80 213.45,697.30 213.82,697.80 214.17,698.30 214.50,698.80 214.84,699.30 215.17,699.80 215.51,700.30 215.84,700.80 216.18,701.30 216.50,701.80 216.82,702.30 217.14,702.80 217.44,703.30 217.73,703.80 218.02,704.30 218.29,704.80 218.54,705.30 218.78,705.80 219.01,706.30 219.21,706.80 219.40,707.30 219.56,707.80 219.71,708.30 219.85,708.80 219.97,709.30 220.09,709.80 220.20,710.30 220.30,710.80 220.40,711.30 220.50,711.80 220.59,712.30 220.69,712.80 220.79,713.30 220.90,713.80 221.01,714.30 221.14,714.80 221.27,715.30 221.41,715.80 221.56,716.30 221.71,716.80 221.86,717.30 222.03,717.80 222.20,718.30 222.38,718.80 222.57,719.30 222.78,719.80 223.01,720.30 223.25,720.80 223.52,721.30 223.84,721.80 224.20,722.30 224.59,722.80 225.02,723.30 225.47,723.80 225.94,724.30 226.42,724.80 226.91,725.30 227.41,725.80 227.90,726.30 228.40,726.80 228.93,727.30 229.48,727.80 230.05,728.30 230.63,728.80 231.22,729.30 231.82,729.80 232.42,730.30 233.02,730.80 233.61,731.30 234.20,731.80 234.79,732.30 235.37,732.80 235.97,733.30 236.56,733.80 237.16,734.30 237.76,734.80 238.36,735.30 238.95,735.80 239.54,736.30 240.13,736.80 240.72,737.30 241.31,737.80 241.92,738.30 242.54,738.80 243.16,739.30 243.78,739.80 244.38,740.30 244.97,740.80 245.53,741.30 246.05,741.80 246.54,742.30 246.99,742.80 247.41,743.30 247.83,743.80 248.24,744.30 248.64,744.80 249.02,745.30 249.37,745.80 249.70,746.30 250.00,746.80 250.26,747.30 250.49,747.80 250.67,748.30 250.85,748.80 251.02,749.30 251.18,749.80 251.34,750.30 251.48,750.80 251.61,751.30 251.71,751.80 251.80,752.30 251.86,752.80 251.89,753.30 251.90,753.80 251.88,754.30 251.84,754.80 251.78,755.30 251.71,755.80 251.63,756.30 251.53,756.80 251.42,757.30 251.30,757.80 251.18,758.30 251.05,758.80 250.91,759.30 250.74,759.80 250.52,760.30 250.26,760.80 249.98,761.30 249.66,761.80 249.32,762.30 248.95,762.80 248.56,763.30 248.16,763.80 247.74,764.30 247.31,764.80 246.88,765.30 246.44,765.80 246.00,766.30 245.55,766.80 245.07,767.30 244.55,767.80 244.02,768.30 243.45,768.80 242.86,769.30 242.25,769.80 241.61,770.30 240.95,770.80 240.26,771.30 239.56,771.80 238.79,772.30 237.97,772.80 237.08,773.30 236.16,773.80 235.21,774.30 234.24,774.80 233.26,775.30 232.29,775.80 231.33,776.30 230.41,776.80 229.53,777.30 228.69,777.80 227.88,778.30 227.07,778.80 226.24,779.30 225.37,779.80 224.41,780.30 223.35,780.80 222.23,781.30 221.12,781.80 220.07,782.30 219.15,782.80 218.31,783.30 217.54,783.80 216.81,784.30 216.09,784.80 215.38,785.30 214.64,785.80 213.85,786.30 213.00,786.80 212.08,787.30 211.12,787.80 210.11,788.30 209.06,788.80 207.99,789.30 206.88,789.80 205.76,790.30 204.62,790.80 203.47,791.30 202.32,791.80 201.16,792.30 200.01,792.80 198.88,793.30 197.75,793.80 196.61,794.30 195.45,794.80 194.27,795.30 193.08,795.80 191.89,796.30 190.69,796.80 189.50,797.30 188.32,797.80 187.15,798.30 186.00,798.80 184.88,799.30 183.78,799.80 182.71,800.30 181.66,800.80 180.61,801.30 179.57,801.80 178.52,802.30 177.49,802.80 176.47,803.30 175.47,803.80 174.49,804.30 173.55,804.80 172.64,805.30 171.77,805.80 170.95,806.30 170.18,806.80 169.46,807.30 168.77,807.80 168.10,808.30 167.43,808.80 166.79,809.30 166.17,809.80 165.57,810.30 165.00,810.80 164.45,811.30 163.94,811.80 163.46,812.30 163.01,812.80 162.60,813.30 162.24,813.80 161.90,814.30 161.58,814.80 161.27,815.30 160.98,815.80 160.69,816.30 160.42,816.80 160.16,817.30 159.92,817.80 159.70,818.30 159.50,818.80 159.23,819.30 159.00,819.80 158.80,820.30 158.63,820.80 158.49,821.30 158.36,821.80 158.24,822.30 158.13,822.80 158.04,823.30 157.98,823.80 157.92,824.30 157.86,824.80 157.81,825.30 157.75,825.80 157.70,826.30 157.64,826.80 157.59,827.30 157.55,827.80 157.55,828.30 157.55,828.80 157.55,829.30 157.55,829.80 157.55,830.30 157.55,830.80 157.55,831.30 157.55,831.80 157.55,832.00 L157.45,832.00 157.45,831.80 157.45,831.30 157.45,830.80 157.45,830.30 157.45,829.80 157.45,829.30 157.45,828.80 157.45,828.30 157.45,827.80 157.41,827.30 157.36,826.80 157.30,826.30 157.25,825.80 157.19,825.30 157.14,824.80 157.08,824.30 157.02,823.80 156.96,823.30 156.87,822.80 156.76,822.30 156.64,821.80 156.51,821.30 156.37,820.80 156.20,820.30 156.00,819.80 155.77,819.30 155.50,818.80 155.30,818.30 155.08,817.80 154.84,817.30 154.58,816.80 154.31,816.30 154.02,815.80 153.73,815.30 153.42,814.80 153.10,814.30 152.76,813.80 152.40,813.30 151.99,812.80 151.54,812.30 151.06,811.80 150.55,811.30 150.00,810.80 149.43,810.30 148.83,809.80 148.21,809.30 147.57,808.80 146.90,808.30 146.23,807.80 145.54,807.30 144.82,806.80 144.05,806.30 143.23,805.80 142.36,805.30 141.45,804.80 140.51,804.30 139.53,803.80 138.53,803.30 137.51,802.80 136.48,802.30 135.43,801.80 134.39,801.30 133.34,800.80 132.29,800.30 131.22,799.80 130.12,799.30 129.00,798.80 127.85,798.30 126.68,797.80 125.50,797.30 124.31,796.80 123.11,796.30 121.92,795.80 120.73,795.30 119.55,794.80 118.39,794.30 117.25,793.80 116.12,793.30 114.99,792.80 113.84,792.30 112.68,791.80 111.53,791.30 110.38,790.80 109.24,790.30 108.12,789.80 107.01,789.30 105.94,788.80 104.89,788.30 103.88,787.80 102.92,787.30 102.00,786.80 101.15,786.30 100.36,785.80 99.62,785.30 98.91,784.80 98.19,784.30 97.46,783.80 96.69,783.30 95.85,782.80 94.93,782.30 93.88,781.80 92.77,781.30 91.65,780.80 90.59,780.30 89.63,779.80 88.76,779.30 87.93,778.80 87.12,778.30 86.31,777.80 85.47,777.30 84.59,776.80 83.67,776.30 82.71,775.80 81.74,775.30 80.76,774.80 79.79,774.30 78.84,773.80 77.92,773.30 77.03,772.80 76.21,772.30 75.44,771.80 74.74,771.30 74.05,770.80 73.39,770.30 72.75,769.80 72.14,769.30 71.55,768.80 70.98,768.30 70.45,767.80 69.93,767.30 69.45,766.80 69.00,766.30 68.56,765.80 68.12,765.30 67.69,764.80 67.26,764.30 66.84,763.80 66.44,763.30 66.05,762.80 65.68,762.30 65.34,761.80 65.02,761.30 64.74,760.80 64.48,760.30 64.26,759.80 64.09,759.30 63.95,758.80 63.82,758.30 63.70,757.80 63.58,757.30 63.47,756.80 63.37,756.30 63.29,755.80 63.22,755.30 63.16,754.80 63.12,754.30 63.10,753.80 63.11,753.30 63.14,752.80 63.20,752.30 63.29,751.80 63.39,751.30 63.52,750.80 63.66,750.30 63.82,749.80 63.98,749.30 64.15,748.80 64.33,748.30 64.51,747.80 64.74,747.30 65.00,746.80 65.30,746.30 65.63,745.80 65.98,745.30 66.36,744.80 66.76,744.30 67.17,743.80 67.59,743.30 68.01,742.80 68.46,742.30 68.95,741.80 69.47,741.30 70.03,740.80 70.62,740.30 71.22,739.80 71.84,739.30 72.46,738.80 73.08,738.30 73.69,737.80 74.28,737.30 74.87,736.80 75.46,736.30 76.05,735.80 76.64,735.30 77.24,734.80 77.84,734.30 78.44,733.80 79.03,733.30 79.63,732.80 80.21,732.30 80.80,731.80 81.39,731.30 81.98,730.80 82.58,730.30 83.18,729.80 83.78,729.30 84.37,728.80 84.95,728.30 85.52,727.80 86.07,727.30 86.60,726.80 87.10,726.30 87.59,725.80 88.09,725.30 88.58,724.80 89.06,724.30 89.53,723.80 89.98,723.30 90.41,722.80 90.80,722.30 91.16,721.80 91.48,721.30 91.75,720.80 91.99,720.30 92.22,719.80 92.43,719.30 92.62,718.80 92.80,718.30 92.97,717.80 93.14,717.30 93.29,716.80 93.44,716.30 93.59,715.80 93.73,715.30 93.86,714.80 93.99,714.30 94.10,713.80 94.21,713.30 94.31,712.80 94.41,712.30 94.50,711.80 94.60,711.30 94.70,710.80 94.80,710.30 94.91,709.80 95.03,709.30 95.15,708.80 95.29,708.30 95.44,707.80 95.60,707.30 95.79,706.80 95.99,706.30 96.22,705.80 96.46,705.30 96.71,704.80 96.98,704.30 97.27,703.80 97.56,703.30 97.86,702.80 98.18,702.30 98.50,701.80 98.82,701.30 99.16,700.80 99.49,700.30 99.83,699.80 100.16,699.30 100.50,698.80 100.83,698.30 101.18,697.80 101.55,697.30 101.92,696.80 102.31,696.30 102.71,695.80 103.12,695.30 103.54,694.80 103.96,694.30 104.38,693.80 104.80,693.30 105.23,692.80 105.65,692.30 106.07,691.80 106.49,691.30 106.90,690.80 107.30,690.30 107.69,689.80 108.08,689.30 108.45,688.80 108.82,688.30 109.19,687.80 109.55,687.30 109.91,686.80 110.27,686.30 110.62,685.80 110.98,685.30 111.33,684.80 111.68,684.30 112.03,683.80 112.38,683.30 112.73,682.80 113.07,682.30 113.42,681.80 113.77,681.30 114.12,680.80 114.47,680.30 114.82,679.80 115.17,679.30 115.52,678.80 115.87,678.30 116.22,677.80 116.57,677.30 116.92,676.80 117.27,676.30 117.62,675.80 117.97,675.30 118.31,674.80 118.66,674.30 119.00,673.80 119.35,673.30 119.69,672.80 120.03,672.30 120.36,671.80 120.70,671.30 121.04,670.80 121.37,670.30 121.71,669.80 122.04,669.30 122.38,668.80 122.71,668.30 123.04,667.80 123.37,667.30 123.70,666.80 124.03,666.30 124.35,665.80 124.68,665.30 125.00,664.80 125.31,664.30 125.63,663.80 125.93,663.30 126.24,662.80 126.54,662.30 126.84,661.80 127.14,661.30 127.43,660.80 127.73,660.30 128.03,659.80 128.32,659.30 128.61,658.80 128.90,658.30 129.18,657.80 129.46,657.30 129.74,656.80 130.01,656.30 130.28,655.80 130.54,655.30 130.79,654.80 131.04,654.30 131.28,653.80 131.51,653.30 131.73,652.80 131.96,652.30 132.19,651.80 132.42,651.30 132.65,650.80 132.88,650.30 133.10,649.80 133.32,649.30 133.53,648.80 133.73,648.30 133.93,647.80 134.12,647.30 134.29,646.80 134.46,646.30 134.61,645.80 134.74,645.30 134.86,644.80 134.96,644.30 135.05,643.80 135.14,643.30 135.22,642.80 135.30,642.30 135.38,641.80 135.45,641.30 135.51,640.80 135.57,640.30 135.62,639.80 135.66,639.30 135.68,638.80 135.70,638.30 135.70,637.80 135.70,637.30 135.70,636.80 135.70,636.30 135.70,635.80 135.70,635.30 135.70,634.80 135.70,634.30 135.70,633.80 135.70,633.30 135.70,632.80 135.70,632.30 135.70,631.80 135.71,631.30 135.72,630.80 135.73,630.30 135.74,629.80 135.76,629.30 135.78,628.80 135.80,628.30 135.82,627.80 135.85,627.30 135.88,626.80 135.91,626.30 135.94,625.80 135.97,625.30 136.00,624.80 136.04,624.30 136.08,623.80 136.12,623.30 136.17,622.80 136.25,622.30 136.34,621.80 136.44,621.30 136.57,620.80 136.70,620.30 136.85,619.80 137.01,619.30 137.18,618.80 137.35,618.30 137.54,617.80 137.73,617.30 137.92,616.80 138.12,616.30 138.33,615.80 138.53,615.30 138.74,614.80 138.94,614.30 139.16,613.80 139.41,613.30 139.67,612.80 139.96,612.30 140.26,611.80 140.57,611.30 140.89,610.80 141.22,610.30 141.55,609.80 141.89,609.30 142.23,608.80 142.56,608.30 142.89,607.80 143.21,607.30 143.52,606.80 143.81,606.30 144.09,605.80 144.35,605.30 144.60,604.80 144.84,604.30 145.08,603.80 145.32,603.30 145.55,602.80 145.77,602.30 146.00,601.80 146.22,601.30 146.43,600.80 146.65,600.30 146.86,599.80 147.07,599.30 147.27,598.80 147.48,598.30 147.69,597.80 147.89,597.30 148.10,596.80 148.30,596.30 148.51,595.80 148.71,595.30 148.92,594.80 149.13,594.30 149.34,593.80 149.55,593.30 149.76,592.80 149.97,592.30 150.17,591.80 150.37,591.30 150.56,590.80 150.76,590.30 150.94,589.80 151.12,589.30 151.30,588.80 151.46,588.30 151.62,587.80 151.77,587.30 151.91,586.80 152.05,586.30 152.19,585.80 152.32,585.30 152.44,584.80 152.57,584.30 152.69,583.80 152.80,583.30 152.92,582.80 153.03,582.30 153.14,581.80 153.24,581.30 153.35,580.80 153.45,580.30 153.56,579.80 153.66,579.30 153.76,578.80 153.86,578.30 153.96,577.80 154.06,577.30 154.17,576.80 154.27,576.30 154.37,575.80 154.48,575.30 154.58,574.80 154.68,574.30 154.78,573.80 154.87,573.30 154.97,572.80 155.06,572.30 155.14,571.80 155.22,571.30 155.29,570.80 155.36,570.30 155.43,569.80 155.48,569.30 155.54,568.80 155.61,568.30 155.67,567.80 155.73,567.30 155.78,566.80 155.84,566.30 155.89,565.80 155.94,565.30 155.98,564.80 156.03,564.30 156.07,563.80 156.11,563.30 156.15,562.80 156.19,562.30 156.23,561.80 156.27,561.30 156.31,560.80 156.35,560.30 156.39,559.80 156.42,559.30 156.46,558.80 156.50,558.30 156.54,557.80 156.58,557.30 156.62,556.80 156.65,556.30 156.69,555.80 156.73,555.30 156.76,554.80 156.80,554.30 156.83,553.80 156.87,553.30 156.90,552.80 156.93,552.30 156.96,551.80 156.98,551.30 157.00,550.80 157.02,550.30 157.04,549.80 157.06,549.30 157.08,548.80 157.09,548.30 157.11,547.80 157.12,547.30 157.14,546.80 157.15,546.30 157.16,545.80 157.17,545.30 157.19,544.80 157.20,544.30 157.21,543.80 157.22,543.30 157.23,542.80 157.24,542.30 157.25,541.80 157.27,541.30 157.28,540.80 157.29,540.30 157.30,539.80 157.31,539.30 157.32,538.80 157.33,538.30 157.34,537.80 157.35,537.30 157.36,536.80 157.37,536.30 157.38,535.80 157.39,535.30 157.40,534.80 157.41,534.30 157.42,533.80 157.43,533.30 157.44,532.80 157.45,532.30 157.45,531.80 157.45,531.30 157.45,530.80 157.45,530.30 157.45,529.80 157.45,529.30 157.45,528.80 157.45,528.30 157.45,527.80 157.45,527.30 157.45,526.80 157.45,526.30 157.45,525.80 157.45,525.30 157.45,524.80 157.45,524.30 157.45,523.80 157.45,523.30 157.45,522.80 157.45,522.30 157.45,521.80 157.45,521.30 157.45,520.80 157.45,520.30 157.45,519.80 157.45,519.30 157.45,518.80 157.45,518.30 157.45,517.80 157.45,517.30 157.45,516.80 157.45,516.30 157.45,515.80 157.45,515.30 157.45,514.80 157.45,514.30 157.45,513.80 157.45,513.30 157.45,512.80 157.45,512.30 Z" fill="#5199b5" stroke="#505050" stroke-width="1.8" stroke-linejoin="round"/>
<line x1="106.16" y1="691.70" x2="208.84" y2="691.70" stroke="#505050" stroke-width="1.7" stroke-dasharray="4.5 4.5"/>
<line x1="78.20" y1="734.00" x2="236.80" y2="734.00" stroke="#505050" stroke-width="1.7" stroke-dasharray="9 9"/>
<line x1="65.83" y1="762.50" x2="249.17" y2="762.50" stroke="#505050" stroke-width="1.7" stroke-dasharray="4.5 4.5"/>
<text x="128.3" y="728.0" class="s" font-size="13.3">m = 1.7</text>
<path d="M395.55,529.60 395.55,530.10 395.55,530.60 395.55,531.10 395.55,531.60 395.55,532.10 395.55,532.60 395.55,533.10 395.55,533.60 395.55,534.10 395.55,534.60 395.55,535.10 395.55,535.60 395.55,536.10 395.55,536.60 395.55,537.10 395.55,537.60 395.55,538.10 395.55,538.60 395.55,539.10 395.55,539.60 395.55,540.10 395.55,540.60 395.55,541.10 395.55,541.60 395.55,542.10 395.55,542.60 395.55,543.10 395.55,543.60 395.55,544.10 395.55,544.60 395.55,545.10 395.55,545.60 395.55,546.10 395.55,546.60 395.55,547.10 395.55,547.60 395.55,548.10 395.55,548.60 395.55,549.10 395.55,549.60 395.55,550.10 395.55,550.60 395.55,551.10 395.55,551.60 395.55,552.10 395.55,552.60 395.55,553.10 395.55,553.60 395.55,554.10 395.55,554.60 395.55,555.10 395.55,555.60 395.55,556.10 395.55,556.60 395.55,557.10 395.55,557.60 395.55,558.10 395.55,558.60 395.55,559.10 395.55,559.60 395.55,560.10 395.56,560.60 395.56,561.10 395.57,561.60 395.58,562.10 395.58,562.60 395.59,563.10 395.60,563.60 395.61,564.10 395.61,564.60 395.62,565.10 395.63,565.60 395.64,566.10 395.66,566.60 395.67,567.10 395.68,567.60 395.69,568.10 395.71,568.60 395.72,569.10 395.74,569.60 395.75,570.10 395.77,570.60 395.80,571.10 395.83,571.60 395.86,572.10 395.89,572.60 395.93,573.10 395.97,573.60 396.02,574.10 396.07,574.60 396.14,575.10 396.22,575.60 396.29,576.10 396.37,576.60 396.45,577.10 396.53,577.60 396.61,578.10 396.69,578.60 396.77,579.10 396.86,579.60 396.95,580.10 397.04,580.60 397.13,581.10 397.23,581.60 397.34,582.10 397.44,582.60 397.54,583.10 397.61,583.60 397.69,584.10 397.78,584.60 397.86,585.10 397.95,585.60 398.03,586.10 398.12,586.60 398.21,587.10 398.31,587.60 398.40,588.10 398.50,588.60 398.59,589.10 398.69,589.60 398.79,590.10 398.90,590.60 399.01,591.10 399.12,591.60 399.23,592.10 399.35,592.60 399.47,593.10 399.59,593.60 399.72,594.10 399.85,594.60 399.98,595.10 400.12,595.60 400.27,596.10 400.41,596.60 400.57,597.10 400.73,597.60 400.90,598.10 401.09,598.60 401.28,599.10 401.49,599.60 401.70,600.10 401.92,600.60 402.15,601.10 402.38,601.60 402.62,602.10 402.86,602.60 403.11,603.10 403.35,603.60 403.60,604.10 403.85,604.60 404.10,605.10 404.35,605.60 404.60,606.10 404.85,606.60 405.10,607.10 405.35,607.60 405.61,608.10 405.87,608.60 406.14,609.10 406.41,609.60 406.68,610.10 406.95,610.60 407.22,611.10 407.50,611.60 407.78,612.10 408.05,612.60 408.33,613.10 408.61,613.60 408.88,614.10 409.16,614.60 409.44,615.10 409.71,615.60 409.99,616.10 410.29,616.60 410.59,617.10 410.90,617.60 411.21,618.10 411.52,618.60 411.83,619.10 412.14,619.60 412.45,620.10 412.74,620.60 413.04,621.10 413.32,621.60 413.58,622.10 413.84,622.60 414.07,623.10 414.29,623.60 414.49,624.10 414.67,624.60 414.84,625.10 415.01,625.60 415.18,626.10 415.35,626.60 415.51,627.10 415.67,627.60 415.82,628.10 415.96,628.60 416.10,629.10 416.23,629.60 416.35,630.10 416.47,630.60 416.57,631.10 416.66,631.60 416.74,632.10 416.81,632.60 416.87,633.10 416.91,633.60 416.94,634.10 416.97,634.60 417.00,635.10 417.03,635.60 417.06,636.10 417.08,636.60 417.10,637.10 417.12,637.60 417.14,638.10 417.16,638.60 417.17,639.10 417.19,639.60 417.21,640.10 417.22,640.60 417.24,641.10 417.26,641.60 417.28,642.10 417.30,642.60 417.32,643.10 417.34,643.60 417.36,644.10 417.37,644.60 417.39,645.10 417.41,645.60 417.42,646.10 417.44,646.60 417.46,647.10 417.48,647.60 417.50,648.10 417.52,648.60 417.55,649.10 417.58,649.60 417.61,650.10 417.66,650.60 417.71,651.10 417.78,651.60 417.85,652.10 417.93,652.60 418.02,653.10 418.11,653.60 418.20,654.10 418.30,654.60 418.41,655.10 418.53,655.60 418.65,656.10 418.79,656.60 418.93,657.10 419.08,657.60 419.24,658.10 419.40,658.60 419.57,659.10 419.74,659.60 419.91,660.10 420.09,660.60 420.27,661.10 420.45,661.60 420.63,662.10 420.82,662.60 421.00,663.10 421.18,663.60 421.37,664.10 421.56,664.60 421.75,665.10 421.95,665.60 422.15,666.10 422.35,666.60 422.56,667.10 422.78,667.60 423.00,668.10 423.22,668.60 423.45,669.10 423.68,669.60 423.92,670.10 424.17,670.60 424.42,671.10 424.68,671.60 424.95,672.10 425.22,672.60 425.50,673.10 425.80,673.60 426.10,674.10 426.42,674.60 426.74,675.10 427.08,675.60 427.42,676.10 427.77,676.60 428.13,677.10 428.49,677.60 428.87,678.10 429.25,678.60 429.63,679.10 430.02,679.60 430.42,680.10 430.83,680.60 431.24,681.10 431.65,681.60 432.08,682.10 432.53,682.60 432.98,683.10 433.46,683.60 433.94,684.10 434.43,684.60 434.93,685.10 435.44,685.60 435.96,686.10 436.48,686.60 437.00,687.10 437.53,687.60 438.06,688.10 438.59,688.60 439.13,689.10 439.66,689.60 440.18,690.10 440.71,690.60 441.25,691.10 441.80,691.60 442.36,692.10 442.93,692.60 443.51,693.10 444.09,693.60 444.67,694.10 445.25,694.60 445.83,695.10 446.41,695.60 446.98,696.10 447.54,696.60 448.09,697.10 448.62,697.60 449.14,698.10 449.64,698.60 450.12,699.10 450.58,699.60 451.00,700.10 451.41,700.60 451.79,701.10 452.18,701.60 452.58,702.10 453.00,702.60 453.46,703.10 453.95,703.60 454.48,704.10 455.02,704.60 455.56,705.10 456.10,705.60 456.63,706.10 457.13,706.60 457.59,707.10 458.01,707.60 458.36,708.10 458.65,708.60 458.91,709.10 459.16,709.60 459.39,710.10 459.62,710.60 459.83,711.10 460.04,711.60 460.24,712.10 460.42,712.60 460.60,713.10 460.77,713.60 460.92,714.10 461.07,714.60 461.21,715.10 461.35,715.60 461.47,716.10 461.59,716.60 461.70,717.10 461.80,717.60 461.89,718.10 461.97,718.60 462.04,719.10 462.10,719.60 462.15,720.10 462.21,720.60 462.26,721.10 462.31,721.60 462.37,722.10 462.44,722.60 462.52,723.10 462.62,723.60 462.72,724.10 462.86,724.60 463.03,725.10 463.23,725.60 463.47,726.10 463.73,726.60 464.01,727.10 464.32,727.60 464.65,728.10 465.00,728.60 465.37,729.10 465.75,729.60 466.14,730.10 466.55,730.60 466.98,731.10 467.48,731.60 468.07,732.10 468.72,732.60 469.42,733.10 470.15,733.60 470.90,734.10 471.65,734.60 472.39,735.10 473.10,735.60 473.75,736.10 474.36,736.60 474.93,737.10 475.49,737.60 476.03,738.10 476.57,738.60 477.10,739.10 477.63,739.60 478.16,740.10 478.71,740.60 479.27,741.10 479.86,741.60 480.51,742.10 481.20,742.60 481.92,743.10 482.65,743.60 483.38,744.10 484.08,744.60 484.74,745.10 485.35,745.60 485.88,746.10 486.32,746.60 486.65,747.10 486.89,747.60 487.13,748.10 487.36,748.60 487.57,749.10 487.76,749.60 487.94,750.10 488.09,750.60 488.21,751.10 488.31,751.60 488.37,752.10 488.40,752.60 488.39,753.10 488.34,753.60 488.27,754.10 488.17,754.60 488.06,755.10 487.92,755.60 487.78,756.10 487.63,756.60 487.48,757.10 487.34,757.60 487.20,758.10 487.06,758.60 486.89,759.10 486.71,759.60 486.52,760.10 486.33,760.60 486.14,761.10 485.95,761.60 485.78,762.10 485.63,762.60 485.50,763.10 485.40,763.60 485.32,764.10 485.26,764.60 485.20,765.10 485.15,765.60 485.11,766.10 485.07,766.60 485.03,767.10 484.98,767.60 484.94,768.10 484.88,768.60 484.82,769.10 484.75,769.60 484.66,770.10 484.56,770.60 484.43,771.10 484.29,771.60 484.13,772.10 483.95,772.60 483.76,773.10 483.55,773.60 483.33,774.10 483.09,774.60 482.84,775.10 482.58,775.60 482.31,776.10 482.02,776.60 481.70,777.10 481.33,777.60 480.92,778.10 480.47,778.60 479.98,779.10 479.45,779.60 478.88,780.10 478.21,780.60 477.44,781.10 476.57,781.60 475.65,782.10 474.70,782.60 473.75,783.10 472.81,783.60 471.87,784.10 470.89,784.60 469.90,785.10 468.88,785.60 467.86,786.10 466.82,786.60 465.79,787.10 464.77,787.60 463.74,788.10 462.70,788.60 461.67,789.10 460.62,789.60 459.57,790.10 458.51,790.60 457.44,791.10 456.35,791.60 455.25,792.10 454.14,792.60 453.00,793.10 451.84,793.60 450.64,794.10 449.42,794.60 448.18,795.10 446.92,795.60 445.65,796.10 444.37,796.60 443.09,797.10 441.80,797.60 440.52,798.10 439.25,798.60 437.99,799.10 436.74,799.60 435.52,800.10 434.32,800.60 433.13,801.10 431.94,801.60 430.76,802.10 429.58,802.60 428.41,803.10 427.25,803.60 426.10,804.10 424.95,804.60 423.82,805.10 422.70,805.60 421.59,806.10 420.49,806.60 419.41,807.10 418.34,807.60 417.24,808.10 416.13,808.60 415.01,809.10 413.90,809.60 412.80,810.10 411.72,810.60 410.67,811.10 409.66,811.60 408.69,812.10 407.78,812.60 406.93,813.10 406.16,813.60 405.47,814.10 404.81,814.60 404.17,815.10 403.55,815.60 402.95,816.10 402.38,816.60 401.83,817.10 401.31,817.60 400.82,818.10 400.36,818.60 399.94,819.10 399.55,819.60 399.21,820.10 398.91,820.60 398.65,821.10 398.40,821.60 398.16,822.10 397.94,822.60 397.73,823.10 397.53,823.60 397.27,824.10 397.02,824.60 396.78,825.10 396.57,825.60 396.37,826.10 396.20,826.60 396.04,827.10 395.95,827.60 395.86,828.10 395.78,828.60 395.69,829.10 395.61,829.60 395.55,830.10 395.55,830.60 395.55,831.10 395.55,831.60 395.55,832.10 395.55,832.60 395.55,833.10 395.55,833.60 395.55,834.10 395.55,834.60 395.55,835.10 395.55,835.50 L395.45,835.50 395.45,835.10 395.45,834.60 395.45,834.10 395.45,833.60 395.45,833.10 395.45,832.60 395.45,832.10 395.45,831.60 395.45,831.10 395.45,830.60 395.45,830.10 395.39,829.60 395.31,829.10 395.22,828.60 395.14,828.10 395.05,827.60 394.96,827.10 394.80,826.60 394.63,826.10 394.43,825.60 394.22,825.10 393.98,824.60 393.73,824.10 393.47,823.60 393.27,823.10 393.06,822.60 392.84,822.10 392.60,821.60 392.35,821.10 392.09,820.60 391.79,820.10 391.45,819.60 391.06,819.10 390.64,818.60 390.18,818.10 389.69,817.60 389.17,817.10 388.62,816.60 388.05,816.10 387.45,815.60 386.83,815.10 386.19,814.60 385.53,814.10 384.84,813.60 384.07,813.10 383.22,812.60 382.31,812.10 381.34,811.60 380.33,811.10 379.28,810.60 378.20,810.10 377.10,809.60 375.99,809.10 374.87,808.60 373.76,808.10 372.66,807.60 371.59,807.10 370.51,806.60 369.41,806.10 368.30,805.60 367.18,805.10 366.05,804.60 364.90,804.10 363.75,803.60 362.59,803.10 361.42,802.60 360.24,802.10 359.06,801.60 357.87,801.10 356.68,800.60 355.48,800.10 354.26,799.60 353.01,799.10 351.75,798.60 350.48,798.10 349.20,797.60 347.91,797.10 346.63,796.60 345.35,796.10 344.08,795.60 342.82,795.10 341.58,794.60 340.36,794.10 339.16,793.60 338.00,793.10 336.86,792.60 335.75,792.10 334.65,791.60 333.56,791.10 332.49,790.60 331.43,790.10 330.38,789.60 329.33,789.10 328.30,788.60 327.26,788.10 326.23,787.60 325.21,787.10 324.18,786.60 323.14,786.10 322.12,785.60 321.10,785.10 320.11,784.60 319.13,784.10 318.19,783.60 317.25,783.10 316.30,782.60 315.35,782.10 314.43,781.60 313.56,781.10 312.79,780.60 312.12,780.10 311.55,779.60 311.02,779.10 310.53,778.60 310.08,778.10 309.67,777.60 309.30,777.10 308.98,776.60 308.69,776.10 308.42,775.60 308.16,775.10 307.91,774.60 307.67,774.10 307.45,773.60 307.24,773.10 307.05,772.60 306.87,772.10 306.71,771.60 306.57,771.10 306.44,770.60 306.34,770.10 306.25,769.60 306.18,769.10 306.12,768.60 306.06,768.10 306.02,767.60 305.97,767.10 305.93,766.60 305.89,766.10 305.85,765.60 305.80,765.10 305.74,764.60 305.68,764.10 305.60,763.60 305.50,763.10 305.37,762.60 305.22,762.10 305.05,761.60 304.86,761.10 304.67,760.60 304.48,760.10 304.29,759.60 304.11,759.10 303.94,758.60 303.80,758.10 303.66,757.60 303.52,757.10 303.37,756.60 303.22,756.10 303.08,755.60 302.94,755.10 302.83,754.60 302.73,754.10 302.66,753.60 302.61,753.10 302.60,752.60 302.63,752.10 302.69,751.60 302.79,751.10 302.91,750.60 303.06,750.10 303.24,749.60 303.43,749.10 303.64,748.60 303.87,748.10 304.11,747.60 304.35,747.10 304.68,746.60 305.12,746.10 305.65,745.60 306.26,745.10 306.92,744.60 307.62,744.10 308.35,743.60 309.08,743.10 309.80,742.60 310.49,742.10 311.14,741.60 311.73,741.10 312.29,740.60 312.84,740.10 313.37,739.60 313.90,739.10 314.43,738.60 314.97,738.10 315.51,737.60 316.07,737.10 316.64,736.60 317.25,736.10 317.90,735.60 318.61,735.10 319.35,734.60 320.10,734.10 320.85,733.60 321.58,733.10 322.28,732.60 322.93,732.10 323.52,731.60 324.02,731.10 324.45,730.60 324.86,730.10 325.25,729.60 325.63,729.10 326.00,728.60 326.35,728.10 326.68,727.60 326.99,727.10 327.27,726.60 327.53,726.10 327.77,725.60 327.97,725.10 328.14,724.60 328.28,724.10 328.38,723.60 328.48,723.10 328.56,722.60 328.63,722.10 328.69,721.60 328.74,721.10 328.79,720.60 328.85,720.10 328.90,719.60 328.96,719.10 329.03,718.60 329.11,718.10 329.20,717.60 329.30,717.10 329.41,716.60 329.53,716.10 329.65,715.60 329.79,715.10 329.93,714.60 330.08,714.10 330.23,713.60 330.40,713.10 330.58,712.60 330.76,712.10 330.96,711.60 331.17,711.10 331.38,710.60 331.61,710.10 331.84,709.60 332.09,709.10 332.35,708.60 332.64,708.10 332.99,707.60 333.41,707.10 333.87,706.60 334.37,706.10 334.90,705.60 335.44,705.10 335.98,704.60 336.52,704.10 337.05,703.60 337.54,703.10 338.00,702.60 338.42,702.10 338.82,701.60 339.21,701.10 339.59,700.60 340.00,700.10 340.42,699.60 340.88,699.10 341.36,698.60 341.86,698.10 342.38,697.60 342.91,697.10 343.46,696.60 344.02,696.10 344.59,695.60 345.17,695.10 345.75,694.60 346.33,694.10 346.91,693.60 347.49,693.10 348.07,692.60 348.64,692.10 349.20,691.60 349.75,691.10 350.29,690.60 350.82,690.10 351.34,689.60 351.87,689.10 352.41,688.60 352.94,688.10 353.47,687.60 354.00,687.10 354.52,686.60 355.04,686.10 355.56,685.60 356.07,685.10 356.57,684.60 357.06,684.10 357.54,683.60 358.02,683.10 358.47,682.60 358.92,682.10 359.35,681.60 359.76,681.10 360.17,680.60 360.58,680.10 360.98,679.60 361.37,679.10 361.75,678.60 362.13,678.10 362.51,677.60 362.87,677.10 363.23,676.60 363.58,676.10 363.92,675.60 364.26,675.10 364.58,674.60 364.90,674.10 365.20,673.60 365.50,673.10 365.78,672.60 366.05,672.10 366.32,671.60 366.58,671.10 366.83,670.60 367.08,670.10 367.32,669.60 367.55,669.10 367.78,668.60 368.00,668.10 368.22,667.60 368.44,667.10 368.65,666.60 368.85,666.10 369.05,665.60 369.25,665.10 369.44,664.60 369.63,664.10 369.82,663.60 370.00,663.10 370.18,662.60 370.37,662.10 370.55,661.60 370.73,661.10 370.91,660.60 371.09,660.10 371.26,659.60 371.43,659.10 371.60,658.60 371.76,658.10 371.92,657.60 372.07,657.10 372.21,656.60 372.35,656.10 372.47,655.60 372.59,655.10 372.70,654.60 372.80,654.10 372.89,653.60 372.98,653.10 373.07,652.60 373.15,652.10 373.22,651.60 373.29,651.10 373.34,650.60 373.39,650.10 373.42,649.60 373.45,649.10 373.48,648.60 373.50,648.10 373.52,647.60 373.54,647.10 373.56,646.60 373.58,646.10 373.59,645.60 373.61,645.10 373.63,644.60 373.64,644.10 373.66,643.60 373.68,643.10 373.70,642.60 373.72,642.10 373.74,641.60 373.76,641.10 373.78,640.60 373.79,640.10 373.81,639.60 373.83,639.10 373.84,638.60 373.86,638.10 373.88,637.60 373.90,637.10 373.92,636.60 373.94,636.10 373.97,635.60 374.00,635.10 374.03,634.60 374.06,634.10 374.09,633.60 374.13,633.10 374.19,632.60 374.26,632.10 374.34,631.60 374.43,631.10 374.53,630.60 374.65,630.10 374.77,629.60 374.90,629.10 375.04,628.60 375.18,628.10 375.33,627.60 375.49,627.10 375.65,626.60 375.82,626.10 375.99,625.60 376.16,625.10 376.33,624.60 376.51,624.10 376.71,623.60 376.93,623.10 377.16,622.60 377.42,622.10 377.68,621.60 377.96,621.10 378.26,620.60 378.55,620.10 378.86,619.60 379.17,619.10 379.48,618.60 379.79,618.10 380.10,617.60 380.41,617.10 380.71,616.60 381.01,616.10 381.29,615.60 381.56,615.10 381.84,614.60 382.12,614.10 382.39,613.60 382.67,613.10 382.95,612.60 383.22,612.10 383.50,611.60 383.78,611.10 384.05,610.60 384.32,610.10 384.59,609.60 384.86,609.10 385.13,608.60 385.39,608.10 385.65,607.60 385.90,607.10 386.15,606.60 386.40,606.10 386.65,605.60 386.90,605.10 387.15,604.60 387.40,604.10 387.65,603.60 387.89,603.10 388.14,602.60 388.38,602.10 388.62,601.60 388.85,601.10 389.08,600.60 389.30,600.10 389.51,599.60 389.72,599.10 389.91,598.60 390.10,598.10 390.27,597.60 390.43,597.10 390.59,596.60 390.73,596.10 390.88,595.60 391.02,595.10 391.15,594.60 391.28,594.10 391.41,593.60 391.53,593.10 391.65,592.60 391.77,592.10 391.88,591.60 391.99,591.10 392.10,590.60 392.21,590.10 392.31,589.60 392.41,589.10 392.50,588.60 392.60,588.10 392.69,587.60 392.79,587.10 392.88,586.60 392.97,586.10 393.05,585.60 393.14,585.10 393.22,584.60 393.31,584.10 393.39,583.60 393.46,583.10 393.56,582.60 393.66,582.10 393.77,581.60 393.87,581.10 393.96,580.60 394.05,580.10 394.14,579.60 394.23,579.10 394.31,578.60 394.39,578.10 394.47,577.60 394.55,577.10 394.63,576.60 394.71,576.10 394.78,575.60 394.86,575.10 394.93,574.60 394.98,574.10 395.03,573.60 395.07,573.10 395.11,572.60 395.14,572.10 395.17,571.60 395.20,571.10 395.23,570.60 395.25,570.10 395.26,569.60 395.28,569.10 395.29,568.60 395.31,568.10 395.32,567.60 395.33,567.10 395.34,566.60 395.36,566.10 395.37,565.60 395.38,565.10 395.39,564.60 395.39,564.10 395.40,563.60 395.41,563.10 395.42,562.60 395.42,562.10 395.43,561.60 395.44,561.10 395.44,560.60 395.45,560.10 395.45,559.60 395.45,559.10 395.45,558.60 395.45,558.10 395.45,557.60 395.45,557.10 395.45,556.60 395.45,556.10 395.45,555.60 395.45,555.10 395.45,554.60 395.45,554.10 395.45,553.60 395.45,553.10 395.45,552.60 395.45,552.10 395.45,551.60 395.45,551.10 395.45,550.60 395.45,550.10 395.45,549.60 395.45,549.10 395.45,548.60 395.45,548.10 395.45,547.60 395.45,547.10 395.45,546.60 395.45,546.10 395.45,545.60 395.45,545.10 395.45,544.60 395.45,544.10 395.45,543.60 395.45,543.10 395.45,542.60 395.45,542.10 395.45,541.60 395.45,541.10 395.45,540.60 395.45,540.10 395.45,539.60 395.45,539.10 395.45,538.60 395.45,538.10 395.45,537.60 395.45,537.10 395.45,536.60 395.45,536.10 395.45,535.60 395.45,535.10 395.45,534.60 395.45,534.10 395.45,533.60 395.45,533.10 395.45,532.60 395.45,532.10 395.45,531.60 395.45,531.10 395.45,530.60 395.45,530.10 395.45,529.60 Z" fill="#b1cf8e" stroke="#505050" stroke-width="1.8" stroke-linejoin="round"/>
<line x1="338.00" y1="702.60" x2="453.00" y2="702.60" stroke="#505050" stroke-width="1.7" stroke-dasharray="4.5 4.5"/>
<line x1="311.50" y1="741.30" x2="479.50" y2="741.30" stroke="#505050" stroke-width="1.7" stroke-dasharray="9 9"/>
<line x1="306.30" y1="769.90" x2="484.70" y2="769.90" stroke="#505050" stroke-width="1.7" stroke-dasharray="4.5 4.5"/>
<text x="366.9" y="735.7" class="s" font-size="13.3">m = 1.6</text>
<rect x="38.5" y="496.8" width="476.0" height="354.3" fill="none" stroke="#d0d0d0" stroke-width="1.7"/>
</g>
<g>
<text x="901.5" y="489.5" text-anchor="middle" font-size="26.5">theta_mean</text>
<text x="652.1" y="830.5" class="s" text-anchor="end" font-size="13.4">1</text>
<text x="652.1" y="786.2" class="s" text-anchor="end" font-size="13.4">2</text>
<text x="652.1" y="741.8" class="s" text-anchor="end" font-size="13.4">3</text>
<text x="652.1" y="697.5" class="s" text-anchor="end" font-size="13.4">4</text>
<text x="652.1" y="653.1" class="s" text-anchor="end" font-size="13.4">5</text>
<text x="652.1" y="608.8" class="s" text-anchor="end" font-size="13.4">6</text>
<text x="652.1" y="564.5" class="s" text-anchor="end" font-size="13.4">7</text>
<text x="652.1" y="520.1" class="s" text-anchor="end" font-size="13.4">8</text>
<text x="782.5" y="875.1" class="s" text-anchor="middle" font-size="13.4">NR</text>
<text x="1020.5" y="875.1" class="s" text-anchor="middle" font-size="13.4">TSR</text>
<path d="M782.55,514.30 782.55,514.80 782.55,515.30 782.55,515.80 782.55,516.30 782.55,516.80 782.55,517.30 782.55,517.80 782.55,518.30 782.55,518.80 782.55,519.30 782.55,519.80 782.55,520.30 782.55,520.80 782.55,521.30 782.55,521.80 782.55,522.30 782.55,522.80 782.55,523.30 782.55,523.80 782.55,524.30 782.55,524.80 782.55,525.30 782.55,525.80 782.55,526.30 782.55,526.80 782.55,527.30 782.55,527.80 782.55,528.30 782.55,528.80 782.55,529.30 782.55,529.80 782.55,530.30 782.55,530.80 782.55,531.30 782.55,531.80 782.55,532.30 782.55,532.80 782.55,533.30 782.55,533.80 782.55,534.30 782.55,534.80 782.55,535.30 782.55,535.80 782.55,536.30 782.55,536.80 782.55,537.30 782.55,537.80 782.55,538.30 782.55,538.80 782.55,539.30 782.55,539.80 782.55,540.30 782.55,540.80 782.55,541.30 782.55,541.80 782.55,542.30 782.55,542.80 782.55,543.30 782.55,543.80 782.55,544.30 782.55,544.80 782.55,545.30 782.55,545.80 782.55,546.30 782.55,546.80 782.55,547.30 782.55,547.80 782.55,548.30 782.55,548.80 782.55,549.30 782.55,549.80 782.55,550.30 782.55,550.80 782.55,551.30 782.55,551.80 782.55,552.30 782.55,552.80 782.55,553.30 782.55,553.80 782.55,554.30 782.55,554.80 782.55,555.30 782.55,555.80 782.55,556.30 782.55,556.80 782.55,557.30 782.55,557.80 782.55,558.30 782.55,558.80 782.55,559.30 782.55,559.80 782.55,560.30 782.55,560.80 782.55,561.30 782.55,561.80 782.55,562.30 782.55,562.80 782.55,563.30 782.55,563.80 782.55,564.30 782.55,564.80 782.55,565.30 782.55,565.80 782.55,566.30 782.55,566.80 782.55,567.30 782.55,567.80 782.55,568.30 782.55,568.80 782.55,569.30 782.55,569.80 782.55,570.30 782.55,570.80 782.55,571.30 782.55,571.80 782.55,572.30 782.55,572.80 782.55,573.30 782.55,573.80 782.55,574.30 782.55,574.80 782.55,575.30 782.55,575.80 782.55,576.30 782.55,576.80 782.55,577.30 782.55,577.80 782.55,578.30 782.55,578.80 782.55,579.30 782.56,579.80 782.56,580.30 782.56,580.80 782.56,581.30 782.57,581.80 782.57,582.30 782.57,582.80 782.57,583.30 782.57,583.80 782.58,584.30 782.58,584.80 782.58,585.30 782.58,585.80 782.59,586.30 782.59,586.80 782.59,587.30 782.59,587.80 782.59,588.30 782.60,588.80 782.60,589.30 782.60,589.80 782.60,590.30 782.61,590.80 782.61,591.30 782.61,591.80 782.61,592.30 782.61,592.80 782.62,593.30 782.62,593.80 782.62,594.30 782.62,594.80 782.63,595.30 782.63,595.80 782.63,596.30 782.63,596.80 782.64,597.30 782.64,597.80 782.64,598.30 782.64,598.80 782.64,599.30 782.65,599.80 782.65,600.30 782.65,600.80 782.65,601.30 782.66,601.80 782.66,602.30 782.66,602.80 782.66,603.30 782.67,603.80 782.67,604.30 782.67,604.80 782.67,605.30 782.68,605.80 782.68,606.30 782.68,606.80 782.68,607.30 782.69,607.80 782.69,608.30 782.69,608.80 782.69,609.30 782.70,609.80 782.70,610.30 782.70,610.80 782.70,611.30 782.71,611.80 782.71,612.30 782.71,612.80 782.71,613.30 782.72,613.80 782.72,614.30 782.72,614.80 782.72,615.30 782.73,615.80 782.73,616.30 782.73,616.80 782.73,617.30 782.74,617.80 782.74,618.30 782.74,618.80 782.74,619.30 782.75,619.80 782.75,620.30 782.75,620.80 782.75,621.30 782.76,621.80 782.76,622.30 782.76,622.80 782.76,623.30 782.77,623.80 782.77,624.30 782.77,624.80 782.77,625.30 782.78,625.80 782.78,626.30 782.78,626.80 782.78,627.30 782.79,627.80 782.79,628.30 782.79,628.80 782.79,629.30 782.80,629.80 782.80,630.30 782.80,630.80 782.80,631.30 782.81,631.80 782.81,632.30 782.81,632.80 782.81,633.30 782.82,633.80 782.82,634.30 782.82,634.80 782.83,635.30 782.83,635.80 782.83,636.30 782.83,636.80 782.84,637.30 782.84,637.80 782.84,638.30 782.84,638.80 782.85,639.30 782.85,639.80 782.85,640.30 782.85,640.80 782.86,641.30 782.86,641.80 782.86,642.30 782.87,642.80 782.87,643.30 782.87,643.80 782.87,644.30 782.88,644.80 782.88,645.30 782.88,645.80 782.88,646.30 782.89,646.80 782.89,647.30 782.89,647.80 782.90,648.30 782.90,648.80 782.90,649.30 782.91,649.80 782.91,650.30 782.91,650.80 782.91,651.30 782.92,651.80 782.92,652.30 782.92,652.80 782.93,653.30 782.93,653.80 782.93,654.30 782.94,654.80 782.94,655.30 782.94,655.80 782.95,656.30 782.95,656.80 782.95,657.30 782.96,657.80 782.96,658.30 782.96,658.80 782.97,659.30 782.97,659.80 782.98,660.30 782.98,660.80 782.98,661.30 782.99,661.80 782.99,662.30 782.99,662.80 783.00,663.30 783.00,663.80 783.00,664.30 783.01,664.80 783.01,665.30 783.02,665.80 783.02,666.30 783.02,666.80 783.03,667.30 783.03,667.80 783.04,668.30 783.04,668.80 783.04,669.30 783.05,669.80 783.05,670.30 783.06,670.80 783.07,671.30 783.07,671.80 783.08,672.30 783.08,672.80 783.09,673.30 783.09,673.80 783.10,674.30 783.11,674.80 783.11,675.30 783.12,675.80 783.13,676.30 783.13,676.80 783.14,677.30 783.15,677.80 783.16,678.30 783.17,678.80 783.18,679.30 783.19,679.80 783.20,680.30 783.22,680.80 783.23,681.30 783.25,681.80 783.28,682.30 783.30,682.80 783.33,683.30 783.36,683.80 783.39,684.30 783.42,684.80 783.46,685.30 783.49,685.80 783.53,686.30 783.57,686.80 783.61,687.30 783.66,687.80 783.70,688.30 783.75,688.80 783.79,689.30 783.85,689.80 783.90,690.30 783.97,690.80 784.03,691.30 784.10,691.80 784.18,692.30 784.26,692.80 784.35,693.30 784.44,693.80 784.52,694.30 784.59,694.80 784.66,695.30 784.73,695.80 784.81,696.30 784.89,696.80 784.97,697.30 785.05,697.80 785.13,698.30 785.23,698.80 785.33,699.30 785.45,699.80 785.57,700.30 785.69,700.80 785.83,701.30 785.97,701.80 786.11,702.30 786.26,702.80 786.41,703.30 786.57,703.80 786.72,704.30 786.88,704.80 787.03,705.30 787.19,705.80 787.34,706.30 787.48,706.80 787.63,707.30 787.77,707.80 787.91,708.30 788.05,708.80 788.19,709.30 788.33,709.80 788.47,710.30 788.62,710.80 788.76,711.30 788.90,711.80 789.05,712.30 789.20,712.80 789.35,713.30 789.50,713.80 789.65,714.30 789.81,714.80 789.97,715.30 790.13,715.80 790.30,716.30 790.47,716.80 790.64,717.30 790.82,717.80 790.99,718.30 791.17,718.80 791.36,719.30 791.54,719.80 791.73,720.30 791.92,720.80 792.12,721.30 792.32,721.80 792.52,722.30 792.73,722.80 792.95,723.30 793.17,723.80 793.39,724.30 793.62,724.80 793.85,725.30 794.09,725.80 794.35,726.30 794.61,726.80 794.88,727.30 795.16,727.80 795.45,728.30 795.74,728.80 796.04,729.30 796.35,729.80 796.66,730.30 796.97,730.80 797.29,731.30 797.61,731.80 797.94,732.30 798.26,732.80 798.59,733.30 798.91,733.80 799.24,734.30 799.56,734.80 799.89,735.30 800.23,735.80 800.58,736.30 800.92,736.80 801.28,737.30 801.63,737.80 801.99,738.30 802.35,738.80 802.71,739.30 803.07,739.80 803.43,740.30 803.79,740.80 804.15,741.30 804.51,741.80 804.86,742.30 805.21,742.80 805.56,743.30 805.91,743.80 806.26,744.30 806.63,744.80 807.00,745.30 807.37,745.80 807.75,746.30 808.13,746.80 808.51,747.30 808.88,747.80 809.24,748.30 809.60,748.80 809.94,749.30 810.28,749.80 810.59,750.30 810.90,750.80 811.18,751.30 811.44,751.80 811.67,752.30 811.88,752.80 812.07,753.30 812.23,753.80 812.39,754.30 812.52,754.80 812.65,755.30 812.78,755.80 812.90,756.30 813.03,756.80 813.16,757.30 813.29,757.80 813.44,758.30 813.61,758.80 813.79,759.30 814.00,759.80 814.23,760.30 814.48,760.80 814.76,761.30 815.07,761.80 815.41,762.30 815.78,762.80 816.18,763.30 816.62,763.80 817.10,764.30 817.62,764.80 818.27,765.30 819.04,765.80 819.93,766.30 820.90,766.80 821.95,767.30 823.06,767.80 824.20,768.30 825.37,768.80 826.54,769.30 827.71,769.80 828.94,770.30 830.24,770.80 831.59,771.30 833.00,771.80 834.45,772.30 835.93,772.80 837.43,773.30 838.96,773.80 840.50,774.30 842.09,774.80 843.76,775.30 845.50,775.80 847.27,776.30 849.06,776.80 850.84,777.30 852.60,777.80 854.31,778.30 855.96,778.80 857.52,779.30 859.10,779.80 860.70,780.30 862.29,780.80 863.85,781.30 865.35,781.80 866.76,782.30 868.06,782.80 869.22,783.30 870.22,783.80 871.10,784.30 871.98,784.80 872.86,785.30 873.69,785.80 874.48,786.30 875.20,786.80 875.82,787.30 876.33,787.80 876.71,788.30 876.94,788.80 876.99,789.30 876.76,789.80 876.23,790.30 875.47,790.80 874.51,791.30 873.42,791.80 872.25,792.30 871.04,792.80 869.86,793.30 868.69,793.80 867.38,794.30 865.92,794.80 864.36,795.30 862.71,795.80 861.01,796.30 859.29,796.80 857.58,797.30 855.91,797.80 854.31,798.30 852.78,798.80 851.26,799.30 849.75,799.80 848.26,800.30 846.76,800.80 845.28,801.30 843.79,801.80 842.30,802.30 840.80,802.80 839.30,803.30 837.80,803.80 836.30,804.30 834.81,804.80 833.31,805.30 831.81,805.80 830.30,806.30 828.79,806.80 827.26,807.30 825.72,807.80 824.16,808.30 822.56,808.80 820.94,809.30 819.30,809.80 817.66,810.30 816.02,810.80 814.39,811.30 812.79,811.80 811.22,812.30 809.70,812.80 808.19,813.30 806.68,813.80 805.16,814.30 803.67,814.80 802.20,815.30 800.78,815.80 799.41,816.30 798.11,816.80 796.89,817.30 795.75,817.80 794.64,818.30 793.54,818.80 792.47,819.30 791.44,819.80 790.47,820.30 789.56,820.80 788.74,821.30 788.02,821.80 787.41,822.30 786.88,822.80 786.38,823.30 785.91,823.80 785.46,824.30 785.05,824.80 784.68,825.30 784.30,825.80 783.90,826.30 783.58,826.80 783.34,827.30 783.15,827.80 783.00,828.30 782.88,828.80 782.77,829.30 782.66,829.80 782.56,830.30 782.55,830.80 782.55,831.30 782.55,831.80 782.55,832.30 782.55,832.80 782.55,833.30 782.55,833.80 782.55,834.30 782.55,834.80 782.55,835.30 L782.45,835.30 782.45,834.80 782.45,834.30 782.45,833.80 782.45,833.30 782.45,832.80 782.45,832.30 782.45,831.80 782.45,831.30 782.45,830.80 782.44,830.30 782.34,829.80 782.23,829.30 782.12,828.80 782.00,828.30 781.85,827.80 781.66,827.30 781.42,826.80 781.10,826.30 780.70,825.80 780.32,825.30 779.95,824.80 779.54,824.30 779.09,823.80 778.62,823.30 778.12,822.80 777.59,822.30 776.98,821.80 776.26,821.30 775.44,820.80 774.53,820.30 773.56,819.80 772.53,819.30 771.46,818.80 770.36,818.30 769.25,817.80 768.11,817.30 766.89,816.80 765.59,816.30 764.22,815.80 762.80,815.30 761.33,814.80 759.84,814.30 758.32,813.80 756.81,813.30 755.30,812.80 753.78,812.30 752.21,811.80 750.61,811.30 748.98,810.80 747.34,810.30 745.70,809.80 744.06,809.30 742.44,808.80 740.84,808.30 739.28,807.80 737.74,807.30 736.21,806.80 734.70,806.30 733.19,805.80 731.69,805.30 730.19,804.80 728.70,804.30 727.20,803.80 725.70,803.30 724.20,802.80 722.70,802.30 721.21,801.80 719.72,801.30 718.24,800.80 716.74,800.30 715.25,799.80 713.74,799.30 712.22,798.80 710.69,798.30 709.09,797.80 707.42,797.30 705.71,796.80 703.99,796.30 702.29,795.80 700.64,795.30 699.08,794.80 697.62,794.30 696.31,793.80 695.14,793.30 693.96,792.80 692.75,792.30 691.58,791.80 690.49,791.30 689.53,790.80 688.77,790.30 688.24,789.80 688.01,789.30 688.06,788.80 688.29,788.30 688.67,787.80 689.18,787.30 689.80,786.80 690.52,786.30 691.31,785.80 692.14,785.30 693.02,784.80 693.90,784.30 694.78,783.80 695.78,783.30 696.94,782.80 698.24,782.30 699.65,781.80 701.15,781.30 702.71,780.80 704.30,780.30 705.90,779.80 707.48,779.30 709.04,778.80 710.69,778.30 712.40,777.80 714.16,777.30 715.94,776.80 717.73,776.30 719.50,775.80 721.24,775.30 722.91,774.80 724.50,774.30 726.04,773.80 727.57,773.30 729.07,772.80 730.55,772.30 732.00,771.80 733.41,771.30 734.76,770.80 736.06,770.30 737.29,769.80 738.46,769.30 739.63,768.80 740.80,768.30 741.94,767.80 743.05,767.30 744.10,766.80 745.07,766.30 745.96,765.80 746.73,765.30 747.38,764.80 747.90,764.30 748.38,763.80 748.82,763.30 749.22,762.80 749.59,762.30 749.93,761.80 750.24,761.30 750.52,760.80 750.77,760.30 751.00,759.80 751.21,759.30 751.39,758.80 751.56,758.30 751.71,757.80 751.84,757.30 751.97,756.80 752.10,756.30 752.22,755.80 752.35,755.30 752.48,754.80 752.61,754.30 752.77,753.80 752.93,753.30 753.12,752.80 753.33,752.30 753.56,751.80 753.82,751.30 754.10,750.80 754.41,750.30 754.72,749.80 755.06,749.30 755.40,748.80 755.76,748.30 756.12,747.80 756.49,747.30 756.87,746.80 757.25,746.30 757.63,745.80 758.00,745.30 758.37,744.80 758.74,744.30 759.09,743.80 759.44,743.30 759.79,742.80 760.14,742.30 760.49,741.80 760.85,741.30 761.21,740.80 761.57,740.30 761.93,739.80 762.29,739.30 762.65,738.80 763.01,738.30 763.37,737.80 763.72,737.30 764.08,736.80 764.42,736.30 764.77,735.80 765.11,735.30 765.44,734.80 765.76,734.30 766.09,733.80 766.41,733.30 766.74,732.80 767.06,732.30 767.39,731.80 767.71,731.30 768.03,730.80 768.34,730.30 768.65,729.80 768.96,729.30 769.26,728.80 769.55,728.30 769.84,727.80 770.12,727.30 770.39,726.80 770.65,726.30 770.91,725.80 771.15,725.30 771.38,724.80 771.61,724.30 771.83,723.80 772.05,723.30 772.27,722.80 772.48,722.30 772.68,721.80 772.88,721.30 773.08,720.80 773.27,720.30 773.46,719.80 773.64,719.30 773.83,718.80 774.01,718.30 774.18,717.80 774.36,717.30 774.53,716.80 774.70,716.30 774.87,715.80 775.03,715.30 775.19,714.80 775.35,714.30 775.50,713.80 775.65,713.30 775.80,712.80 775.95,712.30 776.10,711.80 776.24,711.30 776.38,710.80 776.53,710.30 776.67,709.80 776.81,709.30 776.95,708.80 777.09,708.30 777.23,707.80 777.37,707.30 777.52,706.80 777.66,706.30 777.81,705.80 777.97,705.30 778.12,704.80 778.28,704.30 778.43,703.80 778.59,703.30 778.74,702.80 778.89,702.30 779.03,701.80 779.17,701.30 779.31,700.80 779.43,700.30 779.55,699.80 779.67,699.30 779.77,698.80 779.87,698.30 779.95,697.80 780.03,697.30 780.11,696.80 780.19,696.30 780.27,695.80 780.34,695.30 780.41,694.80 780.48,694.30 780.56,693.80 780.65,693.30 780.74,692.80 780.82,692.30 780.90,691.80 780.97,691.30 781.03,690.80 781.10,690.30 781.15,689.80 781.21,689.30 781.25,688.80 781.30,688.30 781.34,687.80 781.39,687.30 781.43,686.80 781.47,686.30 781.51,685.80 781.54,685.30 781.58,684.80 781.61,684.30 781.64,683.80 781.67,683.30 781.70,682.80 781.72,682.30 781.75,681.80 781.77,681.30 781.78,680.80 781.80,680.30 781.81,679.80 781.82,679.30 781.83,678.80 781.84,678.30 781.85,677.80 781.86,677.30 781.87,676.80 781.87,676.30 781.88,675.80 781.89,675.30 781.89,674.80 781.90,674.30 781.91,673.80 781.91,673.30 781.92,672.80 781.92,672.30 781.93,671.80 781.93,671.30 781.94,670.80 781.95,670.30 781.95,669.80 781.96,669.30 781.96,668.80 781.96,668.30 781.97,667.80 781.97,667.30 781.98,666.80 781.98,666.30 781.98,665.80 781.99,665.30 781.99,664.80 782.00,664.30 782.00,663.80 782.00,663.30 782.01,662.80 782.01,662.30 782.01,661.80 782.02,661.30 782.02,660.80 782.02,660.30 782.03,659.80 782.03,659.30 782.04,658.80 782.04,658.30 782.04,657.80 782.05,657.30 782.05,656.80 782.05,656.30 782.06,655.80 782.06,655.30 782.06,654.80 782.07,654.30 782.07,653.80 782.07,653.30 782.08,652.80 782.08,652.30 782.08,651.80 782.09,651.30 782.09,650.80 782.09,650.30 782.09,649.80 782.10,649.30 782.10,648.80 782.10,648.30 782.11,647.80 782.11,647.30 782.11,646.80 782.12,646.30 782.12,645.80 782.12,645.30 782.12,644.80 782.13,644.30 782.13,643.80 782.13,643.30 782.13,642.80 782.14,642.30 782.14,641.80 782.14,641.30 782.15,640.80 782.15,640.30 782.15,639.80 782.15,639.30 782.16,638.80 782.16,638.30 782.16,637.80 782.16,637.30 782.17,636.80 782.17,636.30 782.17,635.80 782.17,635.30 782.18,634.80 782.18,634.30 782.18,633.80 782.19,633.30 782.19,632.80 782.19,632.30 782.19,631.80 782.20,631.30 782.20,630.80 782.20,630.30 782.20,629.80 782.21,629.30 782.21,628.80 782.21,628.30 782.21,627.80 782.22,627.30 782.22,626.80 782.22,626.30 782.22,625.80 782.23,625.30 782.23,624.80 782.23,624.30 782.23,623.80 782.24,623.30 782.24,622.80 782.24,622.30 782.24,621.80 782.25,621.30 782.25,620.80 782.25,620.30 782.25,619.80 782.26,619.30 782.26,618.80 782.26,618.30 782.26,617.80 782.27,617.30 782.27,616.80 782.27,616.30 782.27,615.80 782.28,615.30 782.28,614.80 782.28,614.30 782.28,613.80 782.29,613.30 782.29,612.80 782.29,612.30 782.29,611.80 782.30,611.30 782.30,610.80 782.30,610.30 782.30,609.80 782.31,609.30 782.31,608.80 782.31,608.30 782.31,607.80 782.32,607.30 782.32,606.80 782.32,606.30 782.32,605.80 782.33,605.30 782.33,604.80 782.33,604.30 782.33,603.80 782.34,603.30 782.34,602.80 782.34,602.30 782.34,601.80 782.35,601.30 782.35,600.80 782.35,600.30 782.35,599.80 782.36,599.30 782.36,598.80 782.36,598.30 782.36,597.80 782.36,597.30 782.37,596.80 782.37,596.30 782.37,595.80 782.37,595.30 782.38,594.80 782.38,594.30 782.38,593.80 782.38,593.30 782.39,592.80 782.39,592.30 782.39,591.80 782.39,591.30 782.39,590.80 782.40,590.30 782.40,589.80 782.40,589.30 782.40,588.80 782.41,588.30 782.41,587.80 782.41,587.30 782.41,586.80 782.41,586.30 782.42,585.80 782.42,585.30 782.42,584.80 782.42,584.30 782.43,583.80 782.43,583.30 782.43,582.80 782.43,582.30 782.43,581.80 782.44,581.30 782.44,580.80 782.44,580.30 782.44,579.80 782.45,579.30 782.45,578.80 782.45,578.30 782.45,577.80 782.45,577.30 782.45,576.80 782.45,576.30 782.45,575.80 782.45,575.30 782.45,574.80 782.45,574.30 782.45,573.80 782.45,573.30 782.45,572.80 782.45,572.30 782.45,571.80 782.45,571.30 782.45,570.80 782.45,570.30 782.45,569.80 782.45,569.30 782.45,568.80 782.45,568.30 782.45,567.80 782.45,567.30 782.45,566.80 782.45,566.30 782.45,565.80 782.45,565.30 782.45,564.80 782.45,564.30 782.45,563.80 782.45,563.30 782.45,562.80 782.45,562.30 782.45,561.80 782.45,561.30 782.45,560.80 782.45,560.30 782.45,559.80 782.45,559.30 782.45,558.80 782.45,558.30 782.45,557.80 782.45,557.30 782.45,556.80 782.45,556.30 782.45,555.80 782.45,555.30 782.45,554.80 782.45,554.30 782.45,553.80 782.45,553.30 782.45,552.80 782.45,552.30 782.45,551.80 782.45,551.30 782.45,550.80 782.45,550.30 782.45,549.80 782.45,549.30 782.45,548.80 782.45,548.30 782.45,547.80 782.45,547.30 782.45,546.80 782.45,546.30 782.45,545.80 782.45,545.30 782.45,544.80 782.45,544.30 782.45,543.80 782.45,543.30 782.45,542.80 782.45,542.30 782.45,541.80 782.45,541.30 782.45,540.80 782.45,540.30 782.45,539.80 782.45,539.30 782.45,538.80 782.45,538.30 782.45,537.80 782.45,537.30 782.45,536.80 782.45,536.30 782.45,535.80 782.45,535.30 782.45,534.80 782.45,534.30 782.45,533.80 782.45,533.30 782.45,532.80 782.45,532.30 782.45,531.80 782.45,531.30 782.45,530.80 782.45,530.30 782.45,529.80 782.45,529.30 782.45,528.80 782.45,528.30 782.45,527.80 782.45,527.30 782.45,526.80 782.45,526.30 782.45,525.80 782.45,525.30 782.45,524.80 782.45,524.30 782.45,523.80 782.45,523.30 782.45,522.80 782.45,522.30 782.45,521.80 782.45,521.30 782.45,520.80 782.45,520.30 782.45,519.80 782.45,519.30 782.45,518.80 782.45,518.30 782.45,517.80 782.45,517.30 782.45,516.80 782.45,516.30 782.45,515.80 782.45,515.30 782.45,514.80 782.45,514.30 Z" fill="#5199b5" stroke="#505050" stroke-width="1.8" stroke-linejoin="round"/>
<line x1="747.80" y1="764.40" x2="817.20" y2="764.40" stroke="#505050" stroke-width="1.7" stroke-dasharray="4.5 4.5"/>
<line x1="692.84" y1="784.90" x2="872.16" y2="784.90" stroke="#505050" stroke-width="1.7" stroke-dasharray="9 9"/>
<line x1="702.63" y1="795.90" x2="862.37" y2="795.90" stroke="#505050" stroke-width="1.7" stroke-dasharray="4.5 4.5"/>
<text x="753.3" y="783.5" class="s" font-size="13.3">m = 1.9</text>
<path d="M1020.55,512.30 1020.55,512.80 1020.55,513.30 1020.55,513.80 1020.55,514.30 1020.55,514.80 1020.55,515.30 1020.55,515.80 1020.55,516.30 1020.55,516.80 1020.55,517.30 1020.55,517.80 1020.55,518.30 1020.55,518.80 1020.55,519.30 1020.55,519.80 1020.55,520.30 1020.55,520.80 1020.55,521.30 1020.55,521.80 1020.55,522.30 1020.55,522.80 1020.55,523.30 1020.55,523.80 1020.55,524.30 1020.55,524.80 1020.55,525.30 1020.55,525.80 1020.55,526.30 1020.55,526.80 1020.55,527.30 1020.55,527.80 1020.55,528.30 1020.55,528.80 1020.55,529.30 1020.55,529.80 1020.55,530.30 1020.55,530.80 1020.55,531.30 1020.55,531.80 1020.55,532.30 1020.55,532.80 1020.55,533.30 1020.55,533.80 1020.55,534.30 1020.55,534.80 1020.55,535.30 1020.55,535.80 1020.55,536.30 1020.55,536.80 1020.55,537.30 1020.55,537.80 1020.55,538.30 1020.55,538.80 1020.55,539.30 1020.55,539.80 1020.55,540.30 1020.55,540.80 1020.55,541.30 1020.55,541.80 1020.55,542.30 1020.55,542.80 1020.55,543.30 1020.55,543.80 1020.55,544.30 1020.55,544.80 1020.55,545.30 1020.55,545.80 1020.55,546.30 1020.55,546.80 1020.55,547.30 1020.55,547.80 1020.55,548.30 1020.55,548.80 1020.55,549.30 1020.55,549.80 1020.55,550.30 1020.55,550.80 1020.55,551.30 1020.55,551.80 1020.55,552.30 1020.55,552.80 1020.55,553.30 1020.55,553.80 1020.55,554.30 1020.55,554.80 1020.55,555.30 1020.55,555.80 1020.55,556.30 1020.55,556.80 1020.55,557.30 1020.55,557.80 1020.55,558.30 1020.55,558.80 1020.55,559.30 1020.55,559.80 1020.55,560.30 1020.55,560.80 1020.55,561.30 1020.55,561.80 1020.55,562.30 1020.55,562.80 1020.55,563.30 1020.55,563.80 1020.55,564.30 1020.55,564.80 1020.55,565.30 1020.55,565.80 1020.55,566.30 1020.55,566.80 1020.55,567.30 1020.55,567.80 1020.55,568.30 1020.55,568.80 1020.55,569.30 1020.55,569.80 1020.55,570.30 1020.55,570.80 1020.55,571.30 1020.55,571.80 1020.55,572.30 1020.55,572.80 1020.55,573.30 1020.55,573.80 1020.55,574.30 1020.55,574.80 1020.55,575.30 1020.55,575.80 1020.55,576.30 1020.55,576.80 1020.55,577.30 1020.55,577.80 1020.55,578.30 1020.55,578.80 1020.56,579.30 1020.56,579.80 1020.56,580.30 1020.56,580.80 1020.56,581.30 1020.56,581.80 1020.56,582.30 1020.56,582.80 1020.56,583.30 1020.57,583.80 1020.57,584.30 1020.57,584.80 1020.57,585.30 1020.57,585.80 1020.57,586.30 1020.57,586.80 1020.57,587.30 1020.57,587.80 1020.57,588.30 1020.58,588.80 1020.58,589.30 1020.58,589.80 1020.58,590.30 1020.58,590.80 1020.58,591.30 1020.58,591.80 1020.58,592.30 1020.58,592.80 1020.58,593.30 1020.59,593.80 1020.59,594.30 1020.59,594.80 1020.59,595.30 1020.59,595.80 1020.59,596.30 1020.59,596.80 1020.59,597.30 1020.59,597.80 1020.59,598.30 1020.59,598.80 1020.60,599.30 1020.60,599.80 1020.60,600.30 1020.60,600.80 1020.60,601.30 1020.60,601.80 1020.60,602.30 1020.60,602.80 1020.60,603.30 1020.60,603.80 1020.60,604.30 1020.60,604.80 1020.61,605.30 1020.61,605.80 1020.61,606.30 1020.61,606.80 1020.61,607.30 1020.61,607.80 1020.61,608.30 1020.61,608.80 1020.61,609.30 1020.61,609.80 1020.61,610.30 1020.61,610.80 1020.61,611.30 1020.62,611.80 1020.62,612.30 1020.62,612.80 1020.62,613.30 1020.62,613.80 1020.62,614.30 1020.62,614.80 1020.62,615.30 1020.62,615.80 1020.62,616.30 1020.62,616.80 1020.62,617.30 1020.62,617.80 1020.62,618.30 1020.62,618.80 1020.63,619.30 1020.63,619.80 1020.63,620.30 1020.63,620.80 1020.63,621.30 1020.63,621.80 1020.63,622.30 1020.63,622.80 1020.63,623.30 1020.63,623.80 1020.63,624.30 1020.63,624.80 1020.63,625.30 1020.63,625.80 1020.63,626.30 1020.63,626.80 1020.63,627.30 1020.63,627.80 1020.63,628.30 1020.64,628.80 1020.64,629.30 1020.64,629.80 1020.64,630.30 1020.64,630.80 1020.64,631.30 1020.64,631.80 1020.64,632.30 1020.64,632.80 1020.64,633.30 1020.64,633.80 1020.64,634.30 1020.64,634.80 1020.64,635.30 1020.64,635.80 1020.64,636.30 1020.64,636.80 1020.64,637.30 1020.64,637.80 1020.64,638.30 1020.64,638.80 1020.64,639.30 1020.64,639.80 1020.64,640.30 1020.64,640.80 1020.64,641.30 1020.64,641.80 1020.65,642.30 1020.65,642.80 1020.65,643.30 1020.65,643.80 1020.65,644.30 1020.65,644.80 1020.65,645.30 1020.65,645.80 1020.65,646.30 1020.65,646.80 1020.65,647.30 1020.65,647.80 1020.65,648.30 1020.65,648.80 1020.65,649.30 1020.65,649.80 1020.65,650.30 1020.65,650.80 1020.65,651.30 1020.65,651.80 1020.65,652.30 1020.65,652.80 1020.65,653.30 1020.65,653.80 1020.65,654.30 1020.65,654.80 1020.65,655.30 1020.65,655.80 1020.65,656.30 1020.65,656.80 1020.65,657.30 1020.65,657.80 1020.65,658.30 1020.65,658.80 1020.65,659.30 1020.65,659.80 1020.65,660.30 1020.65,660.80 1020.65,661.30 1020.65,661.80 1020.65,662.30 1020.65,662.80 1020.65,663.30 1020.65,663.80 1020.65,664.30 1020.65,664.80 1020.65,665.30 1020.65,665.80 1020.65,666.30 1020.65,666.80 1020.65,667.30 1020.65,667.80 1020.65,668.30 1020.65,668.80 1020.65,669.30 1020.65,669.80 1020.65,670.30 1020.65,670.80 1020.65,671.30 1020.65,671.80 1020.65,672.30 1020.65,672.80 1020.65,673.30 1020.65,673.80 1020.65,674.30 1020.65,674.80 1020.65,675.30 1020.65,675.80 1020.65,676.30 1020.65,676.80 1020.65,677.30 1020.65,677.80 1020.65,678.30 1020.65,678.80 1020.65,679.30 1020.65,679.80 1020.65,680.30 1020.65,680.80 1020.66,681.30 1020.66,681.80 1020.67,682.30 1020.67,682.80 1020.68,683.30 1020.69,683.80 1020.70,684.30 1020.71,684.80 1020.73,685.30 1020.74,685.80 1020.75,686.30 1020.77,686.80 1020.79,687.30 1020.80,687.80 1020.82,688.30 1020.84,688.80 1020.86,689.30 1020.89,689.80 1020.92,690.30 1020.96,690.80 1021.01,691.30 1021.08,691.80 1021.17,692.30 1021.26,692.80 1021.37,693.30 1021.48,693.80 1021.59,694.30 1021.71,694.80 1021.83,695.30 1021.95,695.80 1022.07,696.30 1022.19,696.80 1022.31,697.30 1022.43,697.80 1022.53,698.30 1022.61,698.80 1022.70,699.30 1022.79,699.80 1022.88,700.30 1022.97,700.80 1023.07,701.30 1023.16,701.80 1023.26,702.30 1023.36,702.80 1023.47,703.30 1023.57,703.80 1023.68,704.30 1023.78,704.80 1023.89,705.30 1024.00,705.80 1024.10,706.30 1024.21,706.80 1024.32,707.30 1024.43,707.80 1024.54,708.30 1024.66,708.80 1024.78,709.30 1024.89,709.80 1025.01,710.30 1025.13,710.80 1025.26,711.30 1025.38,711.80 1025.50,712.30 1025.63,712.80 1025.75,713.30 1025.88,713.80 1026.00,714.30 1026.13,714.80 1026.25,715.30 1026.38,715.80 1026.50,716.30 1026.62,716.80 1026.75,717.30 1026.88,717.80 1027.01,718.30 1027.14,718.80 1027.27,719.30 1027.41,719.80 1027.54,720.30 1027.67,720.80 1027.80,721.30 1027.93,721.80 1028.06,722.30 1028.19,722.80 1028.31,723.30 1028.43,723.80 1028.55,724.30 1028.67,724.80 1028.78,725.30 1028.88,725.80 1028.98,726.30 1029.07,726.80 1029.15,727.30 1029.23,727.80 1029.30,728.30 1029.38,728.80 1029.45,729.30 1029.52,729.80 1029.60,730.30 1029.68,730.80 1029.76,731.30 1029.86,731.80 1029.96,732.30 1030.07,732.80 1030.19,733.30 1030.32,733.80 1030.47,734.30 1030.65,734.80 1030.89,735.30 1031.18,735.80 1031.52,736.30 1031.89,736.80 1032.28,737.30 1032.70,737.80 1033.12,738.30 1033.53,738.80 1033.95,739.30 1034.41,739.80 1034.89,740.30 1035.40,740.80 1035.93,741.30 1036.46,741.80 1036.99,742.30 1037.51,742.80 1038.01,743.30 1038.48,743.80 1038.95,744.30 1039.41,744.80 1039.87,745.30 1040.32,745.80 1040.77,746.30 1041.22,746.80 1041.67,747.30 1042.12,747.80 1042.57,748.30 1043.03,748.80 1043.50,749.30 1043.97,749.80 1044.44,750.30 1044.89,750.80 1045.34,751.30 1045.76,751.80 1046.17,752.30 1046.55,752.80 1046.88,753.30 1047.20,753.80 1047.51,754.30 1047.85,754.80 1048.24,755.30 1048.65,755.80 1049.09,756.30 1049.55,756.80 1050.03,757.30 1050.52,757.80 1051.02,758.30 1051.52,758.80 1052.01,759.30 1052.50,759.80 1052.98,760.30 1053.47,760.80 1053.95,761.30 1054.44,761.80 1054.93,762.30 1055.43,762.80 1055.93,763.30 1056.45,763.80 1056.98,764.30 1057.52,764.80 1058.04,765.30 1058.56,765.80 1059.08,766.30 1059.62,766.80 1060.17,767.30 1060.75,767.80 1061.38,768.30 1062.05,768.80 1062.79,769.30 1063.60,769.80 1064.54,770.30 1065.58,770.80 1066.73,771.30 1067.95,771.80 1069.23,772.30 1070.57,772.80 1071.93,773.30 1073.32,773.80 1074.70,774.30 1076.14,774.80 1077.68,775.30 1079.30,775.80 1080.97,776.30 1082.67,776.80 1084.37,777.30 1086.04,777.80 1087.67,778.30 1089.22,778.80 1090.68,779.30 1092.12,779.80 1093.57,780.30 1095.00,780.80 1096.40,781.30 1097.76,781.80 1099.05,782.30 1100.26,782.80 1101.39,783.30 1102.41,783.80 1103.34,784.30 1104.24,784.80 1105.10,785.30 1105.91,785.80 1106.66,786.30 1107.33,786.80 1107.91,787.30 1108.40,787.80 1108.84,788.30 1109.27,788.80 1109.69,789.30 1110.08,789.80 1110.44,790.30 1110.75,790.80 1111.00,791.30 1111.18,791.80 1111.28,792.30 1111.29,792.80 1111.15,793.30 1110.87,793.80 1110.47,794.30 1109.97,794.80 1109.39,795.30 1108.75,795.80 1108.06,796.30 1107.35,796.80 1106.64,797.30 1105.88,797.80 1104.97,798.30 1103.92,798.80 1102.75,799.30 1101.49,799.80 1100.15,800.30 1098.76,800.80 1097.34,801.30 1095.90,801.80 1094.48,802.30 1093.08,802.80 1091.73,803.30 1090.40,803.80 1089.06,804.30 1087.71,804.80 1086.34,805.30 1084.95,805.80 1083.53,806.30 1082.09,806.80 1080.62,807.30 1079.11,807.80 1077.57,808.30 1075.99,808.80 1074.38,809.30 1072.73,809.80 1071.05,810.30 1069.34,810.80 1067.60,811.30 1065.83,811.80 1064.03,812.30 1062.20,812.80 1060.29,813.30 1058.26,813.80 1056.16,814.30 1054.01,814.80 1051.85,815.30 1049.73,815.80 1047.67,816.30 1045.72,816.80 1043.91,817.30 1042.25,817.80 1040.65,818.30 1039.08,818.80 1037.55,819.30 1036.09,819.80 1034.69,820.30 1033.37,820.80 1032.16,821.30 1031.06,821.80 1030.08,822.30 1029.21,822.80 1028.37,823.30 1027.58,823.80 1026.84,824.30 1026.14,824.80 1025.49,825.30 1024.90,825.80 1024.37,826.30 1023.90,826.80 1023.50,827.30 1023.14,827.80 1022.82,828.30 1022.51,828.80 1022.12,829.30 1021.75,829.80 1021.42,830.30 1021.12,830.80 1020.92,831.30 1020.75,831.80 1020.60,832.30 1020.55,832.80 1020.55,833.30 1020.55,833.80 1020.55,834.30 1020.55,834.80 L1020.45,834.80 1020.45,834.30 1020.45,833.80 1020.45,833.30 1020.45,832.80 1020.40,832.30 1020.25,831.80 1020.08,831.30 1019.88,830.80 1019.58,830.30 1019.25,829.80 1018.88,829.30 1018.49,828.80 1018.18,828.30 1017.86,827.80 1017.50,827.30 1017.10,826.80 1016.63,826.30 1016.10,825.80 1015.51,825.30 1014.86,824.80 1014.16,824.30 1013.42,823.80 1012.63,823.30 1011.79,822.80 1010.92,822.30 1009.94,821.80 1008.84,821.30 1007.63,820.80 1006.31,820.30 1004.91,819.80 1003.45,819.30 1001.92,818.80 1000.35,818.30 998.75,817.80 997.09,817.30 995.28,816.80 993.33,816.30 991.27,815.80 989.15,815.30 986.99,814.80 984.84,814.30 982.74,813.80 980.71,813.30 978.80,812.80 976.97,812.30 975.17,811.80 973.40,811.30 971.66,810.80 969.95,810.30 968.27,809.80 966.62,809.30 965.01,808.80 963.43,808.30 961.89,807.80 960.38,807.30 958.91,806.80 957.47,806.30 956.05,805.80 954.66,805.30 953.29,804.80 951.94,804.30 950.60,803.80 949.27,803.30 947.92,802.80 946.52,802.30 945.10,801.80 943.66,801.30 942.24,800.80 940.85,800.30 939.51,799.80 938.25,799.30 937.08,798.80 936.03,798.30 935.12,797.80 934.36,797.30 933.65,796.80 932.94,796.30 932.25,795.80 931.61,795.30 931.03,794.80 930.53,794.30 930.13,793.80 929.85,793.30 929.71,792.80 929.72,792.30 929.82,791.80 930.00,791.30 930.25,790.80 930.56,790.30 930.92,789.80 931.31,789.30 931.73,788.80 932.16,788.30 932.60,787.80 933.09,787.30 933.67,786.80 934.34,786.30 935.09,785.80 935.90,785.30 936.76,784.80 937.66,784.30 938.59,783.80 939.61,783.30 940.74,782.80 941.95,782.30 943.24,781.80 944.60,781.30 946.00,780.80 947.43,780.30 948.88,779.80 950.32,779.30 951.78,778.80 953.33,778.30 954.96,777.80 956.63,777.30 958.33,776.80 960.03,776.30 961.70,775.80 963.32,775.30 964.86,774.80 966.30,774.30 967.68,773.80 969.07,773.30 970.43,772.80 971.77,772.30 973.05,771.80 974.27,771.30 975.42,770.80 976.46,770.30 977.40,769.80 978.21,769.30 978.95,768.80 979.62,768.30 980.25,767.80 980.83,767.30 981.38,766.80 981.92,766.30 982.44,765.80 982.96,765.30 983.48,764.80 984.02,764.30 984.55,763.80 985.07,763.30 985.57,762.80 986.07,762.30 986.56,761.80 987.05,761.30 987.53,760.80 988.02,760.30 988.50,759.80 988.99,759.30 989.48,758.80 989.98,758.30 990.48,757.80 990.97,757.30 991.45,756.80 991.91,756.30 992.35,755.80 992.76,755.30 993.15,754.80 993.49,754.30 993.80,753.80 994.12,753.30 994.45,752.80 994.83,752.30 995.24,751.80 995.66,751.30 996.11,750.80 996.56,750.30 997.03,749.80 997.50,749.30 997.97,748.80 998.43,748.30 998.88,747.80 999.33,747.30 999.78,746.80 1000.23,746.30 1000.68,745.80 1001.13,745.30 1001.59,744.80 1002.05,744.30 1002.52,743.80 1002.99,743.30 1003.49,742.80 1004.01,742.30 1004.54,741.80 1005.07,741.30 1005.60,740.80 1006.11,740.30 1006.59,739.80 1007.05,739.30 1007.47,738.80 1007.88,738.30 1008.30,737.80 1008.72,737.30 1009.11,736.80 1009.48,736.30 1009.82,735.80 1010.11,735.30 1010.35,734.80 1010.53,734.30 1010.68,733.80 1010.81,733.30 1010.93,732.80 1011.04,732.30 1011.14,731.80 1011.24,731.30 1011.32,730.80 1011.40,730.30 1011.48,729.80 1011.55,729.30 1011.62,728.80 1011.70,728.30 1011.77,727.80 1011.85,727.30 1011.93,726.80 1012.02,726.30 1012.12,725.80 1012.22,725.30 1012.33,724.80 1012.45,724.30 1012.57,723.80 1012.69,723.30 1012.81,722.80 1012.94,722.30 1013.07,721.80 1013.20,721.30 1013.33,720.80 1013.46,720.30 1013.59,719.80 1013.73,719.30 1013.86,718.80 1013.99,718.30 1014.12,717.80 1014.25,717.30 1014.38,716.80 1014.50,716.30 1014.62,715.80 1014.75,715.30 1014.87,714.80 1015.00,714.30 1015.12,713.80 1015.25,713.30 1015.37,712.80 1015.50,712.30 1015.62,711.80 1015.74,711.30 1015.87,710.80 1015.99,710.30 1016.11,709.80 1016.22,709.30 1016.34,708.80 1016.46,708.30 1016.57,707.80 1016.68,707.30 1016.79,706.80 1016.90,706.30 1017.00,705.80 1017.11,705.30 1017.22,704.80 1017.32,704.30 1017.43,703.80 1017.53,703.30 1017.64,702.80 1017.74,702.30 1017.84,701.80 1017.93,701.30 1018.03,700.80 1018.12,700.30 1018.21,699.80 1018.30,699.30 1018.39,698.80 1018.47,698.30 1018.57,697.80 1018.69,697.30 1018.81,696.80 1018.93,696.30 1019.05,695.80 1019.17,695.30 1019.29,694.80 1019.41,694.30 1019.52,693.80 1019.63,693.30 1019.74,692.80 1019.83,692.30 1019.92,691.80 1019.99,691.30 1020.04,690.80 1020.08,690.30 1020.11,689.80 1020.14,689.30 1020.16,688.80 1020.18,688.30 1020.20,687.80 1020.21,687.30 1020.23,686.80 1020.25,686.30 1020.26,685.80 1020.27,685.30 1020.29,684.80 1020.30,684.30 1020.31,683.80 1020.32,683.30 1020.33,682.80 1020.33,682.30 1020.34,681.80 1020.34,681.30 1020.35,680.80 1020.35,680.30 1020.35,679.80 1020.35,679.30 1020.35,678.80 1020.35,678.30 1020.35,677.80 1020.35,677.30 1020.35,676.80 1020.35,676.30 1020.35,675.80 1020.35,675.30 1020.35,674.80 1020.35,674.30 1020.35,673.80 1020.35,673.30 1020.35,672.80 1020.35,672.30 1020.35,671.80 1020.35,671.30 1020.35,670.80 1020.35,670.30 1020.35,669.80 1020.35,669.30 1020.35,668.80 1020.35,668.30 1020.35,667.80 1020.35,667.30 1020.35,666.80 1020.35,666.30 1020.35,665.80 1020.35,665.30 1020.35,664.80 1020.35,664.30 1020.35,663.80 1020.35,663.30 1020.35,662.80 1020.35,662.30 1020.35,661.80 1020.35,661.30 1020.35,660.80 1020.35,660.30 1020.35,659.80 1020.35,659.30 1020.35,658.80 1020.35,658.30 1020.35,657.80 1020.35,657.30 1020.35,656.80 1020.35,656.30 1020.35,655.80 1020.35,655.30 1020.35,654.80 1020.35,654.30 1020.35,653.80 1020.35,653.30 1020.35,652.80 1020.35,652.30 1020.35,651.80 1020.35,651.30 1020.35,650.80 1020.35,650.30 1020.35,649.80 1020.35,649.30 1020.35,648.80 1020.35,648.30 1020.35,647.80 1020.35,647.30 1020.35,646.80 1020.35,646.30 1020.35,645.80 1020.35,645.30 1020.35,644.80 1020.35,644.30 1020.35,643.80 1020.35,643.30 1020.35,642.80 1020.35,642.30 1020.36,641.80 1020.36,641.30 1020.36,640.80 1020.36,640.30 1020.36,639.80 1020.36,639.30 1020.36,638.80 1020.36,638.30 1020.36,637.80 1020.36,637.30 1020.36,636.80 1020.36,636.30 1020.36,635.80 1020.36,635.30 1020.36,634.80 1020.36,634.30 1020.36,633.80 1020.36,633.30 1020.36,632.80 1020.36,632.30 1020.36,631.80 1020.36,631.30 1020.36,630.80 1020.36,630.30 1020.36,629.80 1020.36,629.30 1020.36,628.80 1020.37,628.30 1020.37,627.80 1020.37,627.30 1020.37,626.80 1020.37,626.30 1020.37,625.80 1020.37,625.30 1020.37,624.80 1020.37,624.30 1020.37,623.80 1020.37,623.30 1020.37,622.80 1020.37,622.30 1020.37,621.80 1020.37,621.30 1020.37,620.80 1020.37,620.30 1020.37,619.80 1020.37,619.30 1020.38,618.80 1020.38,618.30 1020.38,617.80 1020.38,617.30 1020.38,616.80 1020.38,616.30 1020.38,615.80 1020.38,615.30 1020.38,614.80 1020.38,614.30 1020.38,613.80 1020.38,613.30 1020.38,612.80 1020.38,612.30 1020.38,611.80 1020.39,611.30 1020.39,610.80 1020.39,610.30 1020.39,609.80 1020.39,609.30 1020.39,608.80 1020.39,608.30 1020.39,607.80 1020.39,607.30 1020.39,606.80 1020.39,606.30 1020.39,605.80 1020.39,605.30 1020.40,604.80 1020.40,604.30 1020.40,603.80 1020.40,603.30 1020.40,602.80 1020.40,602.30 1020.40,601.80 1020.40,601.30 1020.40,600.80 1020.40,600.30 1020.40,599.80 1020.40,599.30 1020.41,598.80 1020.41,598.30 1020.41,597.80 1020.41,597.30 1020.41,596.80 1020.41,596.30 1020.41,595.80 1020.41,595.30 1020.41,594.80 1020.41,594.30 1020.41,593.80 1020.42,593.30 1020.42,592.80 1020.42,592.30 1020.42,591.80 1020.42,591.30 1020.42,590.80 1020.42,590.30 1020.42,589.80 1020.42,589.30 1020.42,588.80 1020.43,588.30 1020.43,587.80 1020.43,587.30 1020.43,586.80 1020.43,586.30 1020.43,585.80 1020.43,585.30 1020.43,584.80 1020.43,584.30 1020.43,583.80 1020.44,583.30 1020.44,582.80 1020.44,582.30 1020.44,581.80 1020.44,581.30 1020.44,580.80 1020.44,580.30 1020.44,579.80 1020.44,579.30 1020.45,578.80 1020.45,578.30 1020.45,577.80 1020.45,577.30 1020.45,576.80 1020.45,576.30 1020.45,575.80 1020.45,575.30 1020.45,574.80 1020.45,574.30 1020.45,573.80 1020.45,573.30 1020.45,572.80 1020.45,572.30 1020.45,571.80 1020.45,571.30 1020.45,570.80 1020.45,570.30 1020.45,569.80 1020.45,569.30 1020.45,568.80 1020.45,568.30 1020.45,567.80 1020.45,567.30 1020.45,566.80 1020.45,566.30 1020.45,565.80 1020.45,565.30 1020.45,564.80 1020.45,564.30 1020.45,563.80 1020.45,563.30 1020.45,562.80 1020.45,562.30 1020.45,561.80 1020.45,561.30 1020.45,560.80 1020.45,560.30 1020.45,559.80 1020.45,559.30 1020.45,558.80 1020.45,558.30 1020.45,557.80 1020.45,557.30 1020.45,556.80 1020.45,556.30 1020.45,555.80 1020.45,555.30 1020.45,554.80 1020.45,554.30 1020.45,553.80 1020.45,553.30 1020.45,552.80 1020.45,552.30 1020.45,551.80 1020.45,551.30 1020.45,550.80 1020.45,550.30 1020.45,549.80 1020.45,549.30 1020.45,548.80 1020.45,548.30 1020.45,547.80 1020.45,547.30 1020.45,546.80 1020.45,546.30 1020.45,545.80 1020.45,545.30 1020.45,544.80 1020.45,544.30 1020.45,543.80 1020.45,543.30 1020.45,542.80 1020.45,542.30 1020.45,541.80 1020.45,541.30 1020.45,540.80 1020.45,540.30 1020.45,539.80 1020.45,539.30 1020.45,538.80 1020.45,538.30 1020.45,537.80 1020.45,537.30 1020.45,536.80 1020.45,536.30 1020.45,535.80 1020.45,535.30 1020.45,534.80 1020.45,534.30 1020.45,533.80 1020.45,533.30 1020.45,532.80 1020.45,532.30 1020.45,531.80 1020.45,531.30 1020.45,530.80 1020.45,530.30 1020.45,529.80 1020.45,529.30 1020.45,528.80 1020.45,528.30 1020.45,527.80 1020.45,527.30 1020.45,526.80 1020.45,526.30 1020.45,525.80 1020.45,525.30 1020.45,524.80 1020.45,524.30 1020.45,523.80 1020.45,523.30 1020.45,522.80 1020.45,522.30 1020.45,521.80 1020.45,521.30 1020.45,520.80 1020.45,520.30 1020.45,519.80 1020.45,519.30 1020.45,518.80 1020.45,518.30 1020.45,517.80 1020.45,517.30 1020.45,516.80 1020.45,516.30 1020.45,515.80 1020.45,515.30 1020.45,514.80 1020.45,514.30 1020.45,513.80 1020.45,513.30 1020.45,512.80 1020.45,512.30 Z" fill="#b1cf8e" stroke="#505050" stroke-width="1.8" stroke-linejoin="round"/>
<line x1="976.46" y1="770.30" x2="1064.54" y2="770.30" stroke="#505050" stroke-width="1.7" stroke-dasharray="4.5 4.5"/>
<line x1="932.78" y1="787.60" x2="1108.22" y2="787.60" stroke="#505050" stroke-width="1.7" stroke-dasharray="9 9"/>
<line x1="938.74" y1="799.50" x2="1102.26" y2="799.50" stroke="#505050" stroke-width="1.7" stroke-dasharray="4.5 4.5"/>
<text x="990.5" y="786.1" class="s" font-size="13.3">m = 1.8</text>
<rect x="663.5" y="496.8" width="476.0" height="354.3" fill="none" stroke="#d0d0d0" stroke-width="1.7"/>
</g>
<g>
<text x="1526.5" y="489.5" text-anchor="middle" font-size="26.5">gamma_mean</text>
<text x="1276.1" y="842.2" class="s" text-anchor="end" font-size="13.4">0.5</text>
<text x="1276.1" y="788.2" class="s" text-anchor="end" font-size="13.4">1.0</text>
<text x="1276.1" y="734.1" class="s" text-anchor="end" font-size="13.4">1.5</text>
<text x="1276.1" y="680.1" class="s" text-anchor="end" font-size="13.4">2.0</text>
<text x="1276.1" y="626.1" class="s" text-anchor="end" font-size="13.4">2.5</text>
<text x="1276.1" y="572.0" class="s" text-anchor="end" font-size="13.4">3.0</text>
<text x="1276.1" y="518.0" class="s" text-anchor="end" font-size="13.4">3.5</text>
<text x="1407.5" y="875.1" class="s" text-anchor="middle" font-size="13.4">NR</text>
<text x="1645.5" y="875.1" class="s" text-anchor="middle" font-size="13.4">TSR</text>
<path d="M1407.55,512.30 1407.55,512.80 1407.55,513.30 1407.55,513.80 1407.55,514.30 1407.55,514.80 1407.55,515.30 1407.55,515.80 1407.55,516.30 1407.55,516.80 1407.55,517.30 1407.55,517.80 1407.55,518.30 1407.55,518.80 1407.55,519.30 1407.55,519.80 1407.55,520.30 1407.55,520.80 1407.55,521.30 1407.55,521.80 1407.55,522.30 1407.55,522.80 1407.55,523.30 1407.55,523.80 1407.55,524.30 1407.55,524.80 1407.55,525.30 1407.55,525.80 1407.55,526.30 1407.55,526.80 1407.55,527.30 1407.55,527.80 1407.55,528.30 1407.55,528.80 1407.55,529.30 1407.55,529.80 1407.55,530.30 1407.55,530.80 1407.55,531.30 1407.55,531.80 1407.55,532.30 1407.55,532.80 1407.55,533.30 1407.55,533.80 1407.55,534.30 1407.55,534.80 1407.55,535.30 1407.55,535.80 1407.55,536.30 1407.55,536.80 1407.55,537.30 1407.55,537.80 1407.55,538.30 1407.55,538.80 1407.55,539.30 1407.55,539.80 1407.55,540.30 1407.55,540.80 1407.55,541.30 1407.55,541.80 1407.55,542.30 1407.55,542.80 1407.55,543.30 1407.55,543.80 1407.55,544.30 1407.55,544.80 1407.55,545.30 1407.55,545.80 1407.55,546.30 1407.55,546.80 1407.55,547.30 1407.55,547.80 1407.55,548.30 1407.55,548.80 1407.55,549.30 1407.55,549.80 1407.55,550.30 1407.55,550.80 1407.55,551.30 1407.55,551.80 1407.55,552.30 1407.55,552.80 1407.55,553.30 1407.55,553.80 1407.55,554.30 1407.55,554.80 1407.55,555.30 1407.55,555.80 1407.55,556.30 1407.55,556.80 1407.55,557.30 1407.56,557.80 1407.56,558.30 1407.56,558.80 1407.57,559.30 1407.57,559.80 1407.58,560.30 1407.58,560.80 1407.59,561.30 1407.59,561.80 1407.59,562.30 1407.60,562.80 1407.60,563.30 1407.61,563.80 1407.61,564.30 1407.61,564.80 1407.62,565.30 1407.62,565.80 1407.63,566.30 1407.63,566.80 1407.64,567.30 1407.64,567.80 1407.64,568.30 1407.65,568.80 1407.65,569.30 1407.66,569.80 1407.66,570.30 1407.67,570.80 1407.67,571.30 1407.68,571.80 1407.68,572.30 1407.68,572.80 1407.69,573.30 1407.69,573.80 1407.70,574.30 1407.70,574.80 1407.71,575.30 1407.71,575.80 1407.72,576.30 1407.72,576.80 1407.73,577.30 1407.73,577.80 1407.73,578.30 1407.74,578.80 1407.74,579.30 1407.75,579.80 1407.75,580.30 1407.76,580.80 1407.76,581.30 1407.77,581.80 1407.77,582.30 1407.78,582.80 1407.78,583.30 1407.78,583.80 1407.79,584.30 1407.79,584.80 1407.80,585.30 1407.80,585.80 1407.81,586.30 1407.81,586.80 1407.82,587.30 1407.82,587.80 1407.83,588.30 1407.84,588.80 1407.84,589.30 1407.85,589.80 1407.85,590.30 1407.86,590.80 1407.87,591.30 1407.88,591.80 1407.88,592.30 1407.89,592.80 1407.90,593.30 1407.91,593.80 1407.92,594.30 1407.93,594.80 1407.94,595.30 1407.95,595.80 1407.96,596.30 1407.97,596.80 1407.98,597.30 1407.99,597.80 1408.00,598.30 1408.02,598.80 1408.03,599.30 1408.04,599.80 1408.06,600.30 1408.10,600.80 1408.14,601.30 1408.19,601.80 1408.25,602.30 1408.31,602.80 1408.38,603.30 1408.46,603.80 1408.55,604.30 1408.63,604.80 1408.73,605.30 1408.82,605.80 1408.92,606.30 1409.02,606.80 1409.13,607.30 1409.23,607.80 1409.33,608.30 1409.44,608.80 1409.53,609.30 1409.61,609.80 1409.69,610.30 1409.78,610.80 1409.88,611.30 1409.98,611.80 1410.09,612.30 1410.20,612.80 1410.31,613.30 1410.42,613.80 1410.53,614.30 1410.64,614.80 1410.75,615.30 1410.86,615.80 1410.96,616.30 1411.06,616.80 1411.16,617.30 1411.25,617.80 1411.33,618.30 1411.41,618.80 1411.49,619.30 1411.57,619.80 1411.64,620.30 1411.71,620.80 1411.79,621.30 1411.85,621.80 1411.92,622.30 1411.99,622.80 1412.06,623.30 1412.13,623.80 1412.19,624.30 1412.26,624.80 1412.33,625.30 1412.40,625.80 1412.47,626.30 1412.54,626.80 1412.61,627.30 1412.69,627.80 1412.76,628.30 1412.83,628.80 1412.90,629.30 1412.97,629.80 1413.04,630.30 1413.11,630.80 1413.19,631.30 1413.26,631.80 1413.33,632.30 1413.41,632.80 1413.48,633.30 1413.56,633.80 1413.64,634.30 1413.73,634.80 1413.82,635.30 1413.91,635.80 1414.00,636.30 1414.10,636.80 1414.20,637.30 1414.31,637.80 1414.42,638.30 1414.54,638.80 1414.66,639.30 1414.79,639.80 1414.92,640.30 1415.05,640.80 1415.18,641.30 1415.31,641.80 1415.45,642.30 1415.59,642.80 1415.73,643.30 1415.86,643.80 1416.00,644.30 1416.14,644.80 1416.27,645.30 1416.41,645.80 1416.55,646.30 1416.69,646.80 1416.83,647.30 1416.98,647.80 1417.12,648.30 1417.27,648.80 1417.42,649.30 1417.57,649.80 1417.72,650.30 1417.87,650.80 1418.02,651.30 1418.16,651.80 1418.31,652.30 1418.45,652.80 1418.60,653.30 1418.74,653.80 1418.87,654.30 1419.01,654.80 1419.16,655.30 1419.32,655.80 1419.48,656.30 1419.65,656.80 1419.81,657.30 1419.98,657.80 1420.15,658.30 1420.31,658.80 1420.46,659.30 1420.61,659.80 1420.74,660.30 1420.86,660.80 1420.97,661.30 1421.06,661.80 1421.13,662.30 1421.17,662.80 1421.20,663.30 1421.20,663.80 1421.20,664.30 1421.20,664.80 1421.20,665.30 1421.20,665.80 1421.20,666.30 1421.20,666.80 1421.20,667.30 1421.20,667.80 1421.20,668.30 1421.20,668.80 1421.20,669.30 1421.20,669.80 1421.20,670.30 1421.20,670.80 1421.20,671.30 1421.20,671.80 1421.20,672.30 1421.20,672.80 1421.20,673.30 1421.21,673.80 1421.22,674.30 1421.24,674.80 1421.26,675.30 1421.28,675.80 1421.31,676.30 1421.34,676.80 1421.38,677.30 1421.41,677.80 1421.45,678.30 1421.50,678.80 1421.54,679.30 1421.59,679.80 1421.65,680.30 1421.76,680.80 1421.90,681.30 1422.07,681.80 1422.26,682.30 1422.46,682.80 1422.67,683.30 1422.88,683.80 1423.08,684.30 1423.30,684.80 1423.53,685.30 1423.77,685.80 1424.02,686.30 1424.29,686.80 1424.56,687.30 1424.85,687.80 1425.13,688.30 1425.43,688.80 1425.73,689.30 1426.03,689.80 1426.33,690.30 1426.63,690.80 1426.94,691.30 1427.24,691.80 1427.53,692.30 1427.83,692.80 1428.11,693.30 1428.40,693.80 1428.68,694.30 1428.96,694.80 1429.23,695.30 1429.51,695.80 1429.78,696.30 1430.06,696.80 1430.34,697.30 1430.62,697.80 1430.91,698.30 1431.20,698.80 1431.50,699.30 1431.81,699.80 1432.12,700.30 1432.44,700.80 1432.78,701.30 1433.12,701.80 1433.47,702.30 1433.84,702.80 1434.23,703.30 1434.63,703.80 1435.05,704.30 1435.47,704.80 1435.91,705.30 1436.36,705.80 1436.82,706.30 1437.29,706.80 1437.76,707.30 1438.24,707.80 1438.72,708.30 1439.20,708.80 1439.68,709.30 1440.17,709.80 1440.65,710.30 1441.13,710.80 1441.60,711.30 1442.08,711.80 1442.56,712.30 1443.05,712.80 1443.55,713.30 1444.05,713.80 1444.56,714.30 1445.06,714.80 1445.57,715.30 1446.08,715.80 1446.59,716.30 1447.10,716.80 1447.60,717.30 1448.11,717.80 1448.60,718.30 1449.09,718.80 1449.57,719.30 1450.04,719.80 1450.51,720.30 1450.96,720.80 1451.39,721.30 1451.80,721.80 1452.21,722.30 1452.62,722.80 1453.03,723.30 1453.47,723.80 1453.92,724.30 1454.40,724.80 1454.90,725.30 1455.41,725.80 1455.94,726.30 1456.49,726.80 1457.06,727.30 1457.65,727.80 1458.26,728.30 1458.90,728.80 1459.56,729.30 1460.27,729.80 1461.02,730.30 1461.82,730.80 1462.66,731.30 1463.54,731.80 1464.44,732.30 1465.38,732.80 1466.33,733.30 1467.29,733.80 1468.27,734.30 1469.24,734.80 1470.22,735.30 1471.18,735.80 1472.13,736.30 1473.06,736.80 1473.96,737.30 1474.84,737.80 1475.68,738.30 1476.47,738.80 1477.23,739.30 1477.97,739.80 1478.68,740.30 1479.37,740.80 1480.06,741.30 1480.74,741.80 1481.43,742.30 1482.13,742.80 1482.85,743.30 1483.59,743.80 1484.36,744.30 1485.16,744.80 1486.03,745.30 1486.96,745.80 1487.95,746.30 1488.95,746.80 1489.93,747.30 1490.88,747.80 1491.91,748.30 1492.97,748.80 1493.97,749.30 1494.82,749.80 1495.42,750.30 1495.80,750.80 1496.15,751.30 1496.48,751.80 1496.79,752.30 1497.06,752.80 1497.31,753.30 1497.51,753.80 1497.68,754.30 1497.80,754.80 1497.87,755.30 1497.90,755.80 1497.85,756.30 1497.70,756.80 1497.48,757.30 1497.18,757.80 1496.82,758.30 1496.41,758.80 1495.96,759.30 1495.48,759.80 1494.99,760.30 1494.49,760.80 1494.00,761.30 1493.45,761.80 1492.81,762.30 1492.11,762.80 1491.34,763.30 1490.52,763.80 1489.66,764.30 1488.77,764.80 1487.86,765.30 1486.95,765.80 1486.04,766.30 1485.13,766.80 1484.16,767.30 1483.12,767.80 1482.03,768.30 1480.92,768.80 1479.80,769.30 1478.69,769.80 1477.63,770.30 1476.62,770.80 1475.68,771.30 1474.85,771.80 1474.11,772.30 1473.42,772.80 1472.76,773.30 1472.13,773.80 1471.53,774.30 1470.95,774.80 1470.40,775.30 1469.86,775.80 1469.33,776.30 1468.81,776.80 1468.30,777.30 1467.79,777.80 1467.29,778.30 1466.81,778.80 1466.33,779.30 1465.87,779.80 1465.41,780.30 1464.97,780.80 1464.54,781.30 1464.12,781.80 1463.72,782.30 1463.32,782.80 1462.96,783.30 1462.63,783.80 1462.33,784.30 1462.04,784.80 1461.75,785.30 1461.45,785.80 1461.14,786.30 1460.80,786.80 1460.42,787.30 1459.99,787.80 1459.49,788.30 1458.88,788.80 1458.15,789.30 1457.32,789.80 1456.42,790.30 1455.46,790.80 1454.45,791.30 1453.43,791.80 1452.39,792.30 1451.37,792.80 1450.38,793.30 1449.43,793.80 1448.46,794.30 1447.48,794.80 1446.49,795.30 1445.48,795.80 1444.47,796.30 1443.45,796.80 1442.44,797.30 1441.42,797.80 1440.41,798.30 1439.40,798.80 1438.40,799.30 1437.39,799.80 1436.37,800.30 1435.35,800.80 1434.34,801.30 1433.32,801.80 1432.31,802.30 1431.32,802.80 1430.33,803.30 1429.36,803.80 1428.40,804.30 1427.44,804.80 1426.47,805.30 1425.49,805.80 1424.52,806.30 1423.56,806.80 1422.62,807.30 1421.71,807.80 1420.84,808.30 1420.02,808.80 1419.26,809.30 1418.57,809.80 1417.91,810.30 1417.27,810.80 1416.66,811.30 1416.07,811.80 1415.51,812.30 1414.98,812.80 1414.47,813.30 1414.00,813.80 1413.56,814.30 1413.15,814.80 1412.78,815.30 1412.42,815.80 1412.07,816.30 1411.75,816.80 1411.43,817.30 1411.14,817.80 1410.86,818.30 1410.60,818.80 1410.36,819.30 1410.14,819.80 1409.94,820.30 1409.75,820.80 1409.57,821.30 1409.36,821.80 1409.12,822.30 1408.90,822.80 1408.69,823.30 1408.49,823.80 1408.32,824.30 1408.16,824.80 1408.03,825.30 1407.95,825.80 1407.88,826.30 1407.81,826.80 1407.74,827.30 1407.67,827.80 1407.60,828.30 1407.55,828.80 1407.55,829.30 1407.55,829.80 1407.55,830.30 1407.55,830.80 1407.55,831.30 1407.55,831.80 1407.55,832.30 1407.55,832.80 1407.55,833.30 1407.55,833.80 1407.55,834.30 1407.55,834.80 1407.55,835.30 1407.55,835.50 L1407.45,835.50 1407.45,835.30 1407.45,834.80 1407.45,834.30 1407.45,833.80 1407.45,833.30 1407.45,832.80 1407.45,832.30 1407.45,831.80 1407.45,831.30 1407.45,830.80 1407.45,830.30 1407.45,829.80 1407.45,829.30 1407.45,828.80 1407.40,828.30 1407.33,827.80 1407.26,827.30 1407.19,826.80 1407.12,826.30 1407.05,825.80 1406.97,825.30 1406.84,824.80 1406.68,824.30 1406.51,823.80 1406.31,823.30 1406.10,822.80 1405.88,822.30 1405.64,821.80 1405.43,821.30 1405.25,820.80 1405.06,820.30 1404.86,819.80 1404.64,819.30 1404.40,818.80 1404.14,818.30 1403.86,817.80 1403.57,817.30 1403.25,816.80 1402.93,816.30 1402.58,815.80 1402.22,815.30 1401.85,814.80 1401.44,814.30 1401.00,813.80 1400.53,813.30 1400.02,812.80 1399.49,812.30 1398.93,811.80 1398.34,811.30 1397.73,810.80 1397.09,810.30 1396.43,809.80 1395.74,809.30 1394.98,808.80 1394.16,808.30 1393.29,807.80 1392.38,807.30 1391.44,806.80 1390.48,806.30 1389.51,805.80 1388.53,805.30 1387.56,804.80 1386.60,804.30 1385.64,803.80 1384.67,803.30 1383.68,802.80 1382.69,802.30 1381.68,801.80 1380.66,801.30 1379.65,800.80 1378.63,800.30 1377.61,799.80 1376.60,799.30 1375.60,798.80 1374.59,798.30 1373.58,797.80 1372.56,797.30 1371.55,796.80 1370.53,796.30 1369.52,795.80 1368.51,795.30 1367.52,794.80 1366.54,794.30 1365.57,793.80 1364.62,793.30 1363.63,792.80 1362.61,792.30 1361.57,791.80 1360.55,791.30 1359.54,790.80 1358.58,790.30 1357.68,789.80 1356.85,789.30 1356.12,788.80 1355.51,788.30 1355.01,787.80 1354.58,787.30 1354.20,786.80 1353.86,786.30 1353.55,785.80 1353.25,785.30 1352.96,784.80 1352.67,784.30 1352.37,783.80 1352.04,783.30 1351.68,782.80 1351.28,782.30 1350.88,781.80 1350.46,781.30 1350.03,780.80 1349.59,780.30 1349.13,779.80 1348.67,779.30 1348.19,778.80 1347.71,778.30 1347.21,777.80 1346.70,777.30 1346.19,776.80 1345.67,776.30 1345.14,775.80 1344.60,775.30 1344.05,774.80 1343.47,774.30 1342.87,773.80 1342.24,773.30 1341.58,772.80 1340.89,772.30 1340.15,771.80 1339.32,771.30 1338.38,770.80 1337.37,770.30 1336.31,769.80 1335.20,769.30 1334.08,768.80 1332.97,768.30 1331.88,767.80 1330.84,767.30 1329.87,766.80 1328.96,766.30 1328.05,765.80 1327.14,765.30 1326.23,764.80 1325.34,764.30 1324.48,763.80 1323.66,763.30 1322.89,762.80 1322.19,762.30 1321.55,761.80 1321.00,761.30 1320.51,760.80 1320.01,760.30 1319.52,759.80 1319.04,759.30 1318.59,758.80 1318.18,758.30 1317.82,757.80 1317.52,757.30 1317.30,756.80 1317.15,756.30 1317.10,755.80 1317.13,755.30 1317.20,754.80 1317.32,754.30 1317.49,753.80 1317.69,753.30 1317.94,752.80 1318.21,752.30 1318.52,751.80 1318.85,751.30 1319.20,750.80 1319.58,750.30 1320.18,749.80 1321.03,749.30 1322.03,748.80 1323.09,748.30 1324.12,747.80 1325.07,747.30 1326.05,746.80 1327.05,746.30 1328.04,745.80 1328.97,745.30 1329.84,744.80 1330.64,744.30 1331.41,743.80 1332.15,743.30 1332.87,742.80 1333.57,742.30 1334.26,741.80 1334.94,741.30 1335.63,740.80 1336.32,740.30 1337.03,739.80 1337.77,739.30 1338.53,738.80 1339.32,738.30 1340.16,737.80 1341.04,737.30 1341.94,736.80 1342.87,736.30 1343.82,735.80 1344.78,735.30 1345.76,734.80 1346.73,734.30 1347.71,733.80 1348.67,733.30 1349.62,732.80 1350.56,732.30 1351.46,731.80 1352.34,731.30 1353.18,730.80 1353.98,730.30 1354.73,729.80 1355.44,729.30 1356.10,728.80 1356.74,728.30 1357.35,727.80 1357.94,727.30 1358.51,726.80 1359.06,726.30 1359.59,725.80 1360.10,725.30 1360.60,724.80 1361.08,724.30 1361.53,723.80 1361.97,723.30 1362.38,722.80 1362.79,722.30 1363.20,721.80 1363.61,721.30 1364.04,720.80 1364.49,720.30 1364.96,719.80 1365.43,719.30 1365.91,718.80 1366.40,718.30 1366.89,717.80 1367.40,717.30 1367.90,716.80 1368.41,716.30 1368.92,715.80 1369.43,715.30 1369.94,714.80 1370.44,714.30 1370.95,713.80 1371.45,713.30 1371.95,712.80 1372.44,712.30 1372.92,711.80 1373.40,711.30 1373.87,710.80 1374.35,710.30 1374.83,709.80 1375.32,709.30 1375.80,708.80 1376.28,708.30 1376.76,707.80 1377.24,707.30 1377.71,706.80 1378.18,706.30 1378.64,705.80 1379.09,705.30 1379.53,704.80 1379.95,704.30 1380.37,703.80 1380.77,703.30 1381.16,702.80 1381.53,702.30 1381.88,701.80 1382.22,701.30 1382.56,700.80 1382.88,700.30 1383.19,699.80 1383.50,699.30 1383.80,698.80 1384.09,698.30 1384.38,697.80 1384.66,697.30 1384.94,696.80 1385.22,696.30 1385.49,695.80 1385.77,695.30 1386.04,694.80 1386.32,694.30 1386.60,693.80 1386.89,693.30 1387.17,692.80 1387.47,692.30 1387.76,691.80 1388.06,691.30 1388.37,690.80 1388.67,690.30 1388.97,689.80 1389.27,689.30 1389.57,688.80 1389.87,688.30 1390.15,687.80 1390.44,687.30 1390.71,686.80 1390.98,686.30 1391.23,685.80 1391.47,685.30 1391.70,684.80 1391.92,684.30 1392.12,683.80 1392.33,683.30 1392.54,682.80 1392.74,682.30 1392.93,681.80 1393.10,681.30 1393.24,680.80 1393.35,680.30 1393.41,679.80 1393.46,679.30 1393.50,678.80 1393.55,678.30 1393.59,677.80 1393.62,677.30 1393.66,676.80 1393.69,676.30 1393.72,675.80 1393.74,675.30 1393.76,674.80 1393.78,674.30 1393.79,673.80 1393.80,673.30 1393.80,672.80 1393.80,672.30 1393.80,671.80 1393.80,671.30 1393.80,670.80 1393.80,670.30 1393.80,669.80 1393.80,669.30 1393.80,668.80 1393.80,668.30 1393.80,667.80 1393.80,667.30 1393.80,666.80 1393.80,666.30 1393.80,665.80 1393.80,665.30 1393.80,664.80 1393.80,664.30 1393.80,663.80 1393.80,663.30 1393.83,662.80 1393.87,662.30 1393.94,661.80 1394.03,661.30 1394.14,660.80 1394.26,660.30 1394.39,659.80 1394.54,659.30 1394.69,658.80 1394.85,658.30 1395.02,657.80 1395.19,657.30 1395.35,656.80 1395.52,656.30 1395.68,655.80 1395.84,655.30 1395.99,654.80 1396.13,654.30 1396.26,653.80 1396.40,653.30 1396.55,652.80 1396.69,652.30 1396.84,651.80 1396.98,651.30 1397.13,650.80 1397.28,650.30 1397.43,649.80 1397.58,649.30 1397.73,648.80 1397.88,648.30 1398.02,647.80 1398.17,647.30 1398.31,646.80 1398.45,646.30 1398.59,645.80 1398.73,645.30 1398.86,644.80 1399.00,644.30 1399.14,643.80 1399.27,643.30 1399.41,642.80 1399.55,642.30 1399.69,641.80 1399.82,641.30 1399.95,640.80 1400.08,640.30 1400.21,639.80 1400.34,639.30 1400.46,638.80 1400.58,638.30 1400.69,637.80 1400.80,637.30 1400.90,636.80 1401.00,636.30 1401.09,635.80 1401.18,635.30 1401.27,634.80 1401.36,634.30 1401.44,633.80 1401.52,633.30 1401.59,632.80 1401.67,632.30 1401.74,631.80 1401.81,631.30 1401.89,630.80 1401.96,630.30 1402.03,629.80 1402.10,629.30 1402.17,628.80 1402.24,628.30 1402.31,627.80 1402.39,627.30 1402.46,626.80 1402.53,626.30 1402.60,625.80 1402.67,625.30 1402.74,624.80 1402.81,624.30 1402.87,623.80 1402.94,623.30 1403.01,622.80 1403.08,622.30 1403.15,621.80 1403.21,621.30 1403.29,620.80 1403.36,620.30 1403.43,619.80 1403.51,619.30 1403.59,618.80 1403.67,618.30 1403.75,617.80 1403.84,617.30 1403.94,616.80 1404.04,616.30 1404.14,615.80 1404.25,615.30 1404.36,614.80 1404.47,614.30 1404.58,613.80 1404.69,613.30 1404.80,612.80 1404.91,612.30 1405.02,611.80 1405.12,611.30 1405.22,610.80 1405.31,610.30 1405.39,609.80 1405.47,609.30 1405.56,608.80 1405.67,608.30 1405.77,607.80 1405.87,607.30 1405.98,606.80 1406.08,606.30 1406.18,605.80 1406.27,605.30 1406.37,604.80 1406.45,604.30 1406.54,603.80 1406.62,603.30 1406.69,602.80 1406.75,602.30 1406.81,601.80 1406.86,601.30 1406.90,600.80 1406.94,600.30 1406.96,599.80 1406.97,599.30 1406.98,598.80 1407.00,598.30 1407.01,597.80 1407.02,597.30 1407.03,596.80 1407.04,596.30 1407.05,595.80 1407.06,595.30 1407.07,594.80 1407.08,594.30 1407.09,593.80 1407.10,593.30 1407.11,592.80 1407.12,592.30 1407.12,591.80 1407.13,591.30 1407.14,590.80 1407.15,590.30 1407.15,589.80 1407.16,589.30 1407.16,588.80 1407.17,588.30 1407.18,587.80 1407.18,587.30 1407.19,586.80 1407.19,586.30 1407.20,585.80 1407.20,585.30 1407.21,584.80 1407.21,584.30 1407.22,583.80 1407.22,583.30 1407.22,582.80 1407.23,582.30 1407.23,581.80 1407.24,581.30 1407.24,580.80 1407.25,580.30 1407.25,579.80 1407.26,579.30 1407.26,578.80 1407.27,578.30 1407.27,577.80 1407.27,577.30 1407.28,576.80 1407.28,576.30 1407.29,575.80 1407.29,575.30 1407.30,574.80 1407.30,574.30 1407.31,573.80 1407.31,573.30 1407.32,572.80 1407.32,572.30 1407.32,571.80 1407.33,571.30 1407.33,570.80 1407.34,570.30 1407.34,569.80 1407.35,569.30 1407.35,568.80 1407.36,568.30 1407.36,567.80 1407.36,567.30 1407.37,566.80 1407.37,566.30 1407.38,565.80 1407.38,565.30 1407.39,564.80 1407.39,564.30 1407.39,563.80 1407.40,563.30 1407.40,562.80 1407.41,562.30 1407.41,561.80 1407.41,561.30 1407.42,560.80 1407.42,560.30 1407.43,559.80 1407.43,559.30 1407.44,558.80 1407.44,558.30 1407.44,557.80 1407.45,557.30 1407.45,556.80 1407.45,556.30 1407.45,555.80 1407.45,555.30 1407.45,554.80 1407.45,554.30 1407.45,553.80 1407.45,553.30 1407.45,552.80 1407.45,552.30 1407.45,551.80 1407.45,551.30 1407.45,550.80 1407.45,550.30 1407.45,549.80 1407.45,549.30 1407.45,548.80 1407.45,548.30 1407.45,547.80 1407.45,547.30 1407.45,546.80 1407.45,546.30 1407.45,545.80 1407.45,545.30 1407.45,544.80 1407.45,544.30 1407.45,543.80 1407.45,543.30 1407.45,542.80 1407.45,542.30 1407.45,541.80 1407.45,541.30 1407.45,540.80 1407.45,540.30 1407.45,539.80 1407.45,539.30 1407.45,538.80 1407.45,538.30 1407.45,537.80 1407.45,537.30 1407.45,536.80 1407.45,536.30 1407.45,535.80 1407.45,535.30 1407.45,534.80 1407.45,534.30 1407.45,533.80 1407.45,533.30 1407.45,532.80 1407.45,532.30 1407.45,531.80 1407.45,531.30 1407.45,530.80 1407.45,530.30 1407.45,529.80 1407.45,529.30 1407.45,528.80 1407.45,528.30 1407.45,527.80 1407.45,527.30 1407.45,526.80 1407.45,526.30 1407.45,525.80 1407.45,525.30 1407.45,524.80 1407.45,524.30 1407.45,523.80 1407.45,523.30 1407.45,522.80 1407.45,522.30 1407.45,521.80 1407.45,521.30 1407.45,520.80 1407.45,520.30 1407.45,519.80 1407.45,519.30 1407.45,518.80 1407.45,518.30 1407.45,517.80 1407.45,517.30 1407.45,516.80 1407.45,516.30 1407.45,515.80 1407.45,515.30 1407.45,514.80 1407.45,514.30 1407.45,513.80 1407.45,513.30 1407.45,512.80 1407.45,512.30 Z" fill="#5199b5" stroke="#505050" stroke-width="1.8" stroke-linejoin="round"/>
<line x1="1360.70" y1="724.70" x2="1454.30" y2="724.70" stroke="#505050" stroke-width="1.7" stroke-dasharray="4.5 4.5"/>
<line x1="1318.58" y1="751.70" x2="1496.42" y2="751.70" stroke="#505050" stroke-width="1.7" stroke-dasharray="9 9"/>
<line x1="1340.30" y1="771.90" x2="1474.70" y2="771.90" stroke="#505050" stroke-width="1.7" stroke-dasharray="4.5 4.5"/>
<text x="1377.3" y="749.5" class="s" font-size="13.3">m = 1.3</text>
<path d="M1645.55,519.00 1645.55,519.50 1645.55,520.00 1645.55,520.50 1645.55,521.00 1645.55,521.50 1645.55,522.00 1645.55,522.50 1645.55,523.00 1645.55,523.50 1645.55,524.00 1645.55,524.50 1645.55,525.00 1645.55,525.50 1645.55,526.00 1645.55,526.50 1645.55,527.00 1645.55,527.50 1645.55,528.00 1645.55,528.50 1645.55,529.00 1645.55,529.50 1645.55,530.00 1645.55,530.50 1645.55,531.00 1645.55,531.50 1645.55,532.00 1645.55,532.50 1645.55,533.00 1645.55,533.50 1645.55,534.00 1645.55,534.50 1645.55,535.00 1645.55,535.50 1645.55,536.00 1645.55,536.50 1645.55,537.00 1645.55,537.50 1645.55,538.00 1645.55,538.50 1645.55,539.00 1645.55,539.50 1645.55,540.00 1645.55,540.50 1645.55,541.00 1645.55,541.50 1645.55,542.00 1645.55,542.50 1645.55,543.00 1645.55,543.50 1645.55,544.00 1645.55,544.50 1645.55,545.00 1645.55,545.50 1645.55,546.00 1645.55,546.50 1645.55,547.00 1645.55,547.50 1645.55,548.00 1645.55,548.50 1645.55,549.00 1645.55,549.50 1645.55,550.00 1645.55,550.50 1645.55,551.00 1645.55,551.50 1645.55,552.00 1645.55,552.50 1645.55,553.00 1645.55,553.50 1645.55,554.00 1645.55,554.50 1645.55,555.00 1645.55,555.50 1645.55,556.00 1645.55,556.50 1645.55,557.00 1645.55,557.50 1645.55,558.00 1645.55,558.50 1645.55,559.00 1645.55,559.50 1645.55,560.00 1645.55,560.50 1645.55,561.00 1645.55,561.50 1645.55,562.00 1645.55,562.50 1645.55,563.00 1645.55,563.50 1645.55,564.00 1645.55,564.50 1645.55,565.00 1645.55,565.50 1645.55,566.00 1645.55,566.50 1645.55,567.00 1645.55,567.50 1645.55,568.00 1645.55,568.50 1645.55,569.00 1645.55,569.50 1645.55,570.00 1645.55,570.50 1645.55,571.00 1645.55,571.50 1645.55,572.00 1645.55,572.50 1645.55,573.00 1645.55,573.50 1645.55,574.00 1645.55,574.50 1645.55,575.00 1645.55,575.50 1645.55,576.00 1645.55,576.50 1645.55,577.00 1645.55,577.50 1645.56,578.00 1645.56,578.50 1645.56,579.00 1645.57,579.50 1645.57,580.00 1645.57,580.50 1645.58,581.00 1645.58,581.50 1645.59,582.00 1645.59,582.50 1645.59,583.00 1645.60,583.50 1645.60,584.00 1645.61,584.50 1645.61,585.00 1645.61,585.50 1645.62,586.00 1645.62,586.50 1645.63,587.00 1645.63,587.50 1645.64,588.00 1645.64,588.50 1645.64,589.00 1645.65,589.50 1645.65,590.00 1645.66,590.50 1645.66,591.00 1645.67,591.50 1645.67,592.00 1645.68,592.50 1645.68,593.00 1645.69,593.50 1645.69,594.00 1645.69,594.50 1645.70,595.00 1645.70,595.50 1645.71,596.00 1645.71,596.50 1645.72,597.00 1645.72,597.50 1645.73,598.00 1645.73,598.50 1645.74,599.00 1645.74,599.50 1645.75,600.00 1645.76,600.50 1645.76,601.00 1645.77,601.50 1645.78,602.00 1645.79,602.50 1645.80,603.00 1645.81,603.50 1645.82,604.00 1645.84,604.50 1645.85,605.00 1645.87,605.50 1645.89,606.00 1645.90,606.50 1645.92,607.00 1645.94,607.50 1645.96,608.00 1645.98,608.50 1646.00,609.00 1646.03,609.50 1646.05,610.00 1646.09,610.50 1646.13,611.00 1646.18,611.50 1646.24,612.00 1646.31,612.50 1646.38,613.00 1646.45,613.50 1646.53,614.00 1646.61,614.50 1646.70,615.00 1646.79,615.50 1646.88,616.00 1646.98,616.50 1647.07,617.00 1647.17,617.50 1647.27,618.00 1647.38,618.50 1647.48,619.00 1647.56,619.50 1647.64,620.00 1647.73,620.50 1647.82,621.00 1647.92,621.50 1648.02,622.00 1648.13,622.50 1648.23,623.00 1648.35,623.50 1648.46,624.00 1648.57,624.50 1648.68,625.00 1648.79,625.50 1648.89,626.00 1649.00,626.50 1649.10,627.00 1649.19,627.50 1649.28,628.00 1649.37,628.50 1649.46,629.00 1649.56,629.50 1649.66,630.00 1649.76,630.50 1649.86,631.00 1649.96,631.50 1650.05,632.00 1650.14,632.50 1650.21,633.00 1650.28,633.50 1650.33,634.00 1650.37,634.50 1650.39,635.00 1650.40,635.50 1650.40,636.00 1650.39,636.50 1650.39,637.00 1650.38,637.50 1650.37,638.00 1650.36,638.50 1650.35,639.00 1650.34,639.50 1650.32,640.00 1650.31,640.50 1650.30,641.00 1650.28,641.50 1650.27,642.00 1650.26,642.50 1650.24,643.00 1650.23,643.50 1650.22,644.00 1650.21,644.50 1650.21,645.00 1650.20,645.50 1650.20,646.00 1650.20,646.50 1650.21,647.00 1650.22,647.50 1650.24,648.00 1650.27,648.50 1650.30,649.00 1650.34,649.50 1650.39,650.00 1650.44,650.50 1650.49,651.00 1650.55,651.50 1650.61,652.00 1650.68,652.50 1650.74,653.00 1650.81,653.50 1650.89,654.00 1650.96,654.50 1651.04,655.00 1651.12,655.50 1651.21,656.00 1651.31,656.50 1651.43,657.00 1651.57,657.50 1651.72,658.00 1651.88,658.50 1652.06,659.00 1652.24,659.50 1652.43,660.00 1652.63,660.50 1652.84,661.00 1653.05,661.50 1653.26,662.00 1653.48,662.50 1653.69,663.00 1653.91,663.50 1654.13,664.00 1654.34,664.50 1654.57,665.00 1654.81,665.50 1655.06,666.00 1655.32,666.50 1655.60,667.00 1655.88,667.50 1656.16,668.00 1656.45,668.50 1656.75,669.00 1657.04,669.50 1657.33,670.00 1657.62,670.50 1657.91,671.00 1658.19,671.50 1658.46,672.00 1658.72,672.50 1658.96,673.00 1659.20,673.50 1659.43,674.00 1659.66,674.50 1659.89,675.00 1660.12,675.50 1660.35,676.00 1660.58,676.50 1660.80,677.00 1661.02,677.50 1661.24,678.00 1661.45,678.50 1661.65,679.00 1661.84,679.50 1662.02,680.00 1662.20,680.50 1662.36,681.00 1662.51,681.50 1662.65,682.00 1662.78,682.50 1662.89,683.00 1662.99,683.50 1663.08,684.00 1663.16,684.50 1663.24,685.00 1663.32,685.50 1663.39,686.00 1663.45,686.50 1663.52,687.00 1663.59,687.50 1663.67,688.00 1663.75,688.50 1663.83,689.00 1663.92,689.50 1664.02,690.00 1664.13,690.50 1664.24,691.00 1664.36,691.50 1664.49,692.00 1664.63,692.50 1664.77,693.00 1664.92,693.50 1665.07,694.00 1665.23,694.50 1665.38,695.00 1665.54,695.50 1665.71,696.00 1665.90,696.50 1666.10,697.00 1666.32,697.50 1666.56,698.00 1666.84,698.50 1667.18,699.00 1667.62,699.50 1668.16,700.00 1668.76,700.50 1669.42,701.00 1670.11,701.50 1670.81,702.00 1671.50,702.50 1672.17,703.00 1672.82,703.50 1673.50,704.00 1674.19,704.50 1674.91,705.00 1675.64,705.50 1676.38,706.00 1677.13,706.50 1677.88,707.00 1678.63,707.50 1679.38,708.00 1680.12,708.50 1680.85,709.00 1681.57,709.50 1682.26,710.00 1682.94,710.50 1683.58,711.00 1684.20,711.50 1684.78,712.00 1685.33,712.50 1685.86,713.00 1686.37,713.50 1686.87,714.00 1687.36,714.50 1687.84,715.00 1688.30,715.50 1688.76,716.00 1689.20,716.50 1689.64,717.00 1690.07,717.50 1690.50,718.00 1690.92,718.50 1691.33,719.00 1691.74,719.50 1692.15,720.00 1692.55,720.50 1692.96,721.00 1693.36,721.50 1693.75,722.00 1694.11,722.50 1694.46,723.00 1694.81,723.50 1695.14,724.00 1695.47,724.50 1695.81,725.00 1696.14,725.50 1696.49,726.00 1696.85,726.50 1697.23,727.00 1697.63,727.50 1698.05,728.00 1698.51,728.50 1698.99,729.00 1699.51,729.50 1700.06,730.00 1700.64,730.50 1701.25,731.00 1701.88,731.50 1702.54,732.00 1703.23,732.50 1703.94,733.00 1704.66,733.50 1705.41,734.00 1706.18,734.50 1706.96,735.00 1707.79,735.50 1708.67,736.00 1709.60,736.50 1710.57,737.00 1711.57,737.50 1712.60,738.00 1713.64,738.50 1714.70,739.00 1715.76,739.50 1716.82,740.00 1717.87,740.50 1718.89,741.00 1719.90,741.50 1720.92,742.00 1721.96,742.50 1723.01,743.00 1724.06,743.50 1725.11,744.00 1726.15,744.50 1727.17,745.00 1728.16,745.50 1729.12,746.00 1730.04,746.50 1730.93,747.00 1731.85,747.50 1732.77,748.00 1733.69,748.50 1734.59,749.00 1735.46,749.50 1736.29,750.00 1737.05,750.50 1737.74,751.00 1738.34,751.50 1738.83,752.00 1739.24,752.50 1739.63,753.00 1739.97,753.50 1740.21,754.00 1740.30,754.50 1740.22,755.00 1740.00,755.50 1739.64,756.00 1739.18,756.50 1738.63,757.00 1738.00,757.50 1737.32,758.00 1736.61,758.50 1735.88,759.00 1735.14,759.50 1734.37,760.00 1733.45,760.50 1732.39,761.00 1731.24,761.50 1730.01,762.00 1728.72,762.50 1727.40,763.00 1726.09,763.50 1724.79,764.00 1723.54,764.50 1722.33,765.00 1721.08,765.50 1719.82,766.00 1718.54,766.50 1717.26,767.00 1715.99,767.50 1714.74,768.00 1713.52,768.50 1712.33,769.00 1711.20,769.50 1710.08,770.00 1708.93,770.50 1707.78,771.00 1706.65,771.50 1705.56,772.00 1704.53,772.50 1703.57,773.00 1702.71,773.50 1701.98,774.00 1701.36,774.50 1700.76,775.00 1700.20,775.50 1699.76,776.00 1699.52,776.50 1699.51,777.00 1699.54,777.50 1699.60,778.00 1699.69,778.50 1699.79,779.00 1699.91,779.50 1700.04,780.00 1700.18,780.50 1700.32,781.00 1700.46,781.50 1700.60,782.00 1700.75,782.50 1700.94,783.00 1701.16,783.50 1701.39,784.00 1701.64,784.50 1701.90,785.00 1702.14,785.50 1702.38,786.00 1702.60,786.50 1702.78,787.00 1702.93,787.50 1703.04,788.00 1703.09,788.50 1703.09,789.00 1703.05,789.50 1702.97,790.00 1702.85,790.50 1702.70,791.00 1702.53,791.50 1702.32,792.00 1702.10,792.50 1701.86,793.00 1701.60,793.50 1701.23,794.00 1700.66,794.50 1699.92,795.00 1699.05,795.50 1698.07,796.00 1697.02,796.50 1695.93,797.00 1694.82,797.50 1693.74,798.00 1692.69,798.50 1691.63,799.00 1690.52,799.50 1689.35,800.00 1688.16,800.50 1686.93,801.00 1685.68,801.50 1684.42,802.00 1683.16,802.50 1681.90,803.00 1680.64,803.50 1679.35,804.00 1678.03,804.50 1676.70,805.00 1675.36,805.50 1674.02,806.00 1672.69,806.50 1671.39,807.00 1670.12,807.50 1668.90,808.00 1667.70,808.50 1666.49,809.00 1665.28,809.50 1664.09,810.00 1662.92,810.50 1661.80,811.00 1660.74,811.50 1659.73,812.00 1658.81,812.50 1657.97,813.00 1657.19,813.50 1656.43,814.00 1655.72,814.50 1655.04,815.00 1654.39,815.50 1653.77,816.00 1653.19,816.50 1652.63,817.00 1652.10,817.50 1651.59,818.00 1651.10,818.50 1650.61,819.00 1650.14,819.50 1649.69,820.00 1649.27,820.50 1648.89,821.00 1648.53,821.50 1648.22,822.00 1647.95,822.50 1647.70,823.00 1647.46,823.50 1647.15,824.00 1646.85,824.50 1646.58,825.00 1646.34,825.50 1646.12,826.00 1645.97,826.50 1645.85,827.00 1645.74,827.50 1645.64,828.00 1645.55,828.50 1645.55,829.00 1645.55,829.50 1645.55,830.00 1645.55,830.50 1645.55,831.00 1645.55,831.50 1645.55,832.00 1645.55,832.50 L1645.45,832.50 1645.45,832.00 1645.45,831.50 1645.45,831.00 1645.45,830.50 1645.45,830.00 1645.45,829.50 1645.45,829.00 1645.45,828.50 1645.36,828.00 1645.26,827.50 1645.15,827.00 1645.03,826.50 1644.88,826.00 1644.66,825.50 1644.42,825.00 1644.15,824.50 1643.85,824.00 1643.54,823.50 1643.30,823.00 1643.05,822.50 1642.78,822.00 1642.47,821.50 1642.11,821.00 1641.73,820.50 1641.31,820.00 1640.86,819.50 1640.39,819.00 1639.90,818.50 1639.41,818.00 1638.90,817.50 1638.37,817.00 1637.81,816.50 1637.23,816.00 1636.61,815.50 1635.96,815.00 1635.28,814.50 1634.57,814.00 1633.81,813.50 1633.03,813.00 1632.19,812.50 1631.27,812.00 1630.26,811.50 1629.20,811.00 1628.08,810.50 1626.91,810.00 1625.72,809.50 1624.51,809.00 1623.30,808.50 1622.10,808.00 1620.88,807.50 1619.61,807.00 1618.31,806.50 1616.98,806.00 1615.64,805.50 1614.30,805.00 1612.97,804.50 1611.65,804.00 1610.36,803.50 1609.10,803.00 1607.84,802.50 1606.58,802.00 1605.32,801.50 1604.07,801.00 1602.84,800.50 1601.65,800.00 1600.48,799.50 1599.37,799.00 1598.31,798.50 1597.26,798.00 1596.18,797.50 1595.07,797.00 1593.98,796.50 1592.93,796.00 1591.95,795.50 1591.08,795.00 1590.34,794.50 1589.77,794.00 1589.40,793.50 1589.14,793.00 1588.90,792.50 1588.68,792.00 1588.47,791.50 1588.30,791.00 1588.15,790.50 1588.03,790.00 1587.95,789.50 1587.91,789.00 1587.91,788.50 1587.96,788.00 1588.07,787.50 1588.22,787.00 1588.40,786.50 1588.62,786.00 1588.86,785.50 1589.10,785.00 1589.36,784.50 1589.61,784.00 1589.84,783.50 1590.06,783.00 1590.25,782.50 1590.40,782.00 1590.54,781.50 1590.68,781.00 1590.82,780.50 1590.96,780.00 1591.09,779.50 1591.21,779.00 1591.31,778.50 1591.40,778.00 1591.46,777.50 1591.49,777.00 1591.48,776.50 1591.24,776.00 1590.80,775.50 1590.24,775.00 1589.64,774.50 1589.02,774.00 1588.29,773.50 1587.43,773.00 1586.47,772.50 1585.44,772.00 1584.35,771.50 1583.22,771.00 1582.07,770.50 1580.92,770.00 1579.80,769.50 1578.67,769.00 1577.48,768.50 1576.26,768.00 1575.01,767.50 1573.74,767.00 1572.46,766.50 1571.18,766.00 1569.92,765.50 1568.67,765.00 1567.46,764.50 1566.21,764.00 1564.91,763.50 1563.60,763.00 1562.28,762.50 1560.99,762.00 1559.76,761.50 1558.61,761.00 1557.55,760.50 1556.63,760.00 1555.86,759.50 1555.12,759.00 1554.39,758.50 1553.68,758.00 1553.00,757.50 1552.37,757.00 1551.82,756.50 1551.36,756.00 1551.00,755.50 1550.78,755.00 1550.70,754.50 1550.79,754.00 1551.03,753.50 1551.37,753.00 1551.76,752.50 1552.17,752.00 1552.66,751.50 1553.26,751.00 1553.95,750.50 1554.71,750.00 1555.54,749.50 1556.41,749.00 1557.31,748.50 1558.23,748.00 1559.15,747.50 1560.07,747.00 1560.96,746.50 1561.88,746.00 1562.84,745.50 1563.83,745.00 1564.85,744.50 1565.89,744.00 1566.94,743.50 1567.99,743.00 1569.04,742.50 1570.08,742.00 1571.10,741.50 1572.11,741.00 1573.13,740.50 1574.18,740.00 1575.24,739.50 1576.30,739.00 1577.36,738.50 1578.40,738.00 1579.43,737.50 1580.43,737.00 1581.40,736.50 1582.33,736.00 1583.21,735.50 1584.04,735.00 1584.82,734.50 1585.59,734.00 1586.34,733.50 1587.06,733.00 1587.77,732.50 1588.46,732.00 1589.12,731.50 1589.75,731.00 1590.36,730.50 1590.94,730.00 1591.49,729.50 1592.01,729.00 1592.49,728.50 1592.95,728.00 1593.37,727.50 1593.77,727.00 1594.15,726.50 1594.51,726.00 1594.86,725.50 1595.19,725.00 1595.53,724.50 1595.86,724.00 1596.19,723.50 1596.54,723.00 1596.89,722.50 1597.25,722.00 1597.64,721.50 1598.04,721.00 1598.45,720.50 1598.85,720.00 1599.26,719.50 1599.67,719.00 1600.08,718.50 1600.50,718.00 1600.93,717.50 1601.36,717.00 1601.80,716.50 1602.24,716.00 1602.70,715.50 1603.16,715.00 1603.64,714.50 1604.13,714.00 1604.63,713.50 1605.14,713.00 1605.67,712.50 1606.22,712.00 1606.80,711.50 1607.42,711.00 1608.06,710.50 1608.74,710.00 1609.43,709.50 1610.15,709.00 1610.88,708.50 1611.62,708.00 1612.37,707.50 1613.12,707.00 1613.87,706.50 1614.62,706.00 1615.36,705.50 1616.09,705.00 1616.81,704.50 1617.50,704.00 1618.18,703.50 1618.83,703.00 1619.50,702.50 1620.19,702.00 1620.89,701.50 1621.58,701.00 1622.24,700.50 1622.84,700.00 1623.38,699.50 1623.82,699.00 1624.16,698.50 1624.44,698.00 1624.68,697.50 1624.90,697.00 1625.10,696.50 1625.29,696.00 1625.46,695.50 1625.62,695.00 1625.77,694.50 1625.93,694.00 1626.08,693.50 1626.23,693.00 1626.37,692.50 1626.51,692.00 1626.64,691.50 1626.76,691.00 1626.87,690.50 1626.98,690.00 1627.08,689.50 1627.17,689.00 1627.25,688.50 1627.33,688.00 1627.41,687.50 1627.48,687.00 1627.55,686.50 1627.61,686.00 1627.68,685.50 1627.76,685.00 1627.84,684.50 1627.92,684.00 1628.01,683.50 1628.11,683.00 1628.22,682.50 1628.35,682.00 1628.49,681.50 1628.64,681.00 1628.80,680.50 1628.98,680.00 1629.16,679.50 1629.35,679.00 1629.55,678.50 1629.76,678.00 1629.98,677.50 1630.20,677.00 1630.42,676.50 1630.65,676.00 1630.88,675.50 1631.11,675.00 1631.34,674.50 1631.57,674.00 1631.80,673.50 1632.04,673.00 1632.28,672.50 1632.54,672.00 1632.81,671.50 1633.09,671.00 1633.38,670.50 1633.67,670.00 1633.96,669.50 1634.25,669.00 1634.55,668.50 1634.84,668.00 1635.12,667.50 1635.40,667.00 1635.68,666.50 1635.94,666.00 1636.19,665.50 1636.43,665.00 1636.66,664.50 1636.87,664.00 1637.09,663.50 1637.31,663.00 1637.52,662.50 1637.74,662.00 1637.95,661.50 1638.16,661.00 1638.37,660.50 1638.57,660.00 1638.76,659.50 1638.94,659.00 1639.12,658.50 1639.28,658.00 1639.43,657.50 1639.57,657.00 1639.69,656.50 1639.79,656.00 1639.88,655.50 1639.96,655.00 1640.04,654.50 1640.11,654.00 1640.19,653.50 1640.26,653.00 1640.32,652.50 1640.39,652.00 1640.45,651.50 1640.51,651.00 1640.56,650.50 1640.61,650.00 1640.66,649.50 1640.70,649.00 1640.73,648.50 1640.76,648.00 1640.78,647.50 1640.79,647.00 1640.80,646.50 1640.80,646.00 1640.80,645.50 1640.79,645.00 1640.79,644.50 1640.78,644.00 1640.77,643.50 1640.76,643.00 1640.74,642.50 1640.73,642.00 1640.72,641.50 1640.70,641.00 1640.69,640.50 1640.68,640.00 1640.66,639.50 1640.65,639.00 1640.64,638.50 1640.63,638.00 1640.62,637.50 1640.61,637.00 1640.61,636.50 1640.60,636.00 1640.60,635.50 1640.61,635.00 1640.63,634.50 1640.67,634.00 1640.72,633.50 1640.79,633.00 1640.86,632.50 1640.95,632.00 1641.04,631.50 1641.14,631.00 1641.24,630.50 1641.34,630.00 1641.44,629.50 1641.54,629.00 1641.63,628.50 1641.72,628.00 1641.81,627.50 1641.90,627.00 1642.00,626.50 1642.11,626.00 1642.21,625.50 1642.32,625.00 1642.43,624.50 1642.54,624.00 1642.65,623.50 1642.77,623.00 1642.87,622.50 1642.98,622.00 1643.08,621.50 1643.18,621.00 1643.27,620.50 1643.36,620.00 1643.44,619.50 1643.52,619.00 1643.62,618.50 1643.73,618.00 1643.83,617.50 1643.93,617.00 1644.02,616.50 1644.12,616.00 1644.21,615.50 1644.30,615.00 1644.39,614.50 1644.47,614.00 1644.55,613.50 1644.62,613.00 1644.69,612.50 1644.76,612.00 1644.82,611.50 1644.87,611.00 1644.91,610.50 1644.95,610.00 1644.97,609.50 1645.00,609.00 1645.02,608.50 1645.04,608.00 1645.06,607.50 1645.08,607.00 1645.10,606.50 1645.11,606.00 1645.13,605.50 1645.15,605.00 1645.16,604.50 1645.18,604.00 1645.19,603.50 1645.20,603.00 1645.21,602.50 1645.22,602.00 1645.23,601.50 1645.24,601.00 1645.24,600.50 1645.25,600.00 1645.26,599.50 1645.26,599.00 1645.27,598.50 1645.27,598.00 1645.28,597.50 1645.28,597.00 1645.29,596.50 1645.29,596.00 1645.30,595.50 1645.30,595.00 1645.31,594.50 1645.31,594.00 1645.31,593.50 1645.32,593.00 1645.32,592.50 1645.33,592.00 1645.33,591.50 1645.34,591.00 1645.34,590.50 1645.35,590.00 1645.35,589.50 1645.36,589.00 1645.36,588.50 1645.36,588.00 1645.37,587.50 1645.37,587.00 1645.38,586.50 1645.38,586.00 1645.39,585.50 1645.39,585.00 1645.39,584.50 1645.40,584.00 1645.40,583.50 1645.41,583.00 1645.41,582.50 1645.41,582.00 1645.42,581.50 1645.42,581.00 1645.43,580.50 1645.43,580.00 1645.43,579.50 1645.44,579.00 1645.44,578.50 1645.44,578.00 1645.45,577.50 1645.45,577.00 1645.45,576.50 1645.45,576.00 1645.45,575.50 1645.45,575.00 1645.45,574.50 1645.45,574.00 1645.45,573.50 1645.45,573.00 1645.45,572.50 1645.45,572.00 1645.45,571.50 1645.45,571.00 1645.45,570.50 1645.45,570.00 1645.45,569.50 1645.45,569.00 1645.45,568.50 1645.45,568.00 1645.45,567.50 1645.45,567.00 1645.45,566.50 1645.45,566.00 1645.45,565.50 1645.45,565.00 1645.45,564.50 1645.45,564.00 1645.45,563.50 1645.45,563.00 1645.45,562.50 1645.45,562.00 1645.45,561.50 1645.45,561.00 1645.45,560.50 1645.45,560.00 1645.45,559.50 1645.45,559.00 1645.45,558.50 1645.45,558.00 1645.45,557.50 1645.45,557.00 1645.45,556.50 1645.45,556.00 1645.45,555.50 1645.45,555.00 1645.45,554.50 1645.45,554.00 1645.45,553.50 1645.45,553.00 1645.45,552.50 1645.45,552.00 1645.45,551.50 1645.45,551.00 1645.45,550.50 1645.45,550.00 1645.45,549.50 1645.45,549.00 1645.45,548.50 1645.45,548.00 1645.45,547.50 1645.45,547.00 1645.45,546.50 1645.45,546.00 1645.45,545.50 1645.45,545.00 1645.45,544.50 1645.45,544.00 1645.45,543.50 1645.45,543.00 1645.45,542.50 1645.45,542.00 1645.45,541.50 1645.45,541.00 1645.45,540.50 1645.45,540.00 1645.45,539.50 1645.45,539.00 1645.45,538.50 1645.45,538.00 1645.45,537.50 1645.45,537.00 1645.45,536.50 1645.45,536.00 1645.45,535.50 1645.45,535.00 1645.45,534.50 1645.45,534.00 1645.45,533.50 1645.45,533.00 1645.45,532.50 1645.45,532.00 1645.45,531.50 1645.45,531.00 1645.45,530.50 1645.45,530.00 1645.45,529.50 1645.45,529.00 1645.45,528.50 1645.45,528.00 1645.45,527.50 1645.45,527.00 1645.45,526.50 1645.45,526.00 1645.45,525.50 1645.45,525.00 1645.45,524.50 1645.45,524.00 1645.45,523.50 1645.45,523.00 1645.45,522.50 1645.45,522.00 1645.45,521.50 1645.45,521.00 1645.45,520.50 1645.45,520.00 1645.45,519.50 1645.45,519.00 Z" fill="#b1cf8e" stroke="#505050" stroke-width="1.8" stroke-linejoin="round"/>
<line x1="1592.40" y1="728.60" x2="1698.60" y2="728.60" stroke="#505050" stroke-width="1.7" stroke-dasharray="4.5 4.5"/>
<line x1="1550.92" y1="753.70" x2="1740.08" y2="753.70" stroke="#505050" stroke-width="1.7" stroke-dasharray="9 9"/>
<line x1="1591.50" y1="776.70" x2="1699.50" y2="776.70" stroke="#505050" stroke-width="1.7" stroke-dasharray="4.5 4.5"/>
<text x="1614.9" y="751.3" class="s" font-size="13.3">m = 1.3</text>
<rect x="1288.5" y="496.8" width="476.0" height="354.3" fill="none" stroke="#d0d0d0" stroke-width="1.7"/>
</g>
</svg></body></html>
